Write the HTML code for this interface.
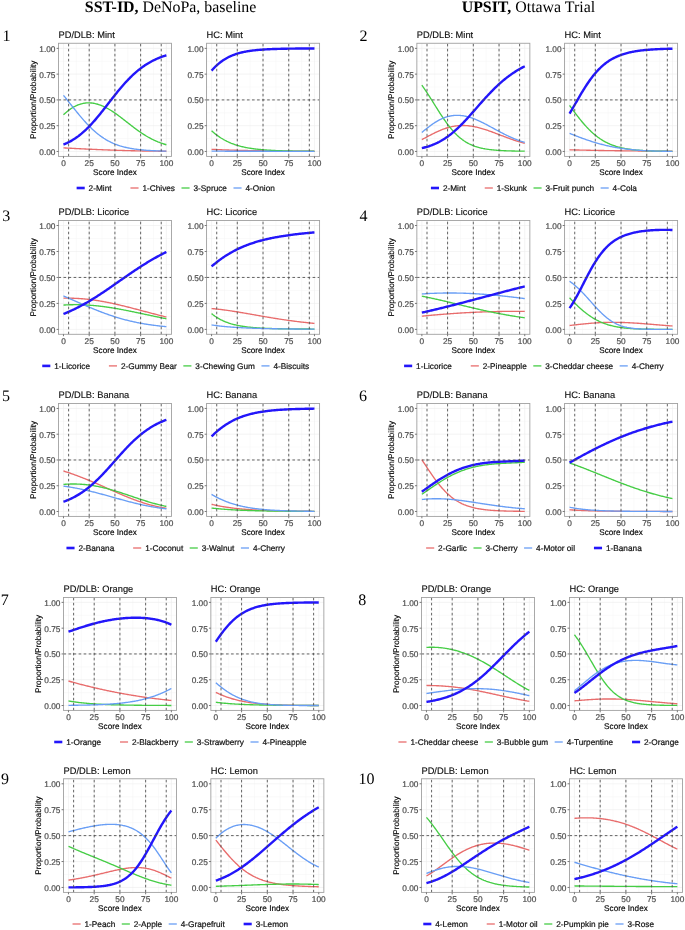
<!DOCTYPE html>
<html><head><meta charset="utf-8"><style>
html,body{margin:0;padding:0;background:#fff;}
svg{display:block;will-change:transform;}
text{font-family:"Liberation Sans",sans-serif;text-rendering:geometricPrecision;}
.mt{font-family:"Liberation Serif",serif;font-size:15.9px;fill:#000;}
.nm{font-family:"Liberation Serif",serif;font-size:16px;fill:#000;}
.tk{font-size:8.3px;fill:#4d4d4d;stroke:#4d4d4d;stroke-width:0.2px;}
.ax{font-size:8.2px;fill:#000;stroke:#000;stroke-width:0.15px;}
.ti{font-size:9.3px;fill:#111;stroke:#111;stroke-width:0.15px;}
.lg{font-size:8.25px;fill:#111;stroke:#111;stroke-width:0.2px;}
</style></head><body>
<svg width="685" height="930" viewBox="0 0 685 930">
<rect width="685" height="930" fill="#fff"/>
<text x="170.6" y="12.3" class="mt" text-anchor="middle"><tspan font-weight="bold">SST-ID,</tspan> DeNoPa, baseline</text>
<text x="528.4" y="12.3" class="mt" text-anchor="middle"><tspan font-weight="bold">UPSIT,</tspan> Ottawa Trial</text>
<text x="2.45" y="40.9" class="nm">1</text>
<text x="359.5" y="40.8" class="nm">2</text>
<text x="2.2" y="220.8" class="nm">3</text>
<text x="359.5" y="220.7" class="nm">4</text>
<text x="1.9" y="400.8" class="nm">5</text>
<text x="359" y="400.8" class="nm">6</text>
<text x="0.8" y="604.9" class="nm">7</text>
<text x="358.3" y="604.9" class="nm">8</text>
<text x="1" y="784.4" class="nm">9</text>
<text x="358.5" y="784.4" class="nm">10</text>
<path d="M76.33 43.26V156.4M102.06 43.26V156.4M127.78 43.26V156.4M153.51 43.26V156.4M58.47 138.56H171.47M58.47 112.79H171.47M58.47 87.02H171.47M58.47 61.25H171.47" stroke="#f4f4f4" stroke-width="0.5" fill="none"/>
<path d="M63.47 43.26V156.4M89.19 43.26V156.4M114.92 43.26V156.4M140.64 43.26V156.4M166.37 43.26V156.4M58.47 151.45H171.47M58.47 125.68H171.47M58.47 99.91H171.47M58.47 74.13H171.47M58.47 48.36H171.47" stroke="#ececec" stroke-width="0.6" fill="none"/>
<path d="M63.47 147.89 64.33 147.94 65.19 147.98 66.04 148.03 66.9 148.07 67.76 148.12 68.61 148.16 69.47 148.2 70.33 148.25 71.19 148.29 72.05 148.34 72.9 148.38 73.76 148.42 74.62 148.47 75.47 148.51 76.33 148.55 77.19 148.6 78.05 148.64 78.91 148.68 79.76 148.72 80.62 148.76 81.48 148.81 82.33 148.85 83.19 148.89 84.05 148.93 84.91 148.97 85.77 149.01 86.62 149.05 87.48 149.09 88.34 149.13 89.19 149.17 90.05 149.21 90.91 149.25 91.77 149.29 92.62 149.33 93.48 149.37 94.34 149.4 95.2 149.44 96.05 149.48 96.91 149.52 97.77 149.55 98.63 149.59 99.48 149.63 100.34 149.66 101.2 149.7 102.06 149.73 102.91 149.77 103.77 149.8 104.63 149.84 105.49 149.87 106.34 149.9 107.2 149.94 108.06 149.97 108.92 150 109.77 150.03 110.63 150.07 111.49 150.1 112.35 150.13 113.2 150.16 114.06 150.19 114.92 150.22 115.78 150.25 116.63 150.28 117.49 150.31 118.35 150.33 119.21 150.36 120.06 150.39 120.92 150.42 121.78 150.44 122.64 150.47 123.5 150.49 124.35 150.52 125.21 150.55 126.07 150.57 126.92 150.59 127.78 150.62 128.64 150.64 129.5 150.66 130.35 150.69 131.21 150.71 132.07 150.73 132.93 150.75 133.78 150.77 134.64 150.79 135.5 150.81 136.36 150.83 137.22 150.85 138.07 150.87 138.93 150.89 139.79 150.91 140.64 150.92 141.5 150.94 142.36 150.96 143.22 150.97 144.07 150.99 144.93 151.01 145.79 151.02 146.65 151.04 147.5 151.05 148.36 151.06 149.22 151.08 150.08 151.09 150.94 151.1 151.79 151.12 152.65 151.13 153.51 151.14 154.36 151.15 155.22 151.16 156.08 151.18 156.94 151.19 157.79 151.2 158.65 151.21 159.51 151.22 160.37 151.23 161.22 151.23 162.08 151.24 162.94 151.25 163.8 151.26 164.65 151.27 165.51 151.28 166.37 151.28" stroke="#e86c6c" stroke-width="1.35" fill="none" stroke-linejoin="round"/>
<path d="M63.47 114.76 64.33 113.96 65.19 113.19 66.04 112.44 66.9 111.72 67.76 111.02 68.61 110.35 69.47 109.71 70.33 109.1 71.19 108.52 72.05 107.97 72.9 107.44 73.76 106.95 74.62 106.48 75.47 106.04 76.33 105.63 77.19 105.25 78.05 104.9 78.91 104.58 79.76 104.29 80.62 104.02 81.48 103.79 82.33 103.58 83.19 103.4 84.05 103.24 84.91 103.12 85.77 103.02 86.62 102.94 87.48 102.9 88.34 102.87 89.19 102.88 90.05 102.91 90.91 102.96 91.77 103.04 92.62 103.14 93.48 103.27 94.34 103.42 95.2 103.6 96.05 103.79 96.91 104.01 97.77 104.25 98.63 104.52 99.48 104.8 100.34 105.11 101.2 105.44 102.06 105.78 102.91 106.15 103.77 106.53 104.63 106.94 105.49 107.36 106.34 107.8 107.2 108.26 108.06 108.74 108.92 109.23 109.77 109.74 110.63 110.26 111.49 110.79 112.35 111.35 113.2 111.91 114.06 112.49 114.92 113.07 115.78 113.67 116.63 114.28 117.49 114.9 118.35 115.53 119.21 116.17 120.06 116.81 120.92 117.46 121.78 118.11 122.64 118.78 123.5 119.44 124.35 120.11 125.21 120.78 126.07 121.45 126.92 122.12 127.78 122.8 128.64 123.47 129.5 124.14 130.35 124.81 131.21 125.47 132.07 126.13 132.93 126.79 133.78 127.44 134.64 128.09 135.5 128.73 136.36 129.36 137.22 129.99 138.07 130.6 138.93 131.21 139.79 131.81 140.64 132.4 141.5 132.98 142.36 133.55 143.22 134.11 144.07 134.65 144.93 135.19 145.79 135.71 146.65 136.23 147.5 136.73 148.36 137.22 149.22 137.69 150.08 138.16 150.94 138.61 151.79 139.05 152.65 139.48 153.51 139.9 154.36 140.3 155.22 140.69 156.08 141.07 156.94 141.44 157.79 141.8 158.65 142.14 159.51 142.48 160.37 142.8 161.22 143.11 162.08 143.42 162.94 143.71 163.8 143.99 164.65 144.26 165.51 144.52 166.37 144.77" stroke="#46cd46" stroke-width="1.35" fill="none" stroke-linejoin="round"/>
<path d="M63.47 95.33 64.33 96.38 65.19 97.44 66.04 98.5 66.9 99.57 67.76 100.65 68.61 101.72 69.47 102.8 70.33 103.89 71.19 104.97 72.05 106.05 72.9 107.13 73.76 108.21 74.62 109.28 75.47 110.35 76.33 111.42 77.19 112.47 78.05 113.52 78.91 114.57 79.76 115.6 80.62 116.62 81.48 117.63 82.33 118.63 83.19 119.62 84.05 120.59 84.91 121.55 85.77 122.5 86.62 123.43 87.48 124.34 88.34 125.24 89.19 126.12 90.05 126.98 90.91 127.83 91.77 128.65 92.62 129.46 93.48 130.25 94.34 131.02 95.2 131.77 96.05 132.51 96.91 133.22 97.77 133.92 98.63 134.59 99.48 135.25 100.34 135.88 101.2 136.5 102.06 137.1 102.91 137.68 103.77 138.25 104.63 138.79 105.49 139.32 106.34 139.83 107.2 140.32 108.06 140.79 108.92 141.25 109.77 141.69 110.63 142.12 111.49 142.53 112.35 142.92 113.2 143.3 114.06 143.66 114.92 144.02 115.78 144.35 116.63 144.68 117.49 144.99 118.35 145.29 119.21 145.57 120.06 145.85 120.92 146.11 121.78 146.36 122.64 146.6 123.5 146.83 124.35 147.05 125.21 147.26 126.07 147.47 126.92 147.66 127.78 147.84 128.64 148.02 129.5 148.19 130.35 148.35 131.21 148.5 132.07 148.65 132.93 148.79 133.78 148.92 134.64 149.05 135.5 149.17 136.36 149.29 137.22 149.4 138.07 149.5 138.93 149.6 139.79 149.69 140.64 149.78 141.5 149.87 142.36 149.95 143.22 150.03 144.07 150.1 144.93 150.17 145.79 150.24 146.65 150.3 147.5 150.36 148.36 150.42 149.22 150.48 150.08 150.53 150.94 150.58 151.79 150.62 152.65 150.67 153.51 150.71 154.36 150.75 155.22 150.79 156.08 150.82 156.94 150.86 157.79 150.89 158.65 150.92 159.51 150.95 160.37 150.98 161.22 151 162.08 151.03 162.94 151.05 163.8 151.07 164.65 151.09 165.51 151.11 166.37 151.13" stroke="#699ef5" stroke-width="1.35" fill="none" stroke-linejoin="round"/>
<path d="M63.47 144.56 64.33 144.21 65.19 143.84 66.04 143.46 66.9 143.07 67.76 142.65 68.61 142.22 69.47 141.78 70.33 141.32 71.19 140.84 72.05 140.34 72.9 139.82 73.76 139.29 74.62 138.74 75.47 138.17 76.33 137.58 77.19 136.97 78.05 136.35 78.91 135.7 79.76 135.04 80.62 134.35 81.48 133.65 82.33 132.92 83.19 132.18 84.05 131.42 84.91 130.63 85.77 129.83 86.62 129.01 87.48 128.17 88.34 127.32 89.19 126.44 90.05 125.55 90.91 124.64 91.77 123.71 92.62 122.77 93.48 121.81 94.34 120.84 95.2 119.85 96.05 118.85 96.91 117.83 97.77 116.81 98.63 115.77 99.48 114.72 100.34 113.66 101.2 112.59 102.06 111.51 102.91 110.43 103.77 109.34 104.63 108.25 105.49 107.15 106.34 106.05 107.2 104.94 108.06 103.84 108.92 102.73 109.77 101.62 110.63 100.52 111.49 99.42 112.35 98.32 113.2 97.23 114.06 96.14 114.92 95.06 115.78 93.98 116.63 92.91 117.49 91.85 118.35 90.8 119.21 89.76 120.06 88.74 120.92 87.72 121.78 86.71 122.64 85.72 123.5 84.74 124.35 83.78 125.21 82.82 126.07 81.89 126.92 80.96 127.78 80.06 128.64 79.17 129.5 78.29 130.35 77.43 131.21 76.59 132.07 75.76 132.93 74.95 133.78 74.16 134.64 73.38 135.5 72.62 136.36 71.88 137.22 71.15 138.07 70.44 138.93 69.75 139.79 69.07 140.64 68.41 141.5 67.77 142.36 67.14 143.22 66.53 144.07 65.94 144.93 65.36 145.79 64.79 146.65 64.24 147.5 63.71 148.36 63.19 149.22 62.69 150.08 62.2 150.94 61.72 151.79 61.26 152.65 60.81 153.51 60.38 154.36 59.96 155.22 59.55 156.08 59.15 156.94 58.77 157.79 58.39 158.65 58.03 159.51 57.68 160.37 57.35 161.22 57.02 162.08 56.7 162.94 56.39 163.8 56.1 164.65 55.81 165.51 55.53 166.37 55.26" stroke="#2316fa" stroke-width="2.4" fill="none" stroke-linejoin="round"/>
<path d="M68.61 156.4V43.26M89.19 156.4V43.26M114.92 156.4V43.26M140.64 156.4V43.26M161.22 156.4V43.26" stroke="#484848" stroke-width="0.85" fill="none" stroke-dasharray="2.6 2.4"/>
<path d="M58.47 99.91H171.47" stroke="#484848" stroke-width="0.85" fill="none" stroke-dasharray="2.6 2.45"/>
<rect x="58.47" y="43.26" width="113" height="113.14" fill="none" stroke="#a0a0a0" stroke-width="0.9"/>
<path d="M56.57 151.45H58.47M56.57 125.68H58.47M56.57 99.91H58.47M56.57 74.13H58.47M56.57 48.36H58.47M63.47 156.4V158.3M89.19 156.4V158.3M114.92 156.4V158.3M140.64 156.4V158.3M166.37 156.4V158.3" stroke="#555" stroke-width="0.8" fill="none"/>
<text x="55.47" y="154.95" class="tk" text-anchor="end">0.00</text>
<text x="55.47" y="129.18" class="tk" text-anchor="end">0.25</text>
<text x="55.47" y="103.41" class="tk" text-anchor="end">0.50</text>
<text x="55.47" y="77.63" class="tk" text-anchor="end">0.75</text>
<text x="55.47" y="51.86" class="tk" text-anchor="end">1.00</text>
<text x="63.47" y="165.8" class="tk" text-anchor="middle">0</text>
<text x="89.19" y="165.8" class="tk" text-anchor="middle">25</text>
<text x="114.92" y="165.8" class="tk" text-anchor="middle">50</text>
<text x="140.64" y="165.8" class="tk" text-anchor="middle">75</text>
<text x="166.37" y="165.8" class="tk" text-anchor="middle">100</text>
<text x="114.97" y="175.1" class="ax" text-anchor="middle">Score Index</text>
<text x="58.47" y="38.06" class="ti">PD/DLB: Mint</text>
<text x="35.8" y="99.83" class="ax" text-anchor="middle" transform="rotate(-90 35.8 99.83)">Proportion/Probability</text>
<path d="M224.43 43.26V156.4M250.16 43.26V156.4M275.88 43.26V156.4M301.61 43.26V156.4M206.57 138.56H319.57M206.57 112.79H319.57M206.57 87.02H319.57M206.57 61.25H319.57" stroke="#f4f4f4" stroke-width="0.5" fill="none"/>
<path d="M211.57 43.26V156.4M237.29 43.26V156.4M263.02 43.26V156.4M288.75 43.26V156.4M314.47 43.26V156.4M206.57 151.45H319.57M206.57 125.68H319.57M206.57 99.91H319.57M206.57 74.13H319.57M206.57 48.36H319.57" stroke="#ececec" stroke-width="0.6" fill="none"/>
<path d="M211.57 149.31 212.43 149.35 213.28 149.39 214.14 149.44 215 149.48 215.86 149.51 216.72 149.55 217.57 149.59 218.43 149.63 219.29 149.66 220.14 149.7 221 149.73 221.86 149.77 222.72 149.8 223.57 149.83 224.43 149.87 225.29 149.9 226.15 149.93 227 149.96 227.86 149.99 228.72 150.02 229.58 150.05 230.44 150.07 231.29 150.1 232.15 150.13 233.01 150.16 233.86 150.18 234.72 150.21 235.58 150.23 236.44 150.26 237.29 150.28 238.15 150.3 239.01 150.33 239.87 150.35 240.72 150.37 241.58 150.39 242.44 150.41 243.3 150.43 244.15 150.45 245.01 150.47 245.87 150.49 246.73 150.51 247.58 150.53 248.44 150.55 249.3 150.57 250.16 150.58 251.01 150.6 251.87 150.62 252.73 150.63 253.59 150.65 254.44 150.67 255.3 150.68 256.16 150.7 257.02 150.71 257.88 150.73 258.73 150.74 259.59 150.76 260.45 150.77 261.31 150.78 262.16 150.8 263.02 150.81 263.88 150.82 264.73 150.83 265.59 150.85 266.45 150.86 267.31 150.87 268.17 150.88 269.02 150.89 269.88 150.9 270.74 150.92 271.59 150.93 272.45 150.94 273.31 150.95 274.17 150.96 275.02 150.97 275.88 150.98 276.74 150.99 277.6 150.99 278.45 151 279.31 151.01 280.17 151.02 281.03 151.03 281.88 151.04 282.74 151.05 283.6 151.05 284.46 151.06 285.31 151.07 286.17 151.08 287.03 151.08 287.89 151.09 288.75 151.1 289.6 151.11 290.46 151.11 291.32 151.12 292.17 151.13 293.03 151.13 293.89 151.14 294.75 151.14 295.61 151.15 296.46 151.16 297.32 151.16 298.18 151.17 299.03 151.17 299.89 151.18 300.75 151.18 301.61 151.19 302.46 151.19 303.32 151.2 304.18 151.2 305.04 151.21 305.89 151.21 306.75 151.22 307.61 151.22 308.47 151.23 309.32 151.23 310.18 151.24 311.04 151.24 311.9 151.25 312.75 151.25 313.61 151.25 314.47 151.26" stroke="#e86c6c" stroke-width="1.35" fill="none" stroke-linejoin="round"/>
<path d="M211.57 130.78 212.43 131.54 213.28 132.28 214.14 133 215 133.7 215.86 134.38 216.72 135.03 217.57 135.67 218.43 136.28 219.29 136.87 220.14 137.44 221 138 221.86 138.53 222.72 139.04 223.57 139.54 224.43 140.02 225.29 140.48 226.15 140.92 227 141.35 227.86 141.76 228.72 142.16 229.58 142.54 230.44 142.9 231.29 143.26 232.15 143.59 233.01 143.92 233.86 144.23 234.72 144.53 235.58 144.82 236.44 145.09 237.29 145.36 238.15 145.61 239.01 145.86 239.87 146.09 240.72 146.31 241.58 146.53 242.44 146.74 243.3 146.93 244.15 147.12 245.01 147.3 245.87 147.48 246.73 147.64 247.58 147.8 248.44 147.96 249.3 148.1 250.16 148.24 251.01 148.38 251.87 148.51 252.73 148.63 253.59 148.75 254.44 148.86 255.3 148.97 256.16 149.07 257.02 149.17 257.88 149.27 258.73 149.36 259.59 149.45 260.45 149.53 261.31 149.61 262.16 149.68 263.02 149.76 263.88 149.83 264.73 149.9 265.59 149.96 266.45 150.02 267.31 150.08 268.17 150.14 269.02 150.19 269.88 150.24 270.74 150.29 271.59 150.34 272.45 150.38 273.31 150.43 274.17 150.47 275.02 150.51 275.88 150.55 276.74 150.58 277.6 150.62 278.45 150.65 279.31 150.68 280.17 150.71 281.03 150.74 281.88 150.77 282.74 150.8 283.6 150.83 284.46 150.85 285.31 150.87 286.17 150.9 287.03 150.92 287.89 150.94 288.75 150.96 289.6 150.98 290.46 151 291.32 151.01 292.17 151.03 293.03 151.05 293.89 151.06 294.75 151.08 295.61 151.09 296.46 151.11 297.32 151.12 298.18 151.13 299.03 151.14 299.89 151.16 300.75 151.17 301.61 151.18 302.46 151.19 303.32 151.2 304.18 151.21 305.04 151.22 305.89 151.23 306.75 151.23 307.61 151.24 308.47 151.25 309.32 151.26 310.18 151.26 311.04 151.27 311.9 151.28 312.75 151.28 313.61 151.29 314.47 151.3" stroke="#46cd46" stroke-width="1.35" fill="none" stroke-linejoin="round"/>
<path d="M211.57 151.16 212.43 151.16 213.28 151.16 214.14 151.17 215 151.17 215.86 151.17 216.72 151.18 217.57 151.18 218.43 151.18 219.29 151.18 220.14 151.19 221 151.19 221.86 151.19 222.72 151.19 223.57 151.19 224.43 151.2 225.29 151.2 226.15 151.2 227 151.2 227.86 151.21 228.72 151.21 229.58 151.21 230.44 151.21 231.29 151.22 232.15 151.22 233.01 151.22 233.86 151.22 234.72 151.22 235.58 151.23 236.44 151.23 237.29 151.23 238.15 151.23 239.01 151.23 239.87 151.24 240.72 151.24 241.58 151.24 242.44 151.24 243.3 151.24 244.15 151.25 245.01 151.25 245.87 151.25 246.73 151.25 247.58 151.25 248.44 151.25 249.3 151.26 250.16 151.26 251.01 151.26 251.87 151.26 252.73 151.26 253.59 151.27 254.44 151.27 255.3 151.27 256.16 151.27 257.02 151.27 257.88 151.27 258.73 151.28 259.59 151.28 260.45 151.28 261.31 151.28 262.16 151.28 263.02 151.28 263.88 151.28 264.73 151.29 265.59 151.29 266.45 151.29 267.31 151.29 268.17 151.29 269.02 151.29 269.88 151.29 270.74 151.3 271.59 151.3 272.45 151.3 273.31 151.3 274.17 151.3 275.02 151.3 275.88 151.3 276.74 151.31 277.6 151.31 278.45 151.31 279.31 151.31 280.17 151.31 281.03 151.31 281.88 151.31 282.74 151.31 283.6 151.32 284.46 151.32 285.31 151.32 286.17 151.32 287.03 151.32 287.89 151.32 288.75 151.32 289.6 151.32 290.46 151.32 291.32 151.33 292.17 151.33 293.03 151.33 293.89 151.33 294.75 151.33 295.61 151.33 296.46 151.33 297.32 151.33 298.18 151.33 299.03 151.34 299.89 151.34 300.75 151.34 301.61 151.34 302.46 151.34 303.32 151.34 304.18 151.34 305.04 151.34 305.89 151.34 306.75 151.34 307.61 151.35 308.47 151.35 309.32 151.35 310.18 151.35 311.04 151.35 311.9 151.35 312.75 151.35 313.61 151.35 314.47 151.35" stroke="#699ef5" stroke-width="1.35" fill="none" stroke-linejoin="round"/>
<path d="M211.57 70.67 212.43 69.7 213.28 68.77 214.14 67.87 215 67.01 215.86 66.17 216.72 65.37 217.57 64.6 218.43 63.86 219.29 63.14 220.14 62.46 221 61.81 221.86 61.18 222.72 60.58 223.57 60 224.43 59.45 225.29 58.93 226.15 58.42 227 57.94 227.86 57.49 228.72 57.05 229.58 56.63 230.44 56.23 231.29 55.85 232.15 55.49 233.01 55.15 233.86 54.82 234.72 54.51 235.58 54.21 236.44 53.92 237.29 53.65 238.15 53.4 239.01 53.15 239.87 52.92 240.72 52.7 241.58 52.49 242.44 52.29 243.3 52.1 244.15 51.91 245.01 51.74 245.87 51.58 246.73 51.42 247.58 51.27 248.44 51.13 249.3 51 250.16 50.87 251.01 50.75 251.87 50.64 252.73 50.53 253.59 50.42 254.44 50.32 255.3 50.23 256.16 50.14 257.02 50.06 257.88 49.97 258.73 49.9 259.59 49.82 260.45 49.76 261.31 49.69 262.16 49.63 263.02 49.57 263.88 49.51 264.73 49.46 265.59 49.4 266.45 49.36 267.31 49.31 268.17 49.27 269.02 49.22 269.88 49.18 270.74 49.15 271.59 49.11 272.45 49.07 273.31 49.04 274.17 49.01 275.02 48.98 275.88 48.95 276.74 48.93 277.6 48.9 278.45 48.88 279.31 48.85 280.17 48.83 281.03 48.81 281.88 48.79 282.74 48.77 283.6 48.75 284.46 48.73 285.31 48.72 286.17 48.7 287.03 48.69 287.89 48.67 288.75 48.66 289.6 48.64 290.46 48.63 291.32 48.62 292.17 48.61 293.03 48.6 293.89 48.59 294.75 48.58 295.61 48.57 296.46 48.56 297.32 48.55 298.18 48.54 299.03 48.54 299.89 48.53 300.75 48.52 301.61 48.51 302.46 48.51 303.32 48.5 304.18 48.5 305.04 48.49 305.89 48.48 306.75 48.48 307.61 48.47 308.47 48.47 309.32 48.46 310.18 48.46 311.04 48.46 311.9 48.45 312.75 48.45 313.61 48.45 314.47 48.44" stroke="#2316fa" stroke-width="2.4" fill="none" stroke-linejoin="round"/>
<path d="M216.72 156.4V43.26M237.29 156.4V43.26M263.02 156.4V43.26M288.75 156.4V43.26M309.32 156.4V43.26" stroke="#484848" stroke-width="0.85" fill="none" stroke-dasharray="2.6 2.4"/>
<path d="M206.57 99.91H319.57" stroke="#484848" stroke-width="0.85" fill="none" stroke-dasharray="2.6 2.45"/>
<rect x="206.57" y="43.26" width="113" height="113.14" fill="none" stroke="#a0a0a0" stroke-width="0.9"/>
<path d="M204.67 151.45H206.57M204.67 125.68H206.57M204.67 99.91H206.57M204.67 74.13H206.57M204.67 48.36H206.57M211.57 156.4V158.3M237.29 156.4V158.3M263.02 156.4V158.3M288.75 156.4V158.3M314.47 156.4V158.3" stroke="#555" stroke-width="0.8" fill="none"/>
<text x="203.57" y="154.95" class="tk" text-anchor="end">0.00</text>
<text x="203.57" y="129.18" class="tk" text-anchor="end">0.25</text>
<text x="203.57" y="103.41" class="tk" text-anchor="end">0.50</text>
<text x="203.57" y="77.63" class="tk" text-anchor="end">0.75</text>
<text x="203.57" y="51.86" class="tk" text-anchor="end">1.00</text>
<text x="211.57" y="165.8" class="tk" text-anchor="middle">0</text>
<text x="237.29" y="165.8" class="tk" text-anchor="middle">25</text>
<text x="263.02" y="165.8" class="tk" text-anchor="middle">50</text>
<text x="288.75" y="165.8" class="tk" text-anchor="middle">75</text>
<text x="314.47" y="165.8" class="tk" text-anchor="middle">100</text>
<text x="263.07" y="175.1" class="ax" text-anchor="middle">Score Index</text>
<text x="206.57" y="38.06" class="ti">HC: Mint</text>
<path d="M434.72 43.26V156.4M460.45 43.26V156.4M486.17 43.26V156.4M511.9 43.26V156.4M416.86 138.56H529.86M416.86 112.79H529.86M416.86 87.02H529.86M416.86 61.25H529.86" stroke="#f4f4f4" stroke-width="0.5" fill="none"/>
<path d="M421.86 43.26V156.4M447.59 43.26V156.4M473.31 43.26V156.4M499.04 43.26V156.4M524.76 43.26V156.4M416.86 151.45H529.86M416.86 125.68H529.86M416.86 99.91H529.86M416.86 74.13H529.86M416.86 48.36H529.86" stroke="#ececec" stroke-width="0.6" fill="none"/>
<path d="M421.86 139.62 422.72 139.17 423.57 138.72 424.43 138.26 425.29 137.8 426.15 137.34 427 136.88 427.86 136.43 428.72 135.97 429.58 135.52 430.44 135.07 431.29 134.62 432.15 134.18 433.01 133.74 433.87 133.31 434.72 132.89 435.58 132.47 436.44 132.07 437.3 131.67 438.15 131.28 439.01 130.9 439.87 130.53 440.73 130.17 441.58 129.82 442.44 129.48 443.3 129.16 444.16 128.85 445.01 128.55 445.87 128.26 446.73 127.99 447.59 127.73 448.44 127.48 449.3 127.25 450.16 127.03 451.01 126.83 451.87 126.64 452.73 126.46 453.59 126.3 454.44 126.15 455.3 126.02 456.16 125.9 457.02 125.8 457.88 125.71 458.73 125.64 459.59 125.58 460.45 125.54 461.31 125.51 462.16 125.49 463.02 125.49 463.88 125.5 464.74 125.53 465.59 125.56 466.45 125.62 467.31 125.68 468.17 125.76 469.02 125.85 469.88 125.96 470.74 126.07 471.6 126.2 472.45 126.34 473.31 126.49 474.17 126.65 475.02 126.82 475.88 127.01 476.74 127.2 477.6 127.4 478.46 127.61 479.31 127.84 480.17 128.07 481.03 128.3 481.88 128.55 482.74 128.8 483.6 129.07 484.46 129.34 485.31 129.61 486.17 129.89 487.03 130.18 487.89 130.47 488.75 130.77 489.6 131.07 490.46 131.38 491.32 131.69 492.18 132 493.03 132.32 493.89 132.64 494.75 132.96 495.61 133.29 496.46 133.61 497.32 133.94 498.18 134.27 499.04 134.6 499.89 134.93 500.75 135.26 501.61 135.59 502.47 135.91 503.32 136.24 504.18 136.57 505.04 136.89 505.89 137.21 506.75 137.53 507.61 137.85 508.47 138.17 509.32 138.48 510.18 138.79 511.04 139.09 511.9 139.4 512.75 139.7 513.61 139.99 514.47 140.28 515.33 140.57 516.18 140.85 517.04 141.13 517.9 141.4 518.76 141.67 519.62 141.94 520.47 142.2 521.33 142.45 522.19 142.7 523.04 142.95 523.9 143.19 524.76 143.42" stroke="#e86c6c" stroke-width="1.35" fill="none" stroke-linejoin="round"/>
<path d="M421.86 85.18 422.72 86.39 423.57 87.61 424.43 88.85 425.29 90.11 426.15 91.39 427 92.69 427.86 94.01 428.72 95.33 429.58 96.67 430.44 98.02 431.29 99.38 432.15 100.75 433.01 102.12 433.87 103.5 434.72 104.87 435.58 106.25 436.44 107.62 437.3 108.98 438.15 110.34 439.01 111.69 439.87 113.03 440.73 114.36 441.58 115.67 442.44 116.97 443.3 118.24 444.16 119.5 445.01 120.73 445.87 121.94 446.73 123.13 447.59 124.29 448.44 125.42 449.3 126.53 450.16 127.61 451.01 128.65 451.87 129.67 452.73 130.66 453.59 131.62 454.44 132.54 455.3 133.44 456.16 134.3 457.02 135.14 457.88 135.94 458.73 136.71 459.59 137.45 460.45 138.16 461.31 138.84 462.16 139.5 463.02 140.12 463.88 140.72 464.74 141.29 465.59 141.83 466.45 142.35 467.31 142.84 468.17 143.31 469.02 143.76 469.88 144.19 470.74 144.59 471.6 144.97 472.45 145.33 473.31 145.68 474.17 146 475.02 146.31 475.88 146.6 476.74 146.88 477.6 147.14 478.46 147.39 479.31 147.62 480.17 147.84 481.03 148.05 481.88 148.24 482.74 148.43 483.6 148.6 484.46 148.76 485.31 148.92 486.17 149.06 487.03 149.2 487.89 149.33 488.75 149.45 489.6 149.56 490.46 149.67 491.32 149.77 492.18 149.86 493.03 149.95 493.89 150.03 494.75 150.11 495.61 150.19 496.46 150.25 497.32 150.32 498.18 150.38 499.04 150.44 499.89 150.49 500.75 150.54 501.61 150.59 502.47 150.63 503.32 150.68 504.18 150.71 505.04 150.75 505.89 150.79 506.75 150.82 507.61 150.85 508.47 150.88 509.32 150.9 510.18 150.93 511.04 150.95 511.9 150.97 512.75 151 513.61 151.01 514.47 151.03 515.33 151.05 516.18 151.07 517.04 151.08 517.9 151.1 518.76 151.11 519.62 151.12 520.47 151.13 521.33 151.14 522.19 151.15 523.04 151.16 523.9 151.17 524.76 151.18" stroke="#46cd46" stroke-width="1.35" fill="none" stroke-linejoin="round"/>
<path d="M421.86 132.45 422.72 131.75 423.57 131.04 424.43 130.34 425.29 129.65 426.15 128.96 427 128.28 427.86 127.61 428.72 126.94 429.58 126.29 430.44 125.65 431.29 125.03 432.15 124.42 433.01 123.82 433.87 123.24 434.72 122.68 435.58 122.14 436.44 121.61 437.3 121.11 438.15 120.62 439.01 120.15 439.87 119.7 440.73 119.28 441.58 118.87 442.44 118.49 443.3 118.13 444.16 117.79 445.01 117.47 445.87 117.18 446.73 116.9 447.59 116.65 448.44 116.42 449.3 116.22 450.16 116.03 451.01 115.87 451.87 115.73 452.73 115.61 453.59 115.51 454.44 115.43 455.3 115.38 456.16 115.34 457.02 115.33 457.88 115.34 458.73 115.36 459.59 115.41 460.45 115.47 461.31 115.56 462.16 115.66 463.02 115.78 463.88 115.92 464.74 116.08 465.59 116.26 466.45 116.45 467.31 116.66 468.17 116.88 469.02 117.12 469.88 117.38 470.74 117.65 471.6 117.93 472.45 118.23 473.31 118.54 474.17 118.87 475.02 119.2 475.88 119.55 476.74 119.91 477.6 120.28 478.46 120.66 479.31 121.05 480.17 121.45 481.03 121.86 481.88 122.28 482.74 122.7 483.6 123.13 484.46 123.57 485.31 124.01 486.17 124.46 487.03 124.91 487.89 125.37 488.75 125.82 489.6 126.29 490.46 126.75 491.32 127.22 492.18 127.68 493.03 128.15 493.89 128.62 494.75 129.09 495.61 129.55 496.46 130.02 497.32 130.48 498.18 130.94 499.04 131.4 499.89 131.86 500.75 132.31 501.61 132.76 502.47 133.2 503.32 133.64 504.18 134.07 505.04 134.5 505.89 134.93 506.75 135.34 507.61 135.75 508.47 136.16 509.32 136.56 510.18 136.95 511.04 137.33 511.9 137.71 512.75 138.08 513.61 138.44 514.47 138.8 515.33 139.15 516.18 139.49 517.04 139.82 517.9 140.15 518.76 140.46 519.62 140.77 520.47 141.08 521.33 141.37 522.19 141.66 523.04 141.94 523.9 142.21 524.76 142.47" stroke="#699ef5" stroke-width="1.35" fill="none" stroke-linejoin="round"/>
<path d="M421.86 148.13 422.72 147.93 423.57 147.73 424.43 147.51 425.29 147.28 426.15 147.05 427 146.8 427.86 146.54 428.72 146.27 429.58 145.99 430.44 145.69 431.29 145.39 432.15 145.06 433.01 144.73 433.87 144.38 434.72 144.02 435.58 143.64 436.44 143.25 437.3 142.84 438.15 142.41 439.01 141.98 439.87 141.52 440.73 141.05 441.58 140.56 442.44 140.06 443.3 139.54 444.16 139 445.01 138.44 445.87 137.87 446.73 137.28 447.59 136.67 448.44 136.05 449.3 135.41 450.16 134.75 451.01 134.07 451.87 133.38 452.73 132.67 453.59 131.95 454.44 131.2 455.3 130.45 456.16 129.67 457.02 128.88 457.88 128.08 458.73 127.26 459.59 126.43 460.45 125.58 461.31 124.72 462.16 123.85 463.02 122.96 463.88 122.07 464.74 121.16 465.59 120.24 466.45 119.32 467.31 118.38 468.17 117.44 469.02 116.49 469.88 115.53 470.74 114.57 471.6 113.6 472.45 112.63 473.31 111.66 474.17 110.68 475.02 109.7 475.88 108.72 476.74 107.74 477.6 106.76 478.46 105.78 479.31 104.8 480.17 103.82 481.03 102.85 481.88 101.88 482.74 100.92 483.6 99.96 484.46 99.01 485.31 98.06 486.17 97.12 487.03 96.19 487.89 95.27 488.75 94.35 489.6 93.45 490.46 92.55 491.32 91.66 492.18 90.79 493.03 89.92 493.89 89.06 494.75 88.22 495.61 87.39 496.46 86.56 497.32 85.75 498.18 84.96 499.04 84.17 499.89 83.4 500.75 82.64 501.61 81.89 502.47 81.15 503.32 80.43 504.18 79.72 505.04 79.02 505.89 78.34 506.75 77.66 507.61 77 508.47 76.36 509.32 75.72 510.18 75.1 511.04 74.49 511.9 73.89 512.75 73.31 513.61 72.73 514.47 72.17 515.33 71.62 516.18 71.08 517.04 70.55 517.9 70.04 518.76 69.53 519.62 69.04 520.47 68.56 521.33 68.09 522.19 67.62 523.04 67.17 523.9 66.73 524.76 66.3" stroke="#2316fa" stroke-width="2.4" fill="none" stroke-linejoin="round"/>
<path d="M427 156.4V43.26M447.59 156.4V43.26M473.31 156.4V43.26M499.04 156.4V43.26M519.62 156.4V43.26" stroke="#484848" stroke-width="0.85" fill="none" stroke-dasharray="2.6 2.4"/>
<path d="M416.86 99.91H529.86" stroke="#484848" stroke-width="0.85" fill="none" stroke-dasharray="2.6 2.45"/>
<rect x="416.86" y="43.26" width="113" height="113.14" fill="none" stroke="#a0a0a0" stroke-width="0.9"/>
<path d="M414.96 151.45H416.86M414.96 125.68H416.86M414.96 99.91H416.86M414.96 74.13H416.86M414.96 48.36H416.86M421.86 156.4V158.3M447.59 156.4V158.3M473.31 156.4V158.3M499.04 156.4V158.3M524.76 156.4V158.3" stroke="#555" stroke-width="0.8" fill="none"/>
<text x="413.86" y="154.95" class="tk" text-anchor="end">0.00</text>
<text x="413.86" y="129.18" class="tk" text-anchor="end">0.25</text>
<text x="413.86" y="103.41" class="tk" text-anchor="end">0.50</text>
<text x="413.86" y="77.63" class="tk" text-anchor="end">0.75</text>
<text x="413.86" y="51.86" class="tk" text-anchor="end">1.00</text>
<text x="421.86" y="165.8" class="tk" text-anchor="middle">0</text>
<text x="447.59" y="165.8" class="tk" text-anchor="middle">25</text>
<text x="473.31" y="165.8" class="tk" text-anchor="middle">50</text>
<text x="499.04" y="165.8" class="tk" text-anchor="middle">75</text>
<text x="524.76" y="165.8" class="tk" text-anchor="middle">100</text>
<text x="473.36" y="175.1" class="ax" text-anchor="middle">Score Index</text>
<text x="416.86" y="38.06" class="ti">PD/DLB: Mint</text>
<text x="394.19" y="99.83" class="ax" text-anchor="middle" transform="rotate(-90 394.19 99.83)">Proportion/Probability</text>
<path d="M582.43 43.26V156.4M608.16 43.26V156.4M633.88 43.26V156.4M659.61 43.26V156.4M564.57 138.56H677.57M564.57 112.79H677.57M564.57 87.02H677.57M564.57 61.25H677.57" stroke="#f4f4f4" stroke-width="0.5" fill="none"/>
<path d="M569.57 43.26V156.4M595.3 43.26V156.4M621.02 43.26V156.4M646.75 43.26V156.4M672.47 43.26V156.4M564.57 151.45H677.57M564.57 125.68H677.57M564.57 99.91H677.57M564.57 74.13H677.57M564.57 48.36H677.57" stroke="#ececec" stroke-width="0.6" fill="none"/>
<path d="M569.57 149.79 570.43 149.81 571.29 149.84 572.14 149.86 573 149.89 573.86 149.91 574.72 149.93 575.57 149.96 576.43 149.98 577.29 150 578.15 150.02 579 150.04 579.86 150.06 580.72 150.08 581.58 150.11 582.43 150.13 583.29 150.15 584.15 150.17 585 150.18 585.86 150.2 586.72 150.22 587.58 150.24 588.44 150.26 589.29 150.28 590.15 150.29 591.01 150.31 591.87 150.33 592.72 150.35 593.58 150.36 594.44 150.38 595.3 150.39 596.15 150.41 597.01 150.43 597.87 150.44 598.73 150.46 599.58 150.47 600.44 150.49 601.3 150.5 602.16 150.52 603.01 150.53 603.87 150.54 604.73 150.56 605.59 150.57 606.44 150.58 607.3 150.6 608.16 150.61 609.02 150.62 609.87 150.63 610.73 150.65 611.59 150.66 612.45 150.67 613.3 150.68 614.16 150.69 615.02 150.71 615.88 150.72 616.73 150.73 617.59 150.74 618.45 150.75 619.31 150.76 620.16 150.77 621.02 150.78 621.88 150.79 622.74 150.8 623.59 150.81 624.45 150.82 625.31 150.83 626.17 150.84 627.02 150.85 627.88 150.86 628.74 150.87 629.6 150.88 630.45 150.88 631.31 150.89 632.17 150.9 633.03 150.91 633.88 150.92 634.74 150.93 635.6 150.93 636.46 150.94 637.31 150.95 638.17 150.96 639.03 150.96 639.88 150.97 640.74 150.98 641.6 150.99 642.46 150.99 643.32 151 644.17 151.01 645.03 151.01 645.89 151.02 646.75 151.03 647.6 151.03 648.46 151.04 649.32 151.05 650.18 151.05 651.03 151.06 651.89 151.06 652.75 151.07 653.61 151.07 654.46 151.08 655.32 151.09 656.18 151.09 657.04 151.1 657.89 151.1 658.75 151.11 659.61 151.11 660.47 151.12 661.32 151.12 662.18 151.13 663.04 151.13 663.89 151.14 664.75 151.14 665.61 151.15 666.47 151.15 667.33 151.16 668.18 151.16 669.04 151.16 669.9 151.17 670.75 151.17 671.61 151.18 672.47 151.18" stroke="#e86c6c" stroke-width="1.35" fill="none" stroke-linejoin="round"/>
<path d="M569.57 105.4 570.43 106.59 571.29 107.77 572.14 108.95 573 110.12 573.86 111.28 574.72 112.43 575.57 113.58 576.43 114.71 577.29 115.83 578.15 116.94 579 118.03 579.86 119.11 580.72 120.17 581.58 121.22 582.43 122.25 583.29 123.26 584.15 124.25 585 125.22 585.86 126.17 586.72 127.1 587.58 128.01 588.44 128.89 589.29 129.76 590.15 130.6 591.01 131.42 591.87 132.22 592.72 133 593.58 133.75 594.44 134.48 595.3 135.19 596.15 135.87 597.01 136.54 597.87 137.18 598.73 137.8 599.58 138.4 600.44 138.98 601.3 139.53 602.16 140.07 603.01 140.59 603.87 141.09 604.73 141.57 605.59 142.03 606.44 142.47 607.3 142.89 608.16 143.3 609.02 143.69 609.87 144.07 610.73 144.43 611.59 144.77 612.45 145.1 613.3 145.41 614.16 145.71 615.02 146 615.88 146.28 616.73 146.54 617.59 146.79 618.45 147.03 619.31 147.25 620.16 147.47 621.02 147.68 621.88 147.87 622.74 148.06 623.59 148.24 624.45 148.41 625.31 148.57 626.17 148.73 627.02 148.87 627.88 149.01 628.74 149.14 629.6 149.27 630.45 149.39 631.31 149.5 632.17 149.61 633.03 149.71 633.88 149.81 634.74 149.9 635.6 149.98 636.46 150.07 637.31 150.14 638.17 150.22 639.03 150.29 639.88 150.35 640.74 150.42 641.6 150.47 642.46 150.53 643.32 150.58 644.17 150.63 645.03 150.68 645.89 150.72 646.75 150.77 647.6 150.81 648.46 150.84 649.32 150.88 650.18 150.91 651.03 150.95 651.89 150.98 652.75 151 653.61 151.03 654.46 151.06 655.32 151.08 656.18 151.1 657.04 151.12 657.89 151.14 658.75 151.16 659.61 151.18 660.47 151.2 661.32 151.21 662.18 151.23 663.04 151.24 663.89 151.25 664.75 151.26 665.61 151.28 666.47 151.29 667.33 151.3 668.18 151.31 669.04 151.32 669.9 151.32 670.75 151.33 671.61 151.34 672.47 151.35" stroke="#46cd46" stroke-width="1.35" fill="none" stroke-linejoin="round"/>
<path d="M569.57 133.32 570.43 133.67 571.29 134.02 572.14 134.36 573 134.71 573.86 135.05 574.72 135.39 575.57 135.72 576.43 136.05 577.29 136.39 578.15 136.71 579 137.04 579.86 137.36 580.72 137.68 581.58 137.99 582.43 138.31 583.29 138.62 584.15 138.92 585 139.22 585.86 139.52 586.72 139.82 587.58 140.11 588.44 140.4 589.29 140.69 590.15 140.97 591.01 141.24 591.87 141.52 592.72 141.79 593.58 142.05 594.44 142.31 595.3 142.57 596.15 142.83 597.01 143.08 597.87 143.32 598.73 143.56 599.58 143.8 600.44 144.03 601.3 144.26 602.16 144.48 603.01 144.7 603.87 144.92 604.73 145.13 605.59 145.34 606.44 145.54 607.3 145.74 608.16 145.93 609.02 146.12 609.87 146.31 610.73 146.49 611.59 146.67 612.45 146.84 613.3 147.01 614.16 147.17 615.02 147.33 615.88 147.49 616.73 147.64 617.59 147.78 618.45 147.93 619.31 148.07 620.16 148.2 621.02 148.33 621.88 148.46 622.74 148.58 623.59 148.7 624.45 148.82 625.31 148.93 626.17 149.04 627.02 149.14 627.88 149.25 628.74 149.34 629.6 149.44 630.45 149.53 631.31 149.62 632.17 149.7 633.03 149.79 633.88 149.86 634.74 149.94 635.6 150.01 636.46 150.08 637.31 150.15 638.17 150.22 639.03 150.28 639.88 150.34 640.74 150.4 641.6 150.45 642.46 150.5 643.32 150.55 644.17 150.6 645.03 150.65 645.89 150.69 646.75 150.73 647.6 150.77 648.46 150.81 649.32 150.85 650.18 150.88 651.03 150.91 651.89 150.94 652.75 150.97 653.61 151 654.46 151.03 655.32 151.05 656.18 151.08 657.04 151.1 657.89 151.12 658.75 151.14 659.61 151.16 660.47 151.18 661.32 151.2 662.18 151.21 663.04 151.23 663.89 151.24 664.75 151.26 665.61 151.27 666.47 151.28 667.33 151.29 668.18 151.31 669.04 151.32 669.9 151.32 670.75 151.33 671.61 151.34 672.47 151.35" stroke="#699ef5" stroke-width="1.35" fill="none" stroke-linejoin="round"/>
<path d="M569.57 113.62 570.43 112.17 571.29 110.71 572.14 109.24 573 107.75 573.86 106.26 574.72 104.77 575.57 103.28 576.43 101.78 577.29 100.29 578.15 98.81 579 97.33 579.86 95.87 580.72 94.42 581.58 92.98 582.43 91.56 583.29 90.15 584.15 88.77 585 87.41 585.86 86.08 586.72 84.77 587.58 83.48 588.44 82.22 589.29 80.99 590.15 79.79 591.01 78.62 591.87 77.48 592.72 76.36 593.58 75.28 594.44 74.23 595.3 73.21 596.15 72.22 597.01 71.26 597.87 70.34 598.73 69.44 599.58 68.57 600.44 67.74 601.3 66.93 602.16 66.15 603.01 65.4 603.87 64.67 604.73 63.97 605.59 63.3 606.44 62.66 607.3 62.04 608.16 61.44 609.02 60.87 609.87 60.32 610.73 59.79 611.59 59.28 612.45 58.8 613.3 58.33 614.16 57.88 615.02 57.46 615.88 57.05 616.73 56.65 617.59 56.28 618.45 55.92 619.31 55.58 620.16 55.25 621.02 54.93 621.88 54.63 622.74 54.34 623.59 54.07 624.45 53.8 625.31 53.55 626.17 53.31 627.02 53.08 627.88 52.86 628.74 52.65 629.6 52.45 630.45 52.26 631.31 52.08 632.17 51.9 633.03 51.74 633.88 51.58 634.74 51.42 635.6 51.28 636.46 51.14 637.31 51.01 638.17 50.88 639.03 50.76 639.88 50.65 640.74 50.54 641.6 50.43 642.46 50.33 643.32 50.24 644.17 50.15 645.03 50.06 645.89 49.98 646.75 49.9 647.6 49.82 648.46 49.75 649.32 49.68 650.18 49.62 651.03 49.56 651.89 49.5 652.75 49.44 653.61 49.39 654.46 49.34 655.32 49.29 656.18 49.24 657.04 49.2 657.89 49.16 658.75 49.12 659.61 49.08 660.47 49.04 661.32 49.01 662.18 48.97 663.04 48.94 663.89 48.91 664.75 48.88 665.61 48.86 666.47 48.83 667.33 48.81 668.18 48.78 669.04 48.76 669.9 48.74 670.75 48.72 671.61 48.7 672.47 48.68" stroke="#2316fa" stroke-width="2.4" fill="none" stroke-linejoin="round"/>
<path d="M574.72 156.4V43.26M595.3 156.4V43.26M621.02 156.4V43.26M646.75 156.4V43.26M667.33 156.4V43.26" stroke="#484848" stroke-width="0.85" fill="none" stroke-dasharray="2.6 2.4"/>
<path d="M564.57 99.91H677.57" stroke="#484848" stroke-width="0.85" fill="none" stroke-dasharray="2.6 2.45"/>
<rect x="564.57" y="43.26" width="113" height="113.14" fill="none" stroke="#a0a0a0" stroke-width="0.9"/>
<path d="M562.67 151.45H564.57M562.67 125.68H564.57M562.67 99.91H564.57M562.67 74.13H564.57M562.67 48.36H564.57M569.57 156.4V158.3M595.3 156.4V158.3M621.02 156.4V158.3M646.75 156.4V158.3M672.47 156.4V158.3" stroke="#555" stroke-width="0.8" fill="none"/>
<text x="561.57" y="154.95" class="tk" text-anchor="end">0.00</text>
<text x="561.57" y="129.18" class="tk" text-anchor="end">0.25</text>
<text x="561.57" y="103.41" class="tk" text-anchor="end">0.50</text>
<text x="561.57" y="77.63" class="tk" text-anchor="end">0.75</text>
<text x="561.57" y="51.86" class="tk" text-anchor="end">1.00</text>
<text x="569.57" y="165.8" class="tk" text-anchor="middle">0</text>
<text x="595.3" y="165.8" class="tk" text-anchor="middle">25</text>
<text x="621.02" y="165.8" class="tk" text-anchor="middle">50</text>
<text x="646.75" y="165.8" class="tk" text-anchor="middle">75</text>
<text x="672.47" y="165.8" class="tk" text-anchor="middle">100</text>
<text x="621.07" y="175.1" class="ax" text-anchor="middle">Score Index</text>
<text x="564.57" y="38.06" class="ti">HC: Mint</text>
<path d="M76.62 188H84.72" stroke="#2316fa" stroke-width="2.6"/>
<text x="88.62" y="191" class="lg">2-Mint</text>
<path d="M130.44 188H138.54" stroke="#e86c6c" stroke-width="1.3"/>
<text x="142.44" y="191" class="lg">1-Chives</text>
<path d="M181.49 188H189.59" stroke="#46cd46" stroke-width="1.3"/>
<text x="193.49" y="191" class="lg">3-Spruce</text>
<path d="M233.47 188H241.57" stroke="#699ef5" stroke-width="1.3"/>
<text x="245.47" y="191" class="lg">4-Onion</text>
<path d="M430.92 188H439.02" stroke="#2316fa" stroke-width="2.6"/>
<text x="442.92" y="191" class="lg">2-Mint</text>
<path d="M484.74 188H492.84" stroke="#e86c6c" stroke-width="1.3"/>
<text x="496.74" y="191" class="lg">1-Skunk</text>
<path d="M533.5 188H541.6" stroke="#46cd46" stroke-width="1.3"/>
<text x="545.5" y="191" class="lg">3-Fruit punch</text>
<path d="M600.61 188H608.71" stroke="#699ef5" stroke-width="1.3"/>
<text x="612.61" y="191" class="lg">4-Cola</text>
<path d="M76.33 220.45V334.3M102.06 220.45V334.3M127.78 220.45V334.3M153.51 220.45V334.3M58.47 316.41H171.47M58.47 290.44H171.47M58.47 264.46H171.47M58.47 238.49H171.47" stroke="#f4f4f4" stroke-width="0.5" fill="none"/>
<path d="M63.47 220.45V334.3M89.19 220.45V334.3M114.92 220.45V334.3M140.64 220.45V334.3M166.37 220.45V334.3M58.47 329.4H171.47M58.47 303.42H171.47M58.47 277.45H171.47M58.47 251.47H171.47M58.47 225.5H171.47" stroke="#ececec" stroke-width="0.6" fill="none"/>
<path d="M63.47 298.18 64.33 298.17 65.19 298.15 66.04 298.15 66.9 298.14 67.76 298.14 68.61 298.15 69.47 298.16 70.33 298.17 71.19 298.19 72.05 298.21 72.9 298.23 73.76 298.26 74.62 298.3 75.47 298.33 76.33 298.38 77.19 298.42 78.05 298.47 78.91 298.53 79.76 298.58 80.62 298.64 81.48 298.71 82.33 298.78 83.19 298.85 84.05 298.93 84.91 299.01 85.77 299.09 86.62 299.18 87.48 299.28 88.34 299.37 89.19 299.47 90.05 299.57 90.91 299.68 91.77 299.79 92.62 299.9 93.48 300.02 94.34 300.14 95.2 300.27 96.05 300.39 96.91 300.52 97.77 300.66 98.63 300.79 99.48 300.93 100.34 301.08 101.2 301.22 102.06 301.37 102.91 301.53 103.77 301.68 104.63 301.84 105.49 302 106.34 302.17 107.2 302.33 108.06 302.5 108.92 302.67 109.77 302.85 110.63 303.03 111.49 303.21 112.35 303.39 113.2 303.57 114.06 303.76 114.92 303.95 115.78 304.14 116.63 304.34 117.49 304.53 118.35 304.73 119.21 304.93 120.06 305.13 120.92 305.33 121.78 305.54 122.64 305.75 123.5 305.95 124.35 306.16 125.21 306.38 126.07 306.59 126.92 306.8 127.78 307.02 128.64 307.24 129.5 307.45 130.35 307.67 131.21 307.89 132.07 308.12 132.93 308.34 133.78 308.56 134.64 308.78 135.5 309.01 136.36 309.23 137.22 309.46 138.07 309.69 138.93 309.91 139.79 310.14 140.64 310.37 141.5 310.59 142.36 310.82 143.22 311.05 144.07 311.28 144.93 311.51 145.79 311.73 146.65 311.96 147.5 312.19 148.36 312.42 149.22 312.64 150.08 312.87 150.94 313.09 151.79 313.32 152.65 313.54 153.51 313.77 154.36 313.99 155.22 314.21 156.08 314.43 156.94 314.66 157.79 314.88 158.65 315.09 159.51 315.31 160.37 315.53 161.22 315.74 162.08 315.96 162.94 316.17 163.8 316.38 164.65 316.59 165.51 316.8 166.37 317.01" stroke="#e86c6c" stroke-width="1.35" fill="none" stroke-linejoin="round"/>
<path d="M63.47 305.06 64.33 305.01 65.19 304.96 66.04 304.92 66.9 304.88 67.76 304.84 68.61 304.81 69.47 304.78 70.33 304.76 71.19 304.74 72.05 304.72 72.9 304.71 73.76 304.7 74.62 304.69 75.47 304.69 76.33 304.69 77.19 304.7 78.05 304.71 78.91 304.72 79.76 304.74 80.62 304.76 81.48 304.79 82.33 304.81 83.19 304.85 84.05 304.88 84.91 304.92 85.77 304.97 86.62 305.01 87.48 305.06 88.34 305.12 89.19 305.17 90.05 305.23 90.91 305.3 91.77 305.37 92.62 305.44 93.48 305.51 94.34 305.59 95.2 305.67 96.05 305.75 96.91 305.84 97.77 305.93 98.63 306.02 99.48 306.12 100.34 306.22 101.2 306.32 102.06 306.43 102.91 306.54 103.77 306.65 104.63 306.76 105.49 306.88 106.34 307 107.2 307.12 108.06 307.24 108.92 307.37 109.77 307.5 110.63 307.63 111.49 307.77 112.35 307.91 113.2 308.05 114.06 308.19 114.92 308.33 115.78 308.48 116.63 308.62 117.49 308.77 118.35 308.93 119.21 309.08 120.06 309.24 120.92 309.39 121.78 309.55 122.64 309.71 123.5 309.88 124.35 310.04 125.21 310.21 126.07 310.37 126.92 310.54 127.78 310.71 128.64 310.88 129.5 311.05 130.35 311.23 131.21 311.4 132.07 311.58 132.93 311.75 133.78 311.93 134.64 312.11 135.5 312.29 136.36 312.47 137.22 312.65 138.07 312.83 138.93 313.01 139.79 313.19 140.64 313.37 141.5 313.56 142.36 313.74 143.22 313.92 144.07 314.1 144.93 314.29 145.79 314.47 146.65 314.65 147.5 314.84 148.36 315.02 149.22 315.2 150.08 315.39 150.94 315.57 151.79 315.75 152.65 315.93 153.51 316.12 154.36 316.3 155.22 316.48 156.08 316.66 156.94 316.84 157.79 317.01 158.65 317.19 159.51 317.37 160.37 317.55 161.22 317.72 162.08 317.9 162.94 318.07 163.8 318.24 164.65 318.41 165.51 318.58 166.37 318.75" stroke="#46cd46" stroke-width="1.35" fill="none" stroke-linejoin="round"/>
<path d="M63.47 295.95 64.33 296.31 65.19 296.68 66.04 297.05 66.9 297.42 67.76 297.79 68.61 298.16 69.47 298.54 70.33 298.91 71.19 299.29 72.05 299.66 72.9 300.04 73.76 300.42 74.62 300.79 75.47 301.17 76.33 301.55 77.19 301.93 78.05 302.3 78.91 302.68 79.76 303.06 80.62 303.43 81.48 303.81 82.33 304.18 83.19 304.56 84.05 304.93 84.91 305.3 85.77 305.67 86.62 306.04 87.48 306.41 88.34 306.77 89.19 307.14 90.05 307.5 90.91 307.86 91.77 308.22 92.62 308.58 93.48 308.93 94.34 309.28 95.2 309.63 96.05 309.98 96.91 310.32 97.77 310.66 98.63 311 99.48 311.33 100.34 311.67 101.2 312 102.06 312.32 102.91 312.65 103.77 312.97 104.63 313.28 105.49 313.59 106.34 313.9 107.2 314.21 108.06 314.51 108.92 314.81 109.77 315.11 110.63 315.4 111.49 315.69 112.35 315.97 113.2 316.25 114.06 316.53 114.92 316.8 115.78 317.07 116.63 317.34 117.49 317.6 118.35 317.86 119.21 318.11 120.06 318.36 120.92 318.61 121.78 318.85 122.64 319.09 123.5 319.32 124.35 319.55 125.21 319.78 126.07 320 126.92 320.22 127.78 320.43 128.64 320.64 129.5 320.85 130.35 321.05 131.21 321.25 132.07 321.45 132.93 321.64 133.78 321.83 134.64 322.02 135.5 322.2 136.36 322.37 137.22 322.55 138.07 322.72 138.93 322.89 139.79 323.05 140.64 323.21 141.5 323.37 142.36 323.52 143.22 323.67 144.07 323.82 144.93 323.96 145.79 324.1 146.65 324.24 147.5 324.37 148.36 324.51 149.22 324.63 150.08 324.76 150.94 324.88 151.79 325 152.65 325.12 153.51 325.23 154.36 325.35 155.22 325.45 156.08 325.56 156.94 325.67 157.79 325.77 158.65 325.87 159.51 325.96 160.37 326.06 161.22 326.15 162.08 326.24 162.94 326.32 163.8 326.41 164.65 326.49 165.51 326.57 166.37 326.65" stroke="#699ef5" stroke-width="1.35" fill="none" stroke-linejoin="round"/>
<path d="M63.47 314 64.33 313.65 65.19 313.3 66.04 312.94 66.9 312.58 67.76 312.21 68.61 311.84 69.47 311.46 70.33 311.07 71.19 310.68 72.05 310.28 72.9 309.88 73.76 309.47 74.62 309.06 75.47 308.64 76.33 308.21 77.19 307.78 78.05 307.34 78.91 306.9 79.76 306.45 80.62 306 81.48 305.54 82.33 305.07 83.19 304.6 84.05 304.12 84.91 303.64 85.77 303.16 86.62 302.67 87.48 302.17 88.34 301.67 89.19 301.16 90.05 300.65 90.91 300.13 91.77 299.61 92.62 299.09 93.48 298.56 94.34 298.03 95.2 297.49 96.05 296.95 96.91 296.4 97.77 295.85 98.63 295.29 99.48 294.74 100.34 294.18 101.2 293.61 102.06 293.04 102.91 292.47 103.77 291.9 104.63 291.32 105.49 290.74 106.34 290.16 107.2 289.58 108.06 288.99 108.92 288.4 109.77 287.81 110.63 287.22 111.49 286.63 112.35 286.03 113.2 285.44 114.06 284.84 114.92 284.24 115.78 283.64 116.63 283.04 117.49 282.44 118.35 281.84 119.21 281.24 120.06 280.64 120.92 280.04 121.78 279.44 122.64 278.84 123.5 278.25 124.35 277.65 125.21 277.05 126.07 276.46 126.92 275.86 127.78 275.27 128.64 274.68 129.5 274.09 130.35 273.5 131.21 272.91 132.07 272.33 132.93 271.75 133.78 271.17 134.64 270.6 135.5 270.02 136.36 269.45 137.22 268.88 138.07 268.32 138.93 267.76 139.79 267.2 140.64 266.65 141.5 266.09 142.36 265.55 143.22 265 144.07 264.46 144.93 263.93 145.79 263.4 146.65 262.87 147.5 262.34 148.36 261.82 149.22 261.31 150.08 260.8 150.94 260.29 151.79 259.79 152.65 259.29 153.51 258.8 154.36 258.31 155.22 257.83 156.08 257.35 156.94 256.87 157.79 256.4 158.65 255.94 159.51 255.48 160.37 255.03 161.22 254.58 162.08 254.13 162.94 253.69 163.8 253.26 164.65 252.83 165.51 252.4 166.37 251.98" stroke="#2316fa" stroke-width="2.4" fill="none" stroke-linejoin="round"/>
<path d="M68.61 334.3V220.45M89.19 334.3V220.45M114.92 334.3V220.45M140.64 334.3V220.45M161.22 334.3V220.45" stroke="#484848" stroke-width="0.85" fill="none" stroke-dasharray="2.6 2.4"/>
<path d="M58.47 277.45H171.47" stroke="#484848" stroke-width="0.85" fill="none" stroke-dasharray="2.6 2.45"/>
<rect x="58.47" y="220.45" width="113" height="113.85" fill="none" stroke="#a0a0a0" stroke-width="0.9"/>
<path d="M56.57 329.4H58.47M56.57 303.42H58.47M56.57 277.45H58.47M56.57 251.47H58.47M56.57 225.5H58.47M63.47 334.3V336.2M89.19 334.3V336.2M114.92 334.3V336.2M140.64 334.3V336.2M166.37 334.3V336.2" stroke="#555" stroke-width="0.8" fill="none"/>
<text x="55.47" y="332.9" class="tk" text-anchor="end">0.00</text>
<text x="55.47" y="306.92" class="tk" text-anchor="end">0.25</text>
<text x="55.47" y="280.95" class="tk" text-anchor="end">0.50</text>
<text x="55.47" y="254.97" class="tk" text-anchor="end">0.75</text>
<text x="55.47" y="229" class="tk" text-anchor="end">1.00</text>
<text x="63.47" y="343.7" class="tk" text-anchor="middle">0</text>
<text x="89.19" y="343.7" class="tk" text-anchor="middle">25</text>
<text x="114.92" y="343.7" class="tk" text-anchor="middle">50</text>
<text x="140.64" y="343.7" class="tk" text-anchor="middle">75</text>
<text x="166.37" y="343.7" class="tk" text-anchor="middle">100</text>
<text x="114.97" y="353" class="ax" text-anchor="middle">Score Index</text>
<text x="58.47" y="215.25" class="ti">PD/DLB: Licorice</text>
<text x="35.8" y="277.38" class="ax" text-anchor="middle" transform="rotate(-90 35.8 277.38)">Proportion/Probability</text>
<path d="M224.43 220.45V334.3M250.16 220.45V334.3M275.88 220.45V334.3M301.61 220.45V334.3M206.57 316.41H319.57M206.57 290.44H319.57M206.57 264.46H319.57M206.57 238.49H319.57" stroke="#f4f4f4" stroke-width="0.5" fill="none"/>
<path d="M211.57 220.45V334.3M237.29 220.45V334.3M263.02 220.45V334.3M288.75 220.45V334.3M314.47 220.45V334.3M206.57 329.4H319.57M206.57 303.42H319.57M206.57 277.45H319.57M206.57 251.47H319.57M206.57 225.5H319.57" stroke="#ececec" stroke-width="0.6" fill="none"/>
<path d="M211.57 308.56 212.43 308.64 213.28 308.71 214.14 308.79 215 308.87 215.86 308.96 216.72 309.05 217.57 309.14 218.43 309.23 219.29 309.33 220.14 309.43 221 309.53 221.86 309.64 222.72 309.74 223.57 309.85 224.43 309.97 225.29 310.08 226.15 310.2 227 310.32 227.86 310.44 228.72 310.56 229.58 310.69 230.44 310.81 231.29 310.94 232.15 311.07 233.01 311.21 233.86 311.34 234.72 311.48 235.58 311.61 236.44 311.75 237.29 311.89 238.15 312.03 239.01 312.17 239.87 312.32 240.72 312.46 241.58 312.61 242.44 312.75 243.3 312.9 244.15 313.05 245.01 313.19 245.87 313.34 246.73 313.49 247.58 313.64 248.44 313.79 249.3 313.94 250.16 314.09 251.01 314.25 251.87 314.4 252.73 314.55 253.59 314.7 254.44 314.85 255.3 315 256.16 315.16 257.02 315.31 257.88 315.46 258.73 315.61 259.59 315.76 260.45 315.91 261.31 316.06 262.16 316.21 263.02 316.36 263.88 316.51 264.73 316.66 265.59 316.8 266.45 316.95 267.31 317.1 268.17 317.24 269.02 317.39 269.88 317.53 270.74 317.67 271.59 317.81 272.45 317.96 273.31 318.1 274.17 318.24 275.02 318.37 275.88 318.51 276.74 318.65 277.6 318.78 278.45 318.92 279.31 319.05 280.17 319.18 281.03 319.31 281.88 319.44 282.74 319.57 283.6 319.7 284.46 319.82 285.31 319.95 286.17 320.07 287.03 320.19 287.89 320.31 288.75 320.43 289.6 320.55 290.46 320.67 291.32 320.78 292.17 320.9 293.03 321.01 293.89 321.12 294.75 321.23 295.61 321.34 296.46 321.45 297.32 321.56 298.18 321.66 299.03 321.76 299.89 321.87 300.75 321.97 301.61 322.07 302.46 322.16 303.32 322.26 304.18 322.36 305.04 322.45 305.89 322.54 306.75 322.64 307.61 322.73 308.47 322.81 309.32 322.9 310.18 322.99 311.04 323.07 311.9 323.16 312.75 323.24 313.61 323.32 314.47 323.4" stroke="#e86c6c" stroke-width="1.35" fill="none" stroke-linejoin="round"/>
<path d="M211.57 313.65 212.43 314.33 213.28 314.99 214.14 315.61 215 316.22 215.86 316.8 216.72 317.35 217.57 317.88 218.43 318.39 219.29 318.88 220.14 319.35 221 319.8 221.86 320.23 222.72 320.63 223.57 321.02 224.43 321.4 225.29 321.76 226.15 322.1 227 322.42 227.86 322.73 228.72 323.03 229.58 323.31 230.44 323.58 231.29 323.84 232.15 324.08 233.01 324.32 233.86 324.54 234.72 324.75 235.58 324.95 236.44 325.15 237.29 325.33 238.15 325.51 239.01 325.67 239.87 325.83 240.72 325.98 241.58 326.13 242.44 326.27 243.3 326.4 244.15 326.52 245.01 326.64 245.87 326.75 246.73 326.86 247.58 326.97 248.44 327.06 249.3 327.16 250.16 327.25 251.01 327.33 251.87 327.41 252.73 327.49 253.59 327.56 254.44 327.64 255.3 327.7 256.16 327.77 257.02 327.83 257.88 327.89 258.73 327.94 259.59 327.99 260.45 328.05 261.31 328.09 262.16 328.14 263.02 328.18 263.88 328.23 264.73 328.27 265.59 328.3 266.45 328.34 267.31 328.38 268.17 328.41 269.02 328.44 269.88 328.47 270.74 328.5 271.59 328.53 272.45 328.56 273.31 328.58 274.17 328.61 275.02 328.63 275.88 328.65 276.74 328.67 277.6 328.69 278.45 328.71 279.31 328.73 280.17 328.75 281.03 328.77 281.88 328.78 282.74 328.8 283.6 328.81 284.46 328.83 285.31 328.84 286.17 328.85 287.03 328.87 287.89 328.88 288.75 328.89 289.6 328.9 290.46 328.91 291.32 328.92 292.17 328.93 293.03 328.94 293.89 328.95 294.75 328.95 295.61 328.96 296.46 328.97 297.32 328.98 298.18 328.98 299.03 328.99 299.89 329 300.75 329 301.61 329.01 302.46 329.01 303.32 329.02 304.18 329.02 305.04 329.02 305.89 329.03 306.75 329.03 307.61 329.04 308.47 329.04 309.32 329.04 310.18 329.04 311.04 329.05 311.9 329.05 312.75 329.05 313.61 329.05 314.47 329.05" stroke="#46cd46" stroke-width="1.35" fill="none" stroke-linejoin="round"/>
<path d="M211.57 324.93 212.43 325.06 213.28 325.18 214.14 325.31 215 325.42 215.86 325.54 216.72 325.65 217.57 325.76 218.43 325.86 219.29 325.96 220.14 326.06 221 326.15 221.86 326.24 222.72 326.33 223.57 326.42 224.43 326.5 225.29 326.58 226.15 326.66 227 326.74 227.86 326.81 228.72 326.88 229.58 326.95 230.44 327.02 231.29 327.09 232.15 327.15 233.01 327.21 233.86 327.27 234.72 327.33 235.58 327.38 236.44 327.44 237.29 327.49 238.15 327.54 239.01 327.59 239.87 327.64 240.72 327.69 241.58 327.73 242.44 327.77 243.3 327.82 244.15 327.86 245.01 327.9 245.87 327.94 246.73 327.97 247.58 328.01 248.44 328.05 249.3 328.08 250.16 328.12 251.01 328.15 251.87 328.18 252.73 328.21 253.59 328.24 254.44 328.27 255.3 328.3 256.16 328.32 257.02 328.35 257.88 328.38 258.73 328.4 259.59 328.43 260.45 328.45 261.31 328.47 262.16 328.5 263.02 328.52 263.88 328.54 264.73 328.56 265.59 328.58 266.45 328.6 267.31 328.62 268.17 328.64 269.02 328.65 269.88 328.67 270.74 328.69 271.59 328.7 272.45 328.72 273.31 328.74 274.17 328.75 275.02 328.77 275.88 328.78 276.74 328.79 277.6 328.81 278.45 328.82 279.31 328.83 280.17 328.85 281.03 328.86 281.88 328.87 282.74 328.88 283.6 328.89 284.46 328.9 285.31 328.91 286.17 328.92 287.03 328.93 287.89 328.94 288.75 328.95 289.6 328.96 290.46 328.97 291.32 328.98 292.17 328.99 293.03 329 293.89 329.01 294.75 329.01 295.61 329.02 296.46 329.03 297.32 329.04 298.18 329.04 299.03 329.05 299.89 329.06 300.75 329.07 301.61 329.07 302.46 329.08 303.32 329.08 304.18 329.09 305.04 329.1 305.89 329.1 306.75 329.11 307.61 329.11 308.47 329.12 309.32 329.12 310.18 329.13 311.04 329.13 311.9 329.14 312.75 329.14 313.61 329.15 314.47 329.15" stroke="#699ef5" stroke-width="1.35" fill="none" stroke-linejoin="round"/>
<path d="M211.57 266.44 212.43 265.71 213.28 264.98 214.14 264.27 215 263.57 215.86 262.89 216.72 262.21 217.57 261.54 218.43 260.89 219.29 260.25 220.14 259.62 221 259 221.86 258.39 222.72 257.79 223.57 257.21 224.43 256.63 225.29 256.07 226.15 255.52 227 254.97 227.86 254.44 228.72 253.92 229.58 253.41 230.44 252.91 231.29 252.42 232.15 251.94 233.01 251.48 233.86 251.02 234.72 250.57 235.58 250.13 236.44 249.69 237.29 249.27 238.15 248.86 239.01 248.45 239.87 248.06 240.72 247.67 241.58 247.29 242.44 246.92 243.3 246.56 244.15 246.2 245.01 245.86 245.87 245.52 246.73 245.18 247.58 244.86 248.44 244.54 249.3 244.23 250.16 243.92 251.01 243.63 251.87 243.33 252.73 243.05 253.59 242.77 254.44 242.5 255.3 242.23 256.16 241.97 257.02 241.71 257.88 241.46 258.73 241.22 259.59 240.98 260.45 240.74 261.31 240.51 262.16 240.29 263.02 240.07 263.88 239.85 264.73 239.64 265.59 239.44 266.45 239.24 267.31 239.04 268.17 238.84 269.02 238.65 269.88 238.47 270.74 238.29 271.59 238.11 272.45 237.93 273.31 237.76 274.17 237.59 275.02 237.43 275.88 237.27 276.74 237.11 277.6 236.96 278.45 236.81 279.31 236.66 280.17 236.51 281.03 236.37 281.88 236.23 282.74 236.09 283.6 235.96 284.46 235.82 285.31 235.69 286.17 235.57 287.03 235.44 287.89 235.32 288.75 235.2 289.6 235.08 290.46 234.96 291.32 234.85 292.17 234.74 293.03 234.63 293.89 234.52 294.75 234.41 295.61 234.31 296.46 234.21 297.32 234.11 298.18 234.01 299.03 233.91 299.89 233.81 300.75 233.72 301.61 233.63 302.46 233.54 303.32 233.45 304.18 233.36 305.04 233.27 305.89 233.18 306.75 233.1 307.61 233.02 308.47 232.94 309.32 232.86 310.18 232.78 311.04 232.7 311.9 232.62 312.75 232.54 313.61 232.47 314.47 232.4" stroke="#2316fa" stroke-width="2.4" fill="none" stroke-linejoin="round"/>
<path d="M216.72 334.3V220.45M237.29 334.3V220.45M263.02 334.3V220.45M288.75 334.3V220.45M309.32 334.3V220.45" stroke="#484848" stroke-width="0.85" fill="none" stroke-dasharray="2.6 2.4"/>
<path d="M206.57 277.45H319.57" stroke="#484848" stroke-width="0.85" fill="none" stroke-dasharray="2.6 2.45"/>
<rect x="206.57" y="220.45" width="113" height="113.85" fill="none" stroke="#a0a0a0" stroke-width="0.9"/>
<path d="M204.67 329.4H206.57M204.67 303.42H206.57M204.67 277.45H206.57M204.67 251.47H206.57M204.67 225.5H206.57M211.57 334.3V336.2M237.29 334.3V336.2M263.02 334.3V336.2M288.75 334.3V336.2M314.47 334.3V336.2" stroke="#555" stroke-width="0.8" fill="none"/>
<text x="203.57" y="332.9" class="tk" text-anchor="end">0.00</text>
<text x="203.57" y="306.92" class="tk" text-anchor="end">0.25</text>
<text x="203.57" y="280.95" class="tk" text-anchor="end">0.50</text>
<text x="203.57" y="254.97" class="tk" text-anchor="end">0.75</text>
<text x="203.57" y="229" class="tk" text-anchor="end">1.00</text>
<text x="211.57" y="343.7" class="tk" text-anchor="middle">0</text>
<text x="237.29" y="343.7" class="tk" text-anchor="middle">25</text>
<text x="263.02" y="343.7" class="tk" text-anchor="middle">50</text>
<text x="288.75" y="343.7" class="tk" text-anchor="middle">75</text>
<text x="314.47" y="343.7" class="tk" text-anchor="middle">100</text>
<text x="263.07" y="353" class="ax" text-anchor="middle">Score Index</text>
<text x="206.57" y="215.25" class="ti">HC: Licorice</text>
<path d="M434.72 220.45V334.3M460.45 220.45V334.3M486.17 220.45V334.3M511.9 220.45V334.3M416.86 316.41H529.86M416.86 290.44H529.86M416.86 264.46H529.86M416.86 238.49H529.86" stroke="#f4f4f4" stroke-width="0.5" fill="none"/>
<path d="M421.86 220.45V334.3M447.59 220.45V334.3M473.31 220.45V334.3M499.04 220.45V334.3M524.76 220.45V334.3M416.86 329.4H529.86M416.86 303.42H529.86M416.86 277.45H529.86M416.86 251.47H529.86M416.86 225.5H529.86" stroke="#ececec" stroke-width="0.6" fill="none"/>
<path d="M421.86 316.14 422.72 316.06 423.57 315.97 424.43 315.89 425.29 315.81 426.15 315.73 427 315.65 427.86 315.58 428.72 315.5 429.58 315.42 430.44 315.34 431.29 315.27 432.15 315.19 433.01 315.11 433.87 315.04 434.72 314.96 435.58 314.89 436.44 314.82 437.3 314.74 438.15 314.67 439.01 314.6 439.87 314.53 440.73 314.46 441.58 314.39 442.44 314.32 443.3 314.25 444.16 314.19 445.01 314.12 445.87 314.05 446.73 313.99 447.59 313.92 448.44 313.86 449.3 313.8 450.16 313.73 451.01 313.67 451.87 313.61 452.73 313.55 453.59 313.49 454.44 313.43 455.3 313.38 456.16 313.32 457.02 313.26 457.88 313.21 458.73 313.15 459.59 313.1 460.45 313.04 461.31 312.99 462.16 312.94 463.02 312.89 463.88 312.84 464.74 312.79 465.59 312.74 466.45 312.69 467.31 312.64 468.17 312.6 469.02 312.55 469.88 312.51 470.74 312.47 471.6 312.42 472.45 312.38 473.31 312.34 474.17 312.3 475.02 312.26 475.88 312.22 476.74 312.18 477.6 312.15 478.46 312.11 479.31 312.07 480.17 312.04 481.03 312.01 481.88 311.97 482.74 311.94 483.6 311.91 484.46 311.88 485.31 311.85 486.17 311.82 487.03 311.8 487.89 311.77 488.75 311.74 489.6 311.72 490.46 311.69 491.32 311.67 492.18 311.65 493.03 311.63 493.89 311.61 494.75 311.59 495.61 311.57 496.46 311.55 497.32 311.53 498.18 311.52 499.04 311.5 499.89 311.48 500.75 311.47 501.61 311.46 502.47 311.45 503.32 311.43 504.18 311.42 505.04 311.41 505.89 311.41 506.75 311.4 507.61 311.39 508.47 311.38 509.32 311.38 510.18 311.37 511.04 311.37 511.9 311.37 512.75 311.36 513.61 311.36 514.47 311.36 515.33 311.36 516.18 311.36 517.04 311.36 517.9 311.37 518.76 311.37 519.62 311.38 520.47 311.38 521.33 311.39 522.19 311.39 523.04 311.4 523.9 311.41 524.76 311.42" stroke="#e86c6c" stroke-width="1.35" fill="none" stroke-linejoin="round"/>
<path d="M421.86 296.18 422.72 296.35 423.57 296.52 424.43 296.68 425.29 296.86 426.15 297.03 427 297.21 427.86 297.38 428.72 297.56 429.58 297.74 430.44 297.93 431.29 298.11 432.15 298.3 433.01 298.48 433.87 298.67 434.72 298.86 435.58 299.05 436.44 299.25 437.3 299.44 438.15 299.64 439.01 299.83 439.87 300.03 440.73 300.23 441.58 300.43 442.44 300.63 443.3 300.83 444.16 301.03 445.01 301.24 445.87 301.44 446.73 301.65 447.59 301.85 448.44 302.06 449.3 302.26 450.16 302.47 451.01 302.68 451.87 302.88 452.73 303.09 453.59 303.3 454.44 303.51 455.3 303.71 456.16 303.92 457.02 304.13 457.88 304.34 458.73 304.55 459.59 304.76 460.45 304.96 461.31 305.17 462.16 305.38 463.02 305.59 463.88 305.79 464.74 306 465.59 306.21 466.45 306.41 467.31 306.62 468.17 306.82 469.02 307.03 469.88 307.23 470.74 307.43 471.6 307.64 472.45 307.84 473.31 308.04 474.17 308.24 475.02 308.44 475.88 308.63 476.74 308.83 477.6 309.03 478.46 309.22 479.31 309.42 480.17 309.61 481.03 309.8 481.88 310 482.74 310.19 483.6 310.38 484.46 310.56 485.31 310.75 486.17 310.94 487.03 311.12 487.89 311.3 488.75 311.49 489.6 311.67 490.46 311.85 491.32 312.02 492.18 312.2 493.03 312.38 493.89 312.55 494.75 312.72 495.61 312.89 496.46 313.06 497.32 313.23 498.18 313.4 499.04 313.56 499.89 313.73 500.75 313.89 501.61 314.05 502.47 314.21 503.32 314.37 504.18 314.52 505.04 314.68 505.89 314.83 506.75 314.98 507.61 315.14 508.47 315.28 509.32 315.43 510.18 315.58 511.04 315.72 511.9 315.86 512.75 316 513.61 316.14 514.47 316.28 515.33 316.42 516.18 316.55 517.04 316.69 517.9 316.82 518.76 316.95 519.62 317.08 520.47 317.2 521.33 317.33 522.19 317.45 523.04 317.58 523.9 317.7 524.76 317.82" stroke="#46cd46" stroke-width="1.35" fill="none" stroke-linejoin="round"/>
<path d="M421.86 293.97 422.72 293.91 423.57 293.85 424.43 293.8 425.29 293.74 426.15 293.69 427 293.64 427.86 293.59 428.72 293.54 429.58 293.5 430.44 293.45 431.29 293.41 432.15 293.37 433.01 293.34 433.87 293.3 434.72 293.27 435.58 293.24 436.44 293.21 437.3 293.18 438.15 293.16 439.01 293.13 439.87 293.11 440.73 293.09 441.58 293.07 442.44 293.06 443.3 293.04 444.16 293.03 445.01 293.02 445.87 293.01 446.73 293 447.59 293 448.44 292.99 449.3 292.99 450.16 292.99 451.01 292.99 451.87 293 452.73 293 453.59 293.01 454.44 293.02 455.3 293.03 456.16 293.04 457.02 293.06 457.88 293.07 458.73 293.09 459.59 293.11 460.45 293.13 461.31 293.15 462.16 293.18 463.02 293.2 463.88 293.23 464.74 293.26 465.59 293.29 466.45 293.32 467.31 293.36 468.17 293.39 469.02 293.43 469.88 293.47 470.74 293.51 471.6 293.55 472.45 293.59 473.31 293.64 474.17 293.68 475.02 293.73 475.88 293.78 476.74 293.83 477.6 293.88 478.46 293.94 479.31 293.99 480.17 294.05 481.03 294.1 481.88 294.16 482.74 294.22 483.6 294.29 484.46 294.35 485.31 294.41 486.17 294.48 487.03 294.55 487.89 294.61 488.75 294.68 489.6 294.76 490.46 294.83 491.32 294.9 492.18 294.98 493.03 295.05 493.89 295.13 494.75 295.21 495.61 295.29 496.46 295.37 497.32 295.45 498.18 295.53 499.04 295.62 499.89 295.7 500.75 295.79 501.61 295.88 502.47 295.96 503.32 296.05 504.18 296.14 505.04 296.24 505.89 296.33 506.75 296.42 507.61 296.52 508.47 296.61 509.32 296.71 510.18 296.81 511.04 296.91 511.9 297 512.75 297.11 513.61 297.21 514.47 297.31 515.33 297.41 516.18 297.52 517.04 297.62 517.9 297.73 518.76 297.83 519.62 297.94 520.47 298.05 521.33 298.15 522.19 298.26 523.04 298.37 523.9 298.48 524.76 298.6" stroke="#699ef5" stroke-width="1.35" fill="none" stroke-linejoin="round"/>
<path d="M421.86 312.62 422.72 312.43 423.57 312.24 424.43 312.05 425.29 311.86 426.15 311.66 427 311.47 427.86 311.27 428.72 311.08 429.58 310.88 430.44 310.68 431.29 310.48 432.15 310.28 433.01 310.08 433.87 309.87 434.72 309.67 435.58 309.47 436.44 309.26 437.3 309.06 438.15 308.85 439.01 308.64 439.87 308.43 440.73 308.22 441.58 308.01 442.44 307.8 443.3 307.59 444.16 307.38 445.01 307.17 445.87 306.95 446.73 306.74 447.59 306.53 448.44 306.31 449.3 306.09 450.16 305.88 451.01 305.66 451.87 305.44 452.73 305.22 453.59 305 454.44 304.78 455.3 304.56 456.16 304.34 457.02 304.12 457.88 303.9 458.73 303.68 459.59 303.46 460.45 303.23 461.31 303.01 462.16 302.79 463.02 302.56 463.88 302.34 464.74 302.11 465.59 301.89 466.45 301.66 467.31 301.44 468.17 301.21 469.02 300.98 469.88 300.76 470.74 300.53 471.6 300.3 472.45 300.08 473.31 299.85 474.17 299.62 475.02 299.39 475.88 299.16 476.74 298.94 477.6 298.71 478.46 298.48 479.31 298.25 480.17 298.02 481.03 297.8 481.88 297.57 482.74 297.34 483.6 297.11 484.46 296.88 485.31 296.65 486.17 296.42 487.03 296.2 487.89 295.97 488.75 295.74 489.6 295.51 490.46 295.28 491.32 295.06 492.18 294.83 493.03 294.6 493.89 294.37 494.75 294.15 495.61 293.92 496.46 293.69 497.32 293.47 498.18 293.24 499.04 293.01 499.89 292.79 500.75 292.56 501.61 292.34 502.47 292.11 503.32 291.89 504.18 291.66 505.04 291.44 505.89 291.21 506.75 290.99 507.61 290.77 508.47 290.55 509.32 290.32 510.18 290.1 511.04 289.88 511.9 289.66 512.75 289.44 513.61 289.22 514.47 289 515.33 288.78 516.18 288.56 517.04 288.34 517.9 288.13 518.76 287.91 519.62 287.69 520.47 287.48 521.33 287.26 522.19 287.05 523.04 286.83 523.9 286.62 524.76 286.41" stroke="#2316fa" stroke-width="2.4" fill="none" stroke-linejoin="round"/>
<path d="M427 334.3V220.45M447.59 334.3V220.45M473.31 334.3V220.45M499.04 334.3V220.45M519.62 334.3V220.45" stroke="#484848" stroke-width="0.85" fill="none" stroke-dasharray="2.6 2.4"/>
<path d="M416.86 277.45H529.86" stroke="#484848" stroke-width="0.85" fill="none" stroke-dasharray="2.6 2.45"/>
<rect x="416.86" y="220.45" width="113" height="113.85" fill="none" stroke="#a0a0a0" stroke-width="0.9"/>
<path d="M414.96 329.4H416.86M414.96 303.42H416.86M414.96 277.45H416.86M414.96 251.47H416.86M414.96 225.5H416.86M421.86 334.3V336.2M447.59 334.3V336.2M473.31 334.3V336.2M499.04 334.3V336.2M524.76 334.3V336.2" stroke="#555" stroke-width="0.8" fill="none"/>
<text x="413.86" y="332.9" class="tk" text-anchor="end">0.00</text>
<text x="413.86" y="306.92" class="tk" text-anchor="end">0.25</text>
<text x="413.86" y="280.95" class="tk" text-anchor="end">0.50</text>
<text x="413.86" y="254.97" class="tk" text-anchor="end">0.75</text>
<text x="413.86" y="229" class="tk" text-anchor="end">1.00</text>
<text x="421.86" y="343.7" class="tk" text-anchor="middle">0</text>
<text x="447.59" y="343.7" class="tk" text-anchor="middle">25</text>
<text x="473.31" y="343.7" class="tk" text-anchor="middle">50</text>
<text x="499.04" y="343.7" class="tk" text-anchor="middle">75</text>
<text x="524.76" y="343.7" class="tk" text-anchor="middle">100</text>
<text x="473.36" y="353" class="ax" text-anchor="middle">Score Index</text>
<text x="416.86" y="215.25" class="ti">PD/DLB: Licorice</text>
<text x="394.19" y="277.38" class="ax" text-anchor="middle" transform="rotate(-90 394.19 277.38)">Proportion/Probability</text>
<path d="M582.43 220.45V334.3M608.16 220.45V334.3M633.88 220.45V334.3M659.61 220.45V334.3M564.57 316.41H677.57M564.57 290.44H677.57M564.57 264.46H677.57M564.57 238.49H677.57" stroke="#f4f4f4" stroke-width="0.5" fill="none"/>
<path d="M569.57 220.45V334.3M595.3 220.45V334.3M621.02 220.45V334.3M646.75 220.45V334.3M672.47 220.45V334.3M564.57 329.4H677.57M564.57 303.42H677.57M564.57 277.45H677.57M564.57 251.47H677.57M564.57 225.5H677.57" stroke="#ececec" stroke-width="0.6" fill="none"/>
<path d="M569.57 325.49 570.43 325.39 571.29 325.3 572.14 325.2 573 325.1 573.86 325 574.72 324.9 575.57 324.81 576.43 324.71 577.29 324.61 578.15 324.52 579 324.42 579.86 324.33 580.72 324.24 581.58 324.15 582.43 324.06 583.29 323.97 584.15 323.89 585 323.8 585.86 323.72 586.72 323.64 587.58 323.56 588.44 323.48 589.29 323.4 590.15 323.33 591.01 323.26 591.87 323.19 592.72 323.12 593.58 323.06 594.44 323 595.3 322.94 596.15 322.88 597.01 322.83 597.87 322.77 598.73 322.73 599.58 322.68 600.44 322.64 601.3 322.59 602.16 322.56 603.01 322.52 603.87 322.49 604.73 322.46 605.59 322.43 606.44 322.41 607.3 322.39 608.16 322.37 609.02 322.35 609.87 322.34 610.73 322.33 611.59 322.32 612.45 322.32 613.3 322.32 614.16 322.32 615.02 322.32 615.88 322.33 616.73 322.34 617.59 322.35 618.45 322.36 619.31 322.38 620.16 322.4 621.02 322.42 621.88 322.45 622.74 322.47 623.59 322.5 624.45 322.53 625.31 322.57 626.17 322.6 627.02 322.64 627.88 322.68 628.74 322.72 629.6 322.76 630.45 322.81 631.31 322.86 632.17 322.91 633.03 322.96 633.88 323.01 634.74 323.06 635.6 323.12 636.46 323.17 637.31 323.23 638.17 323.29 639.03 323.35 639.88 323.41 640.74 323.48 641.6 323.54 642.46 323.6 643.32 323.67 644.17 323.73 645.03 323.8 645.89 323.87 646.75 323.94 647.6 324.01 648.46 324.07 649.32 324.14 650.18 324.21 651.03 324.28 651.89 324.36 652.75 324.43 653.61 324.5 654.46 324.57 655.32 324.64 656.18 324.71 657.04 324.78 657.89 324.85 658.75 324.92 659.61 324.99 660.47 325.07 661.32 325.14 662.18 325.21 663.04 325.28 663.89 325.34 664.75 325.41 665.61 325.48 666.47 325.55 667.33 325.62 668.18 325.68 669.04 325.75 669.9 325.82 670.75 325.88 671.61 325.95 672.47 326.01" stroke="#e86c6c" stroke-width="1.35" fill="none" stroke-linejoin="round"/>
<path d="M569.57 297.84 570.43 298.74 571.29 299.63 572.14 300.51 573 301.39 573.86 302.25 574.72 303.1 575.57 303.95 576.43 304.78 577.29 305.6 578.15 306.4 579 307.2 579.86 307.98 580.72 308.74 581.58 309.49 582.43 310.23 583.29 310.95 584.15 311.66 585 312.35 585.86 313.02 586.72 313.67 587.58 314.31 588.44 314.94 589.29 315.54 590.15 316.13 591.01 316.7 591.87 317.26 592.72 317.8 593.58 318.32 594.44 318.82 595.3 319.31 596.15 319.78 597.01 320.23 597.87 320.67 598.73 321.09 599.58 321.5 600.44 321.89 601.3 322.27 602.16 322.63 603.01 322.98 603.87 323.31 604.73 323.63 605.59 323.93 606.44 324.23 607.3 324.5 608.16 324.77 609.02 325.03 609.87 325.27 610.73 325.5 611.59 325.72 612.45 325.93 613.3 326.13 614.16 326.32 615.02 326.5 615.88 326.67 616.73 326.84 617.59 326.99 618.45 327.14 619.31 327.28 620.16 327.41 621.02 327.53 621.88 327.65 622.74 327.76 623.59 327.86 624.45 327.96 625.31 328.06 626.17 328.14 627.02 328.23 627.88 328.3 628.74 328.38 629.6 328.45 630.45 328.51 631.31 328.57 632.17 328.63 633.03 328.68 633.88 328.73 634.74 328.78 635.6 328.82 636.46 328.86 637.31 328.9 638.17 328.94 639.03 328.97 639.88 329 640.74 329.03 641.6 329.06 642.46 329.08 643.32 329.11 644.17 329.13 645.03 329.15 645.89 329.17 646.75 329.19 647.6 329.2 648.46 329.22 649.32 329.23 650.18 329.25 651.03 329.26 651.89 329.27 652.75 329.28 653.61 329.29 654.46 329.3 655.32 329.31 656.18 329.31 657.04 329.32 657.89 329.33 658.75 329.33 659.61 329.34 660.47 329.35 661.32 329.35 662.18 329.35 663.04 329.36 663.89 329.36 664.75 329.37 665.61 329.37 666.47 329.37 667.33 329.37 668.18 329.38 669.04 329.38 669.9 329.38 670.75 329.38 671.61 329.38 672.47 329.39" stroke="#46cd46" stroke-width="1.35" fill="none" stroke-linejoin="round"/>
<path d="M569.57 281.31 570.43 281.9 571.29 282.51 572.14 283.15 573 283.81 573.86 284.5 574.72 285.21 575.57 285.94 576.43 286.69 577.29 287.46 578.15 288.25 579 289.07 579.86 289.9 580.72 290.75 581.58 291.61 582.43 292.49 583.29 293.39 584.15 294.29 585 295.21 585.86 296.15 586.72 297.09 587.58 298.03 588.44 298.99 589.29 299.94 590.15 300.9 591.01 301.86 591.87 302.83 592.72 303.78 593.58 304.74 594.44 305.69 595.3 306.63 596.15 307.56 597.01 308.48 597.87 309.39 598.73 310.28 599.58 311.16 600.44 312.02 601.3 312.87 602.16 313.69 603.01 314.49 603.87 315.28 604.73 316.04 605.59 316.77 606.44 317.48 607.3 318.17 608.16 318.83 609.02 319.47 609.87 320.08 610.73 320.67 611.59 321.23 612.45 321.76 613.3 322.27 614.16 322.76 615.02 323.22 615.88 323.65 616.73 324.07 617.59 324.46 618.45 324.82 619.31 325.17 620.16 325.49 621.02 325.8 621.88 326.08 622.74 326.35 623.59 326.6 624.45 326.83 625.31 327.04 626.17 327.24 627.02 327.43 627.88 327.6 628.74 327.76 629.6 327.91 630.45 328.04 631.31 328.17 632.17 328.28 633.03 328.39 633.88 328.48 634.74 328.57 635.6 328.65 636.46 328.73 637.31 328.79 638.17 328.85 639.03 328.91 639.88 328.96 640.74 329.01 641.6 329.05 642.46 329.08 643.32 329.12 644.17 329.15 645.03 329.18 645.89 329.2 646.75 329.22 647.6 329.24 648.46 329.26 649.32 329.28 650.18 329.29 651.03 329.3 651.89 329.31 652.75 329.32 653.61 329.33 654.46 329.34 655.32 329.35 656.18 329.35 657.04 329.36 657.89 329.37 658.75 329.37 659.61 329.37 660.47 329.38 661.32 329.38 662.18 329.38 663.04 329.38 663.89 329.39 664.75 329.39 665.61 329.39 666.47 329.39 667.33 329.39 668.18 329.39 669.04 329.39 669.9 329.4 670.75 329.4 671.61 329.4 672.47 329.4" stroke="#699ef5" stroke-width="1.35" fill="none" stroke-linejoin="round"/>
<path d="M569.57 308.15 570.43 306.89 571.29 305.58 572.14 304.24 573 302.85 573.86 301.42 574.72 299.95 575.57 298.45 576.43 296.91 577.29 295.35 578.15 293.75 579 292.14 579.86 290.5 580.72 288.85 581.58 287.19 582.43 285.52 583.29 283.85 584.15 282.17 585 280.5 585.86 278.83 586.72 277.18 587.58 275.54 588.44 273.92 589.29 272.32 590.15 270.74 591.01 269.18 591.87 267.66 592.72 266.17 593.58 264.71 594.44 263.28 595.3 261.89 596.15 260.54 597.01 259.22 597.87 257.95 598.73 256.71 599.58 255.51 600.44 254.36 601.3 253.24 602.16 252.16 603.01 251.12 603.87 250.12 604.73 249.16 605.59 248.24 606.44 247.35 607.3 246.5 608.16 245.68 609.02 244.9 609.87 244.15 610.73 243.44 611.59 242.75 612.45 242.09 613.3 241.47 614.16 240.87 615.02 240.3 615.88 239.75 616.73 239.23 617.59 238.73 618.45 238.26 619.31 237.8 620.16 237.37 621.02 236.96 621.88 236.57 622.74 236.19 623.59 235.84 624.45 235.5 625.31 235.18 626.17 234.87 627.02 234.57 627.88 234.3 628.74 234.03 629.6 233.78 630.45 233.54 631.31 233.31 632.17 233.09 633.03 232.88 633.88 232.68 634.74 232.49 635.6 232.32 636.46 232.15 637.31 231.99 638.17 231.83 639.03 231.69 639.88 231.55 640.74 231.42 641.6 231.3 642.46 231.18 643.32 231.07 644.17 230.96 645.03 230.86 645.89 230.77 646.75 230.68 647.6 230.6 648.46 230.52 649.32 230.45 650.18 230.38 651.03 230.32 651.89 230.26 652.75 230.2 653.61 230.15 654.46 230.11 655.32 230.07 656.18 230.03 657.04 229.99 657.89 229.96 658.75 229.94 659.61 229.91 660.47 229.89 661.32 229.88 662.18 229.87 663.04 229.86 663.89 229.85 664.75 229.85 665.61 229.85 666.47 229.86 667.33 229.87 668.18 229.88 669.04 229.9 669.9 229.92 670.75 229.95 671.61 229.98 672.47 230.01" stroke="#2316fa" stroke-width="2.4" fill="none" stroke-linejoin="round"/>
<path d="M574.72 334.3V220.45M595.3 334.3V220.45M621.02 334.3V220.45M646.75 334.3V220.45M667.33 334.3V220.45" stroke="#484848" stroke-width="0.85" fill="none" stroke-dasharray="2.6 2.4"/>
<path d="M564.57 277.45H677.57" stroke="#484848" stroke-width="0.85" fill="none" stroke-dasharray="2.6 2.45"/>
<rect x="564.57" y="220.45" width="113" height="113.85" fill="none" stroke="#a0a0a0" stroke-width="0.9"/>
<path d="M562.67 329.4H564.57M562.67 303.42H564.57M562.67 277.45H564.57M562.67 251.47H564.57M562.67 225.5H564.57M569.57 334.3V336.2M595.3 334.3V336.2M621.02 334.3V336.2M646.75 334.3V336.2M672.47 334.3V336.2" stroke="#555" stroke-width="0.8" fill="none"/>
<text x="561.57" y="332.9" class="tk" text-anchor="end">0.00</text>
<text x="561.57" y="306.92" class="tk" text-anchor="end">0.25</text>
<text x="561.57" y="280.95" class="tk" text-anchor="end">0.50</text>
<text x="561.57" y="254.97" class="tk" text-anchor="end">0.75</text>
<text x="561.57" y="229" class="tk" text-anchor="end">1.00</text>
<text x="569.57" y="343.7" class="tk" text-anchor="middle">0</text>
<text x="595.3" y="343.7" class="tk" text-anchor="middle">25</text>
<text x="621.02" y="343.7" class="tk" text-anchor="middle">50</text>
<text x="646.75" y="343.7" class="tk" text-anchor="middle">75</text>
<text x="672.47" y="343.7" class="tk" text-anchor="middle">100</text>
<text x="621.07" y="353" class="ax" text-anchor="middle">Score Index</text>
<text x="564.57" y="215.25" class="ti">HC: Licorice</text>
<path d="M42.24 365.9H50.34" stroke="#2316fa" stroke-width="2.6"/>
<text x="54.24" y="368.9" class="lg">1-Licorice</text>
<path d="M108.9 365.9H117" stroke="#e86c6c" stroke-width="1.3"/>
<text x="120.9" y="368.9" class="lg">2-Gummy Bear</text>
<path d="M183.33 365.9H191.43" stroke="#46cd46" stroke-width="1.3"/>
<text x="195.33" y="368.9" class="lg">3-Chewing Gum</text>
<path d="M261.44 365.9H269.54" stroke="#699ef5" stroke-width="1.3"/>
<text x="273.44" y="368.9" class="lg">4-Biscuits</text>
<path d="M404.08 365.9H412.18" stroke="#2316fa" stroke-width="2.6"/>
<text x="416.08" y="368.9" class="lg">1-Licorice</text>
<path d="M470.75 365.9H478.85" stroke="#e86c6c" stroke-width="1.3"/>
<text x="482.75" y="368.9" class="lg">2-Pineapple</text>
<path d="M533.28 365.9H541.38" stroke="#46cd46" stroke-width="1.3"/>
<text x="545.28" y="368.9" class="lg">3-Cheddar cheese</text>
<path d="M619.66 365.9H627.76" stroke="#699ef5" stroke-width="1.3"/>
<text x="631.66" y="368.9" class="lg">4-Cherry</text>
<path d="M76.33 403.48V516.4M102.06 403.48V516.4M127.78 403.48V516.4M153.51 403.48V516.4M58.47 498.6H171.47M58.47 472.84H171.47M58.47 447.09H171.47M58.47 421.33H171.47" stroke="#f4f4f4" stroke-width="0.5" fill="none"/>
<path d="M63.47 403.48V516.4M89.19 403.48V516.4M114.92 403.48V516.4M140.64 403.48V516.4M166.37 403.48V516.4M58.47 511.48H171.47M58.47 485.72H171.47M58.47 459.97H171.47M58.47 434.21H171.47M58.47 408.45H171.47" stroke="#ececec" stroke-width="0.6" fill="none"/>
<path d="M63.47 470.96 64.33 471.24 65.19 471.52 66.04 471.81 66.9 472.09 67.76 472.38 68.61 472.67 69.47 472.96 70.33 473.26 71.19 473.56 72.05 473.86 72.9 474.17 73.76 474.48 74.62 474.79 75.47 475.1 76.33 475.41 77.19 475.73 78.05 476.05 78.91 476.38 79.76 476.7 80.62 477.03 81.48 477.36 82.33 477.7 83.19 478.03 84.05 478.37 84.91 478.72 85.77 479.06 86.62 479.41 87.48 479.75 88.34 480.11 89.19 480.46 90.05 480.81 90.91 481.17 91.77 481.53 92.62 481.89 93.48 482.26 94.34 482.62 95.2 482.99 96.05 483.36 96.91 483.73 97.77 484.1 98.63 484.47 99.48 484.85 100.34 485.22 101.2 485.6 102.06 485.98 102.91 486.36 103.77 486.74 104.63 487.12 105.49 487.5 106.34 487.88 107.2 488.26 108.06 488.64 108.92 489.03 109.77 489.41 110.63 489.79 111.49 490.17 112.35 490.55 113.2 490.93 114.06 491.31 114.92 491.69 115.78 492.07 116.63 492.44 117.49 492.82 118.35 493.19 119.21 493.57 120.06 493.94 120.92 494.3 121.78 494.67 122.64 495.04 123.5 495.4 124.35 495.76 125.21 496.11 126.07 496.47 126.92 496.82 127.78 497.17 128.64 497.51 129.5 497.85 130.35 498.19 131.21 498.53 132.07 498.86 132.93 499.19 133.78 499.51 134.64 499.83 135.5 500.15 136.36 500.46 137.22 500.77 138.07 501.07 138.93 501.37 139.79 501.66 140.64 501.95 141.5 502.23 142.36 502.51 143.22 502.79 144.07 503.06 144.93 503.32 145.79 503.58 146.65 503.84 147.5 504.09 148.36 504.33 149.22 504.57 150.08 504.81 150.94 505.04 151.79 505.26 152.65 505.48 153.51 505.7 154.36 505.91 155.22 506.11 156.08 506.31 156.94 506.5 157.79 506.69 158.65 506.87 159.51 507.05 160.37 507.23 161.22 507.4 162.08 507.56 162.94 507.72 163.8 507.87 164.65 508.02 165.51 508.17 166.37 508.31" stroke="#e86c6c" stroke-width="1.35" fill="none" stroke-linejoin="round"/>
<path d="M63.47 484.42 64.33 484.35 65.19 484.29 66.04 484.23 66.9 484.18 67.76 484.13 68.61 484.09 69.47 484.06 70.33 484.04 71.19 484.02 72.05 484 72.9 483.99 73.76 483.99 74.62 484 75.47 484.01 76.33 484.03 77.19 484.05 78.05 484.08 78.91 484.12 79.76 484.16 80.62 484.21 81.48 484.26 82.33 484.32 83.19 484.39 84.05 484.46 84.91 484.54 85.77 484.63 86.62 484.72 87.48 484.82 88.34 484.92 89.19 485.03 90.05 485.15 90.91 485.27 91.77 485.4 92.62 485.54 93.48 485.68 94.34 485.82 95.2 485.97 96.05 486.13 96.91 486.29 97.77 486.46 98.63 486.63 99.48 486.81 100.34 487 101.2 487.19 102.06 487.38 102.91 487.58 103.77 487.79 104.63 487.99 105.49 488.21 106.34 488.43 107.2 488.65 108.06 488.88 108.92 489.11 109.77 489.35 110.63 489.58 111.49 489.83 112.35 490.08 113.2 490.33 114.06 490.58 114.92 490.84 115.78 491.1 116.63 491.37 117.49 491.63 118.35 491.9 119.21 492.17 120.06 492.45 120.92 492.73 121.78 493.01 122.64 493.29 123.5 493.57 124.35 493.85 125.21 494.14 126.07 494.43 126.92 494.72 127.78 495.01 128.64 495.3 129.5 495.59 130.35 495.88 131.21 496.17 132.07 496.46 132.93 496.75 133.78 497.04 134.64 497.33 135.5 497.62 136.36 497.91 137.22 498.2 138.07 498.49 138.93 498.77 139.79 499.05 140.64 499.34 141.5 499.62 142.36 499.9 143.22 500.17 144.07 500.45 144.93 500.72 145.79 500.99 146.65 501.26 147.5 501.52 148.36 501.78 149.22 502.04 150.08 502.29 150.94 502.55 151.79 502.79 152.65 503.04 153.51 503.28 154.36 503.52 155.22 503.75 156.08 503.98 156.94 504.21 157.79 504.43 158.65 504.65 159.51 504.87 160.37 505.08 161.22 505.29 162.08 505.49 162.94 505.69 163.8 505.88 164.65 506.07 165.51 506.26 166.37 506.44" stroke="#46cd46" stroke-width="1.35" fill="none" stroke-linejoin="round"/>
<path d="M63.47 486.17 64.33 486.28 65.19 486.4 66.04 486.52 66.9 486.64 67.76 486.77 68.61 486.9 69.47 487.03 70.33 487.16 71.19 487.3 72.05 487.45 72.9 487.59 73.76 487.74 74.62 487.89 75.47 488.05 76.33 488.21 77.19 488.37 78.05 488.54 78.91 488.71 79.76 488.88 80.62 489.05 81.48 489.23 82.33 489.41 83.19 489.59 84.05 489.78 84.91 489.97 85.77 490.16 86.62 490.36 87.48 490.55 88.34 490.75 89.19 490.96 90.05 491.16 90.91 491.37 91.77 491.58 92.62 491.79 93.48 492 94.34 492.22 95.2 492.44 96.05 492.66 96.91 492.88 97.77 493.1 98.63 493.33 99.48 493.56 100.34 493.78 101.2 494.01 102.06 494.25 102.91 494.48 103.77 494.71 104.63 494.95 105.49 495.18 106.34 495.42 107.2 495.66 108.06 495.9 108.92 496.13 109.77 496.37 110.63 496.61 111.49 496.85 112.35 497.09 113.2 497.33 114.06 497.57 114.92 497.81 115.78 498.05 116.63 498.29 117.49 498.53 118.35 498.77 119.21 499.01 120.06 499.25 120.92 499.48 121.78 499.72 122.64 499.95 123.5 500.18 124.35 500.42 125.21 500.65 126.07 500.88 126.92 501.1 127.78 501.33 128.64 501.55 129.5 501.78 130.35 502 131.21 502.22 132.07 502.43 132.93 502.65 133.78 502.86 134.64 503.07 135.5 503.28 136.36 503.49 137.22 503.69 138.07 503.89 138.93 504.09 139.79 504.28 140.64 504.48 141.5 504.67 142.36 504.85 143.22 505.04 144.07 505.22 144.93 505.4 145.79 505.57 146.65 505.75 147.5 505.91 148.36 506.08 149.22 506.24 150.08 506.41 150.94 506.56 151.79 506.72 152.65 506.87 153.51 507.02 154.36 507.16 155.22 507.3 156.08 507.44 156.94 507.58 157.79 507.71 158.65 507.84 159.51 507.97 160.37 508.09 161.22 508.21 162.08 508.33 162.94 508.44 163.8 508.55 164.65 508.66 165.51 508.76 166.37 508.87" stroke="#699ef5" stroke-width="1.35" fill="none" stroke-linejoin="round"/>
<path d="M63.47 501.78 64.33 501.47 65.19 501.15 66.04 500.81 66.9 500.47 67.76 500.11 68.61 499.75 69.47 499.37 70.33 498.98 71.19 498.58 72.05 498.16 72.9 497.74 73.76 497.3 74.62 496.85 75.47 496.38 76.33 495.9 77.19 495.41 78.05 494.91 78.91 494.39 79.76 493.86 80.62 493.31 81.48 492.75 82.33 492.17 83.19 491.58 84.05 490.98 84.91 490.36 85.77 489.72 86.62 489.07 87.48 488.41 88.34 487.73 89.19 487.04 90.05 486.33 90.91 485.61 91.77 484.87 92.62 484.12 93.48 483.36 94.34 482.58 95.2 481.79 96.05 480.98 96.91 480.16 97.77 479.33 98.63 478.48 99.48 477.63 100.34 476.76 101.2 475.88 102.06 474.99 102.91 474.09 103.77 473.19 104.63 472.27 105.49 471.34 106.34 470.41 107.2 469.47 108.06 468.52 108.92 467.57 109.77 466.61 110.63 465.65 111.49 464.68 112.35 463.72 113.2 462.75 114.06 461.77 114.92 460.8 115.78 459.83 116.63 458.86 117.49 457.89 118.35 456.92 119.21 455.96 120.06 455 120.92 454.04 121.78 453.09 122.64 452.15 123.5 451.21 124.35 450.28 125.21 449.36 126.07 448.45 126.92 447.54 127.78 446.65 128.64 445.76 129.5 444.89 130.35 444.03 131.21 443.18 132.07 442.34 132.93 441.51 133.78 440.69 134.64 439.89 135.5 439.1 136.36 438.33 137.22 437.57 138.07 436.82 138.93 436.09 139.79 435.37 140.64 434.66 141.5 433.97 142.36 433.3 143.22 432.63 144.07 431.99 144.93 431.35 145.79 430.73 146.65 430.13 147.5 429.54 148.36 428.96 149.22 428.4 150.08 427.85 150.94 427.32 151.79 426.79 152.65 426.29 153.51 425.79 154.36 425.31 155.22 424.84 156.08 424.38 156.94 423.94 157.79 423.51 158.65 423.09 159.51 422.68 160.37 422.28 161.22 421.9 162.08 421.53 162.94 421.16 163.8 420.81 164.65 420.47 165.51 420.13 166.37 419.81" stroke="#2316fa" stroke-width="2.4" fill="none" stroke-linejoin="round"/>
<path d="M68.61 516.4V403.48M89.19 516.4V403.48M114.92 516.4V403.48M140.64 516.4V403.48M161.22 516.4V403.48" stroke="#484848" stroke-width="0.85" fill="none" stroke-dasharray="2.6 2.4"/>
<path d="M58.47 459.97H171.47" stroke="#484848" stroke-width="0.85" fill="none" stroke-dasharray="2.6 2.45"/>
<rect x="58.47" y="403.48" width="113" height="112.92" fill="none" stroke="#a0a0a0" stroke-width="0.9"/>
<path d="M56.57 511.48H58.47M56.57 485.72H58.47M56.57 459.97H58.47M56.57 434.21H58.47M56.57 408.45H58.47M63.47 516.4V518.3M89.19 516.4V518.3M114.92 516.4V518.3M140.64 516.4V518.3M166.37 516.4V518.3" stroke="#555" stroke-width="0.8" fill="none"/>
<text x="55.47" y="514.98" class="tk" text-anchor="end">0.00</text>
<text x="55.47" y="489.22" class="tk" text-anchor="end">0.25</text>
<text x="55.47" y="463.47" class="tk" text-anchor="end">0.50</text>
<text x="55.47" y="437.71" class="tk" text-anchor="end">0.75</text>
<text x="55.47" y="411.95" class="tk" text-anchor="end">1.00</text>
<text x="63.47" y="525.8" class="tk" text-anchor="middle">0</text>
<text x="89.19" y="525.8" class="tk" text-anchor="middle">25</text>
<text x="114.92" y="525.8" class="tk" text-anchor="middle">50</text>
<text x="140.64" y="525.8" class="tk" text-anchor="middle">75</text>
<text x="166.37" y="525.8" class="tk" text-anchor="middle">100</text>
<text x="114.97" y="535.1" class="ax" text-anchor="middle">Score Index</text>
<text x="58.47" y="398.28" class="ti">PD/DLB: Banana</text>
<text x="35.8" y="459.94" class="ax" text-anchor="middle" transform="rotate(-90 35.8 459.94)">Proportion/Probability</text>
<path d="M224.43 403.48V516.4M250.16 403.48V516.4M275.88 403.48V516.4M301.61 403.48V516.4M206.57 498.6H319.57M206.57 472.84H319.57M206.57 447.09H319.57M206.57 421.33H319.57" stroke="#f4f4f4" stroke-width="0.5" fill="none"/>
<path d="M211.57 403.48V516.4M237.29 403.48V516.4M263.02 403.48V516.4M288.75 403.48V516.4M314.47 403.48V516.4M206.57 511.48H319.57M206.57 485.72H319.57M206.57 459.97H319.57M206.57 434.21H319.57M206.57 408.45H319.57" stroke="#ececec" stroke-width="0.6" fill="none"/>
<path d="M211.57 504.3 212.43 504.5 213.28 504.71 214.14 504.9 215 505.1 215.86 505.28 216.72 505.46 217.57 505.64 218.43 505.81 219.29 505.98 220.14 506.14 221 506.3 221.86 506.45 222.72 506.6 223.57 506.75 224.43 506.89 225.29 507.03 226.15 507.16 227 507.29 227.86 507.41 228.72 507.54 229.58 507.66 230.44 507.77 231.29 507.88 232.15 507.99 233.01 508.1 233.86 508.2 234.72 508.3 235.58 508.39 236.44 508.49 237.29 508.58 238.15 508.67 239.01 508.75 239.87 508.84 240.72 508.92 241.58 508.99 242.44 509.07 243.3 509.14 244.15 509.22 245.01 509.29 245.87 509.35 246.73 509.42 247.58 509.48 248.44 509.54 249.3 509.6 250.16 509.66 251.01 509.72 251.87 509.77 252.73 509.82 253.59 509.87 254.44 509.92 255.3 509.97 256.16 510.02 257.02 510.06 257.88 510.11 258.73 510.15 259.59 510.19 260.45 510.23 261.31 510.27 262.16 510.31 263.02 510.34 263.88 510.38 264.73 510.41 265.59 510.45 266.45 510.48 267.31 510.51 268.17 510.54 269.02 510.57 269.88 510.6 270.74 510.63 271.59 510.65 272.45 510.68 273.31 510.7 274.17 510.73 275.02 510.75 275.88 510.77 276.74 510.8 277.6 510.82 278.45 510.84 279.31 510.86 280.17 510.88 281.03 510.9 281.88 510.91 282.74 510.93 283.6 510.95 284.46 510.97 285.31 510.98 286.17 511 287.03 511.01 287.89 511.03 288.75 511.04 289.6 511.06 290.46 511.07 291.32 511.08 292.17 511.09 293.03 511.11 293.89 511.12 294.75 511.13 295.61 511.14 296.46 511.15 297.32 511.16 298.18 511.17 299.03 511.18 299.89 511.19 300.75 511.2 301.61 511.21 302.46 511.22 303.32 511.23 304.18 511.23 305.04 511.24 305.89 511.25 306.75 511.26 307.61 511.26 308.47 511.27 309.32 511.28 310.18 511.28 311.04 511.29 311.9 511.3 312.75 511.3 313.61 511.31 314.47 511.31" stroke="#e86c6c" stroke-width="1.35" fill="none" stroke-linejoin="round"/>
<path d="M211.57 508.07 212.43 508.17 213.28 508.26 214.14 508.35 215 508.44 215.86 508.53 216.72 508.61 217.57 508.69 218.43 508.77 219.29 508.85 220.14 508.92 221 508.99 221.86 509.07 222.72 509.13 223.57 509.2 224.43 509.27 225.29 509.33 226.15 509.39 227 509.45 227.86 509.51 228.72 509.57 229.58 509.62 230.44 509.67 231.29 509.73 232.15 509.78 233.01 509.82 233.86 509.87 234.72 509.92 235.58 509.96 236.44 510.01 237.29 510.05 238.15 510.09 239.01 510.13 239.87 510.17 240.72 510.21 241.58 510.24 242.44 510.28 243.3 510.31 244.15 510.35 245.01 510.38 245.87 510.41 246.73 510.44 247.58 510.47 248.44 510.5 249.3 510.53 250.16 510.56 251.01 510.59 251.87 510.61 252.73 510.64 253.59 510.66 254.44 510.69 255.3 510.71 256.16 510.73 257.02 510.75 257.88 510.77 258.73 510.79 259.59 510.81 260.45 510.83 261.31 510.85 262.16 510.87 263.02 510.89 263.88 510.91 264.73 510.92 265.59 510.94 266.45 510.95 267.31 510.97 268.17 510.99 269.02 511 269.88 511.01 270.74 511.03 271.59 511.04 272.45 511.05 273.31 511.07 274.17 511.08 275.02 511.09 275.88 511.1 276.74 511.11 277.6 511.12 278.45 511.13 279.31 511.14 280.17 511.15 281.03 511.16 281.88 511.17 282.74 511.18 283.6 511.19 284.46 511.2 285.31 511.21 286.17 511.21 287.03 511.22 287.89 511.23 288.75 511.24 289.6 511.24 290.46 511.25 291.32 511.26 292.17 511.26 293.03 511.27 293.89 511.28 294.75 511.28 295.61 511.29 296.46 511.29 297.32 511.3 298.18 511.31 299.03 511.31 299.89 511.32 300.75 511.32 301.61 511.33 302.46 511.33 303.32 511.33 304.18 511.34 305.04 511.34 305.89 511.35 306.75 511.35 307.61 511.35 308.47 511.36 309.32 511.36 310.18 511.37 311.04 511.37 311.9 511.37 312.75 511.38 313.61 511.38 314.47 511.38" stroke="#46cd46" stroke-width="1.35" fill="none" stroke-linejoin="round"/>
<path d="M211.57 494.37 212.43 494.88 213.28 495.38 214.14 495.86 215 496.34 215.86 496.8 216.72 497.26 217.57 497.7 218.43 498.13 219.29 498.55 220.14 498.96 221 499.36 221.86 499.74 222.72 500.12 223.57 500.49 224.43 500.85 225.29 501.2 226.15 501.53 227 501.86 227.86 502.18 228.72 502.49 229.58 502.79 230.44 503.09 231.29 503.37 232.15 503.65 233.01 503.91 233.86 504.17 234.72 504.43 235.58 504.67 236.44 504.91 237.29 505.14 238.15 505.36 239.01 505.58 239.87 505.78 240.72 505.99 241.58 506.18 242.44 506.37 243.3 506.55 244.15 506.73 245.01 506.9 245.87 507.07 246.73 507.23 247.58 507.39 248.44 507.54 249.3 507.68 250.16 507.82 251.01 507.96 251.87 508.09 252.73 508.21 253.59 508.34 254.44 508.45 255.3 508.57 256.16 508.68 257.02 508.78 257.88 508.89 258.73 508.99 259.59 509.08 260.45 509.17 261.31 509.26 262.16 509.35 263.02 509.43 263.88 509.51 264.73 509.59 265.59 509.66 266.45 509.73 267.31 509.8 268.17 509.87 269.02 509.93 269.88 509.99 270.74 510.05 271.59 510.11 272.45 510.16 273.31 510.22 274.17 510.27 275.02 510.32 275.88 510.36 276.74 510.41 277.6 510.45 278.45 510.49 279.31 510.53 280.17 510.57 281.03 510.61 281.88 510.65 282.74 510.68 283.6 510.71 284.46 510.74 285.31 510.78 286.17 510.8 287.03 510.83 287.89 510.86 288.75 510.89 289.6 510.91 290.46 510.94 291.32 510.96 292.17 510.98 293.03 511 293.89 511.02 294.75 511.04 295.61 511.06 296.46 511.08 297.32 511.1 298.18 511.11 299.03 511.13 299.89 511.14 300.75 511.16 301.61 511.17 302.46 511.19 303.32 511.2 304.18 511.21 305.04 511.22 305.89 511.24 306.75 511.25 307.61 511.26 308.47 511.27 309.32 511.28 310.18 511.29 311.04 511.29 311.9 511.3 312.75 511.31 313.61 511.32 314.47 511.33" stroke="#699ef5" stroke-width="1.35" fill="none" stroke-linejoin="round"/>
<path d="M211.57 436.45 212.43 435.61 213.28 434.78 214.14 433.97 215 433.18 215.86 432.41 216.72 431.65 217.57 430.92 218.43 430.2 219.29 429.5 220.14 428.81 221 428.15 221.86 427.5 222.72 426.87 223.57 426.25 224.43 425.65 225.29 425.07 226.15 424.51 227 423.96 227.86 423.43 228.72 422.91 229.58 422.41 230.44 421.92 231.29 421.45 232.15 420.99 233.01 420.54 233.86 420.11 234.72 419.7 235.58 419.29 236.44 418.9 237.29 418.52 238.15 418.16 239.01 417.8 239.87 417.46 240.72 417.13 241.58 416.81 242.44 416.5 243.3 416.2 244.15 415.91 245.01 415.63 245.87 415.36 246.73 415.1 247.58 414.85 248.44 414.61 249.3 414.37 250.16 414.15 251.01 413.93 251.87 413.72 252.73 413.52 253.59 413.32 254.44 413.13 255.3 412.95 256.16 412.78 257.02 412.61 257.88 412.44 258.73 412.29 259.59 412.13 260.45 411.99 261.31 411.85 262.16 411.71 263.02 411.58 263.88 411.46 264.73 411.34 265.59 411.22 266.45 411.11 267.31 411 268.17 410.9 269.02 410.8 269.88 410.7 270.74 410.61 271.59 410.52 272.45 410.43 273.31 410.35 274.17 410.27 275.02 410.2 275.88 410.12 276.74 410.05 277.6 409.99 278.45 409.92 279.31 409.86 280.17 409.8 281.03 409.74 281.88 409.69 282.74 409.63 283.6 409.58 284.46 409.53 285.31 409.49 286.17 409.44 287.03 409.4 287.89 409.36 288.75 409.32 289.6 409.28 290.46 409.24 291.32 409.21 292.17 409.17 293.03 409.14 293.89 409.11 294.75 409.08 295.61 409.05 296.46 409.03 297.32 409 298.18 408.97 299.03 408.95 299.89 408.93 300.75 408.91 301.61 408.88 302.46 408.86 303.32 408.85 304.18 408.83 305.04 408.81 305.89 408.79 306.75 408.78 307.61 408.76 308.47 408.75 309.32 408.73 310.18 408.72 311.04 408.7 311.9 408.69 312.75 408.68 313.61 408.67 314.47 408.66" stroke="#2316fa" stroke-width="2.4" fill="none" stroke-linejoin="round"/>
<path d="M216.72 516.4V403.48M237.29 516.4V403.48M263.02 516.4V403.48M288.75 516.4V403.48M309.32 516.4V403.48" stroke="#484848" stroke-width="0.85" fill="none" stroke-dasharray="2.6 2.4"/>
<path d="M206.57 459.97H319.57" stroke="#484848" stroke-width="0.85" fill="none" stroke-dasharray="2.6 2.45"/>
<rect x="206.57" y="403.48" width="113" height="112.92" fill="none" stroke="#a0a0a0" stroke-width="0.9"/>
<path d="M204.67 511.48H206.57M204.67 485.72H206.57M204.67 459.97H206.57M204.67 434.21H206.57M204.67 408.45H206.57M211.57 516.4V518.3M237.29 516.4V518.3M263.02 516.4V518.3M288.75 516.4V518.3M314.47 516.4V518.3" stroke="#555" stroke-width="0.8" fill="none"/>
<text x="203.57" y="514.98" class="tk" text-anchor="end">0.00</text>
<text x="203.57" y="489.22" class="tk" text-anchor="end">0.25</text>
<text x="203.57" y="463.47" class="tk" text-anchor="end">0.50</text>
<text x="203.57" y="437.71" class="tk" text-anchor="end">0.75</text>
<text x="203.57" y="411.95" class="tk" text-anchor="end">1.00</text>
<text x="211.57" y="525.8" class="tk" text-anchor="middle">0</text>
<text x="237.29" y="525.8" class="tk" text-anchor="middle">25</text>
<text x="263.02" y="525.8" class="tk" text-anchor="middle">50</text>
<text x="288.75" y="525.8" class="tk" text-anchor="middle">75</text>
<text x="314.47" y="525.8" class="tk" text-anchor="middle">100</text>
<text x="263.07" y="535.1" class="ax" text-anchor="middle">Score Index</text>
<text x="206.57" y="398.28" class="ti">HC: Banana</text>
<path d="M434.72 403.48V516.4M460.45 403.48V516.4M486.17 403.48V516.4M511.9 403.48V516.4M416.86 498.6H529.86M416.86 472.84H529.86M416.86 447.09H529.86M416.86 421.33H529.86" stroke="#f4f4f4" stroke-width="0.5" fill="none"/>
<path d="M421.86 403.48V516.4M447.59 403.48V516.4M473.31 403.48V516.4M499.04 403.48V516.4M524.76 403.48V516.4M416.86 511.48H529.86M416.86 485.72H529.86M416.86 459.97H529.86M416.86 434.21H529.86M416.86 408.45H529.86" stroke="#ececec" stroke-width="0.6" fill="none"/>
<path d="M421.86 459.74 422.72 461.04 423.57 462.34 424.43 463.64 425.29 464.95 426.15 466.25 427 467.55 427.86 468.84 428.72 470.12 429.58 471.4 430.44 472.66 431.29 473.92 432.15 475.15 433.01 476.38 433.87 477.58 434.72 478.77 435.58 479.94 436.44 481.08 437.3 482.21 438.15 483.31 439.01 484.39 439.87 485.45 440.73 486.48 441.58 487.48 442.44 488.46 443.3 489.41 444.16 490.33 445.01 491.23 445.87 492.1 446.73 492.94 447.59 493.76 448.44 494.55 449.3 495.31 450.16 496.04 451.01 496.75 451.87 497.43 452.73 498.09 453.59 498.72 454.44 499.33 455.3 499.91 456.16 500.47 457.02 501.01 457.88 501.52 458.73 502.01 459.59 502.48 460.45 502.93 461.31 503.36 462.16 503.77 463.02 504.16 463.88 504.54 464.74 504.89 465.59 505.23 466.45 505.56 467.31 505.87 468.17 506.16 469.02 506.44 469.88 506.71 470.74 506.96 471.6 507.2 472.45 507.43 473.31 507.64 474.17 507.85 475.02 508.04 475.88 508.23 476.74 508.4 477.6 508.57 478.46 508.73 479.31 508.88 480.17 509.02 481.03 509.15 481.88 509.28 482.74 509.4 483.6 509.51 484.46 509.62 485.31 509.72 486.17 509.82 487.03 509.91 487.89 510 488.75 510.08 489.6 510.16 490.46 510.23 491.32 510.3 492.18 510.37 493.03 510.43 493.89 510.49 494.75 510.54 495.61 510.59 496.46 510.64 497.32 510.69 498.18 510.73 499.04 510.78 499.89 510.81 500.75 510.85 501.61 510.89 502.47 510.92 503.32 510.95 504.18 510.98 505.04 511.01 505.89 511.03 506.75 511.06 507.61 511.08 508.47 511.1 509.32 511.13 510.18 511.15 511.04 511.16 511.9 511.18 512.75 511.2 513.61 511.21 514.47 511.23 515.33 511.24 516.18 511.26 517.04 511.27 517.9 511.28 518.76 511.29 519.62 511.3 520.47 511.31 521.33 511.32 522.19 511.33 523.04 511.34 523.9 511.35 524.76 511.35" stroke="#e86c6c" stroke-width="1.35" fill="none" stroke-linejoin="round"/>
<path d="M421.86 494.28 422.72 493.7 423.57 493.12 424.43 492.54 425.29 491.95 426.15 491.36 427 490.77 427.86 490.18 428.72 489.59 429.58 488.99 430.44 488.4 431.29 487.81 432.15 487.23 433.01 486.64 433.87 486.06 434.72 485.48 435.58 484.9 436.44 484.33 437.3 483.76 438.15 483.2 439.01 482.65 439.87 482.1 440.73 481.55 441.58 481.02 442.44 480.49 443.3 479.96 444.16 479.45 445.01 478.94 445.87 478.44 446.73 477.95 447.59 477.47 448.44 477 449.3 476.53 450.16 476.08 451.01 475.63 451.87 475.19 452.73 474.76 453.59 474.34 454.44 473.93 455.3 473.53 456.16 473.14 457.02 472.76 457.88 472.39 458.73 472.02 459.59 471.67 460.45 471.32 461.31 470.99 462.16 470.66 463.02 470.35 463.88 470.04 464.74 469.74 465.59 469.45 466.45 469.17 467.31 468.9 468.17 468.63 469.02 468.38 469.88 468.13 470.74 467.89 471.6 467.66 472.45 467.44 473.31 467.22 474.17 467.02 475.02 466.82 475.88 466.62 476.74 466.44 477.6 466.26 478.46 466.09 479.31 465.92 480.17 465.77 481.03 465.62 481.88 465.47 482.74 465.33 483.6 465.2 484.46 465.07 485.31 464.95 486.17 464.83 487.03 464.72 487.89 464.61 488.75 464.51 489.6 464.42 490.46 464.32 491.32 464.24 492.18 464.15 493.03 464.07 493.89 464 494.75 463.92 495.61 463.85 496.46 463.79 497.32 463.73 498.18 463.67 499.04 463.61 499.89 463.55 500.75 463.5 501.61 463.45 502.47 463.4 503.32 463.36 504.18 463.31 505.04 463.27 505.89 463.23 506.75 463.19 507.61 463.15 508.47 463.11 509.32 463.07 510.18 463.03 511.04 462.99 511.9 462.95 512.75 462.91 513.61 462.87 514.47 462.83 515.33 462.79 516.18 462.75 517.04 462.71 517.9 462.67 518.76 462.62 519.62 462.57 520.47 462.52 521.33 462.47 522.19 462.42 523.04 462.36 523.9 462.31 524.76 462.24" stroke="#46cd46" stroke-width="1.35" fill="none" stroke-linejoin="round"/>
<path d="M421.86 499.47 422.72 499.38 423.57 499.3 424.43 499.23 425.29 499.16 426.15 499.1 427 499.04 427.86 498.98 428.72 498.93 429.58 498.89 430.44 498.85 431.29 498.82 432.15 498.79 433.01 498.77 433.87 498.75 434.72 498.74 435.58 498.73 436.44 498.73 437.3 498.73 438.15 498.74 439.01 498.75 439.87 498.77 440.73 498.79 441.58 498.81 442.44 498.85 443.3 498.88 444.16 498.92 445.01 498.97 445.87 499.02 446.73 499.07 447.59 499.13 448.44 499.19 449.3 499.26 450.16 499.33 451.01 499.4 451.87 499.48 452.73 499.56 453.59 499.64 454.44 499.73 455.3 499.82 456.16 499.92 457.02 500.01 457.88 500.11 458.73 500.22 459.59 500.32 460.45 500.43 461.31 500.54 462.16 500.65 463.02 500.77 463.88 500.88 464.74 501 465.59 501.12 466.45 501.24 467.31 501.37 468.17 501.49 469.02 501.62 469.88 501.75 470.74 501.88 471.6 502 472.45 502.14 473.31 502.27 474.17 502.4 475.02 502.53 475.88 502.66 476.74 502.8 477.6 502.93 478.46 503.06 479.31 503.2 480.17 503.33 481.03 503.46 481.88 503.6 482.74 503.73 483.6 503.86 484.46 503.99 485.31 504.12 486.17 504.26 487.03 504.39 487.89 504.51 488.75 504.64 489.6 504.77 490.46 504.9 491.32 505.02 492.18 505.15 493.03 505.27 493.89 505.39 494.75 505.51 495.61 505.63 496.46 505.75 497.32 505.87 498.18 505.98 499.04 506.1 499.89 506.21 500.75 506.32 501.61 506.43 502.47 506.54 503.32 506.65 504.18 506.75 505.04 506.85 505.89 506.96 506.75 507.06 507.61 507.15 508.47 507.25 509.32 507.35 510.18 507.44 511.04 507.53 511.9 507.62 512.75 507.71 513.61 507.8 514.47 507.88 515.33 507.97 516.18 508.05 517.04 508.13 517.9 508.21 518.76 508.29 519.62 508.36 520.47 508.44 521.33 508.51 522.19 508.58 523.04 508.65 523.9 508.72 524.76 508.79" stroke="#699ef5" stroke-width="1.35" fill="none" stroke-linejoin="round"/>
<path d="M421.86 491.68 422.72 491.08 423.57 490.47 424.43 489.86 425.29 489.25 426.15 488.64 427 488.03 427.86 487.42 428.72 486.81 429.58 486.21 430.44 485.6 431.29 485 432.15 484.41 433.01 483.81 433.87 483.23 434.72 482.64 435.58 482.07 436.44 481.49 437.3 480.93 438.15 480.37 439.01 479.82 439.87 479.27 440.73 478.74 441.58 478.21 442.44 477.68 443.3 477.17 444.16 476.67 445.01 476.17 445.87 475.68 446.73 475.21 447.59 474.74 448.44 474.28 449.3 473.83 450.16 473.39 451.01 472.96 451.87 472.53 452.73 472.12 453.59 471.72 454.44 471.33 455.3 470.94 456.16 470.57 457.02 470.2 457.88 469.85 458.73 469.5 459.59 469.17 460.45 468.84 461.31 468.53 462.16 468.22 463.02 467.92 463.88 467.63 464.74 467.35 465.59 467.08 466.45 466.81 467.31 466.56 468.17 466.31 469.02 466.07 469.88 465.84 470.74 465.62 471.6 465.41 472.45 465.2 473.31 465 474.17 464.81 475.02 464.63 475.88 464.45 476.74 464.28 477.6 464.11 478.46 463.96 479.31 463.81 480.17 463.66 481.03 463.53 481.88 463.39 482.74 463.27 483.6 463.15 484.46 463.03 485.31 462.92 486.17 462.82 487.03 462.72 487.89 462.62 488.75 462.53 489.6 462.45 490.46 462.37 491.32 462.29 492.18 462.22 493.03 462.15 493.89 462.08 494.75 462.02 495.61 461.96 496.46 461.9 497.32 461.85 498.18 461.8 499.04 461.75 499.89 461.7 500.75 461.66 501.61 461.62 502.47 461.58 503.32 461.54 504.18 461.5 505.04 461.47 505.89 461.43 506.75 461.4 507.61 461.37 508.47 461.33 509.32 461.3 510.18 461.27 511.04 461.24 511.9 461.21 512.75 461.17 513.61 461.14 514.47 461.11 515.33 461.07 516.18 461.04 517.04 461 517.9 460.96 518.76 460.93 519.62 460.88 520.47 460.84 521.33 460.8 522.19 460.75 523.04 460.7 523.9 460.65 524.76 460.59" stroke="#2316fa" stroke-width="2.4" fill="none" stroke-linejoin="round"/>
<path d="M427 516.4V403.48M447.59 516.4V403.48M473.31 516.4V403.48M499.04 516.4V403.48M519.62 516.4V403.48" stroke="#484848" stroke-width="0.85" fill="none" stroke-dasharray="2.6 2.4"/>
<path d="M416.86 459.97H529.86" stroke="#484848" stroke-width="0.85" fill="none" stroke-dasharray="2.6 2.45"/>
<rect x="416.86" y="403.48" width="113" height="112.92" fill="none" stroke="#a0a0a0" stroke-width="0.9"/>
<path d="M414.96 511.48H416.86M414.96 485.72H416.86M414.96 459.97H416.86M414.96 434.21H416.86M414.96 408.45H416.86M421.86 516.4V518.3M447.59 516.4V518.3M473.31 516.4V518.3M499.04 516.4V518.3M524.76 516.4V518.3" stroke="#555" stroke-width="0.8" fill="none"/>
<text x="413.86" y="514.98" class="tk" text-anchor="end">0.00</text>
<text x="413.86" y="489.22" class="tk" text-anchor="end">0.25</text>
<text x="413.86" y="463.47" class="tk" text-anchor="end">0.50</text>
<text x="413.86" y="437.71" class="tk" text-anchor="end">0.75</text>
<text x="413.86" y="411.95" class="tk" text-anchor="end">1.00</text>
<text x="421.86" y="525.8" class="tk" text-anchor="middle">0</text>
<text x="447.59" y="525.8" class="tk" text-anchor="middle">25</text>
<text x="473.31" y="525.8" class="tk" text-anchor="middle">50</text>
<text x="499.04" y="525.8" class="tk" text-anchor="middle">75</text>
<text x="524.76" y="525.8" class="tk" text-anchor="middle">100</text>
<text x="473.36" y="535.1" class="ax" text-anchor="middle">Score Index</text>
<text x="416.86" y="398.28" class="ti">PD/DLB: Banana</text>
<text x="394.19" y="459.94" class="ax" text-anchor="middle" transform="rotate(-90 394.19 459.94)">Proportion/Probability</text>
<path d="M582.43 403.48V516.4M608.16 403.48V516.4M633.88 403.48V516.4M659.61 403.48V516.4M564.57 498.6H677.57M564.57 472.84H677.57M564.57 447.09H677.57M564.57 421.33H677.57" stroke="#f4f4f4" stroke-width="0.5" fill="none"/>
<path d="M569.57 403.48V516.4M595.3 403.48V516.4M621.02 403.48V516.4M646.75 403.48V516.4M672.47 403.48V516.4M564.57 511.48H677.57M564.57 485.72H677.57M564.57 459.97H677.57M564.57 434.21H677.57M564.57 408.45H677.57" stroke="#ececec" stroke-width="0.6" fill="none"/>
<path d="M569.57 509.79 570.43 509.85 571.29 509.91 572.14 509.97 573 510.02 573.86 510.07 574.72 510.13 575.57 510.17 576.43 510.22 577.29 510.27 578.15 510.31 579 510.35 579.86 510.4 580.72 510.43 581.58 510.47 582.43 510.51 583.29 510.54 584.15 510.58 585 510.61 585.86 510.64 586.72 510.67 587.58 510.7 588.44 510.73 589.29 510.76 590.15 510.79 591.01 510.81 591.87 510.84 592.72 510.86 593.58 510.88 594.44 510.9 595.3 510.92 596.15 510.94 597.01 510.96 597.87 510.98 598.73 511 599.58 511.02 600.44 511.04 601.3 511.05 602.16 511.07 603.01 511.08 603.87 511.1 604.73 511.11 605.59 511.12 606.44 511.14 607.3 511.15 608.16 511.16 609.02 511.17 609.87 511.19 610.73 511.2 611.59 511.21 612.45 511.22 613.3 511.23 614.16 511.24 615.02 511.24 615.88 511.25 616.73 511.26 617.59 511.27 618.45 511.28 619.31 511.28 620.16 511.29 621.02 511.3 621.88 511.31 622.74 511.31 623.59 511.32 624.45 511.32 625.31 511.33 626.17 511.33 627.02 511.34 627.88 511.35 628.74 511.35 629.6 511.36 630.45 511.36 631.31 511.36 632.17 511.37 633.03 511.37 633.88 511.38 634.74 511.38 635.6 511.38 636.46 511.39 637.31 511.39 638.17 511.39 639.03 511.4 639.88 511.4 640.74 511.4 641.6 511.41 642.46 511.41 643.32 511.41 644.17 511.41 645.03 511.42 645.89 511.42 646.75 511.42 647.6 511.42 648.46 511.43 649.32 511.43 650.18 511.43 651.03 511.43 651.89 511.43 652.75 511.43 653.61 511.44 654.46 511.44 655.32 511.44 656.18 511.44 657.04 511.44 657.89 511.44 658.75 511.44 659.61 511.45 660.47 511.45 661.32 511.45 662.18 511.45 663.04 511.45 663.89 511.45 664.75 511.45 665.61 511.45 666.47 511.46 667.33 511.46 668.18 511.46 669.04 511.46 669.9 511.46 670.75 511.46 671.61 511.46 672.47 511.46" stroke="#e86c6c" stroke-width="1.35" fill="none" stroke-linejoin="round"/>
<path d="M569.57 462.95 570.43 463.24 571.29 463.54 572.14 463.85 573 464.15 573.86 464.46 574.72 464.77 575.57 465.08 576.43 465.4 577.29 465.71 578.15 466.03 579 466.35 579.86 466.68 580.72 467 581.58 467.33 582.43 467.66 583.29 467.99 584.15 468.32 585 468.65 585.86 468.98 586.72 469.32 587.58 469.66 588.44 470 589.29 470.34 590.15 470.68 591.01 471.02 591.87 471.36 592.72 471.7 593.58 472.05 594.44 472.39 595.3 472.74 596.15 473.08 597.01 473.43 597.87 473.78 598.73 474.13 599.58 474.47 600.44 474.82 601.3 475.17 602.16 475.52 603.01 475.86 603.87 476.21 604.73 476.56 605.59 476.91 606.44 477.25 607.3 477.6 608.16 477.94 609.02 478.29 609.87 478.63 610.73 478.98 611.59 479.32 612.45 479.66 613.3 480 614.16 480.34 615.02 480.68 615.88 481.02 616.73 481.36 617.59 481.69 618.45 482.03 619.31 482.36 620.16 482.69 621.02 483.02 621.88 483.35 622.74 483.68 623.59 484 624.45 484.33 625.31 484.65 626.17 484.97 627.02 485.28 627.88 485.6 628.74 485.91 629.6 486.22 630.45 486.53 631.31 486.84 632.17 487.15 633.03 487.45 633.88 487.75 634.74 488.05 635.6 488.34 636.46 488.64 637.31 488.93 638.17 489.22 639.03 489.51 639.88 489.79 640.74 490.07 641.6 490.35 642.46 490.63 643.32 490.9 644.17 491.17 645.03 491.44 645.89 491.71 646.75 491.97 647.6 492.23 648.46 492.49 649.32 492.74 650.18 493 651.03 493.25 651.89 493.49 652.75 493.74 653.61 493.98 654.46 494.22 655.32 494.45 656.18 494.69 657.04 494.92 657.89 495.15 658.75 495.37 659.61 495.59 660.47 495.81 661.32 496.03 662.18 496.24 663.04 496.46 663.89 496.66 664.75 496.87 665.61 497.07 666.47 497.27 667.33 497.47 668.18 497.67 669.04 497.86 669.9 498.05 670.75 498.24 671.61 498.42 672.47 498.61" stroke="#46cd46" stroke-width="1.35" fill="none" stroke-linejoin="round"/>
<path d="M569.57 507.18 570.43 507.37 571.29 507.54 572.14 507.71 573 507.87 573.86 508.02 574.72 508.17 575.57 508.31 576.43 508.44 577.29 508.57 578.15 508.7 579 508.82 579.86 508.93 580.72 509.04 581.58 509.15 582.43 509.25 583.29 509.34 584.15 509.44 585 509.52 585.86 509.61 586.72 509.69 587.58 509.77 588.44 509.84 589.29 509.91 590.15 509.98 591.01 510.05 591.87 510.11 592.72 510.17 593.58 510.23 594.44 510.28 595.3 510.33 596.15 510.38 597.01 510.43 597.87 510.48 598.73 510.52 599.58 510.56 600.44 510.6 601.3 510.64 602.16 510.68 603.01 510.71 603.87 510.75 604.73 510.78 605.59 510.81 606.44 510.84 607.3 510.87 608.16 510.89 609.02 510.92 609.87 510.94 610.73 510.97 611.59 510.99 612.45 511.01 613.3 511.03 614.16 511.05 615.02 511.07 615.88 511.09 616.73 511.11 617.59 511.12 618.45 511.14 619.31 511.15 620.16 511.17 621.02 511.18 621.88 511.2 622.74 511.21 623.59 511.22 624.45 511.23 625.31 511.24 626.17 511.25 627.02 511.26 627.88 511.27 628.74 511.28 629.6 511.29 630.45 511.3 631.31 511.31 632.17 511.31 633.03 511.32 633.88 511.33 634.74 511.34 635.6 511.34 636.46 511.35 637.31 511.35 638.17 511.36 639.03 511.36 639.88 511.37 640.74 511.37 641.6 511.38 642.46 511.38 643.32 511.39 644.17 511.39 645.03 511.4 645.89 511.4 646.75 511.4 647.6 511.41 648.46 511.41 649.32 511.41 650.18 511.42 651.03 511.42 651.89 511.42 652.75 511.42 653.61 511.43 654.46 511.43 655.32 511.43 656.18 511.43 657.04 511.44 657.89 511.44 658.75 511.44 659.61 511.44 660.47 511.44 661.32 511.44 662.18 511.45 663.04 511.45 663.89 511.45 664.75 511.45 665.61 511.45 666.47 511.45 667.33 511.45 668.18 511.46 669.04 511.46 669.9 511.46 670.75 511.46 671.61 511.46 672.47 511.46" stroke="#699ef5" stroke-width="1.35" fill="none" stroke-linejoin="round"/>
<path d="M569.57 462.64 570.43 462.16 571.29 461.68 572.14 461.2 573 460.72 573.86 460.25 574.72 459.77 575.57 459.3 576.43 458.82 577.29 458.35 578.15 457.88 579 457.41 579.86 456.94 580.72 456.47 581.58 456 582.43 455.54 583.29 455.07 584.15 454.61 585 454.15 585.86 453.69 586.72 453.23 587.58 452.78 588.44 452.32 589.29 451.87 590.15 451.42 591.01 450.98 591.87 450.53 592.72 450.09 593.58 449.65 594.44 449.21 595.3 448.77 596.15 448.34 597.01 447.91 597.87 447.48 598.73 447.05 599.58 446.63 600.44 446.21 601.3 445.79 602.16 445.37 603.01 444.96 603.87 444.55 604.73 444.14 605.59 443.74 606.44 443.34 607.3 442.94 608.16 442.54 609.02 442.15 609.87 441.76 610.73 441.38 611.59 440.99 612.45 440.61 613.3 440.23 614.16 439.86 615.02 439.49 615.88 439.12 616.73 438.76 617.59 438.39 618.45 438.04 619.31 437.68 620.16 437.33 621.02 436.98 621.88 436.63 622.74 436.29 623.59 435.95 624.45 435.62 625.31 435.28 626.17 434.95 627.02 434.63 627.88 434.3 628.74 433.98 629.6 433.67 630.45 433.35 631.31 433.04 632.17 432.73 633.03 432.43 633.88 432.13 634.74 431.83 635.6 431.54 636.46 431.25 637.31 430.96 638.17 430.67 639.03 430.39 639.88 430.11 640.74 429.84 641.6 429.56 642.46 429.29 643.32 429.03 644.17 428.76 645.03 428.5 645.89 428.24 646.75 427.99 647.6 427.74 648.46 427.49 649.32 427.24 650.18 427 651.03 426.76 651.89 426.52 652.75 426.29 653.61 426.06 654.46 425.83 655.32 425.6 656.18 425.38 657.04 425.16 657.89 424.94 658.75 424.72 659.61 424.51 660.47 424.3 661.32 424.1 662.18 423.89 663.04 423.69 663.89 423.49 664.75 423.29 665.61 423.1 666.47 422.9 667.33 422.71 668.18 422.53 669.04 422.34 669.9 422.16 670.75 421.98 671.61 421.8 672.47 421.63" stroke="#2316fa" stroke-width="2.4" fill="none" stroke-linejoin="round"/>
<path d="M574.72 516.4V403.48M595.3 516.4V403.48M621.02 516.4V403.48M646.75 516.4V403.48M667.33 516.4V403.48" stroke="#484848" stroke-width="0.85" fill="none" stroke-dasharray="2.6 2.4"/>
<path d="M564.57 459.97H677.57" stroke="#484848" stroke-width="0.85" fill="none" stroke-dasharray="2.6 2.45"/>
<rect x="564.57" y="403.48" width="113" height="112.92" fill="none" stroke="#a0a0a0" stroke-width="0.9"/>
<path d="M562.67 511.48H564.57M562.67 485.72H564.57M562.67 459.97H564.57M562.67 434.21H564.57M562.67 408.45H564.57M569.57 516.4V518.3M595.3 516.4V518.3M621.02 516.4V518.3M646.75 516.4V518.3M672.47 516.4V518.3" stroke="#555" stroke-width="0.8" fill="none"/>
<text x="561.57" y="514.98" class="tk" text-anchor="end">0.00</text>
<text x="561.57" y="489.22" class="tk" text-anchor="end">0.25</text>
<text x="561.57" y="463.47" class="tk" text-anchor="end">0.50</text>
<text x="561.57" y="437.71" class="tk" text-anchor="end">0.75</text>
<text x="561.57" y="411.95" class="tk" text-anchor="end">1.00</text>
<text x="569.57" y="525.8" class="tk" text-anchor="middle">0</text>
<text x="595.3" y="525.8" class="tk" text-anchor="middle">25</text>
<text x="621.02" y="525.8" class="tk" text-anchor="middle">50</text>
<text x="646.75" y="525.8" class="tk" text-anchor="middle">75</text>
<text x="672.47" y="525.8" class="tk" text-anchor="middle">100</text>
<text x="621.07" y="535.1" class="ax" text-anchor="middle">Score Index</text>
<text x="564.57" y="398.28" class="ti">HC: Banana</text>
<path d="M66.45 548H74.55" stroke="#2316fa" stroke-width="2.6"/>
<text x="78.45" y="551" class="lg">2-Banana</text>
<path d="M133.13 548H141.23" stroke="#e86c6c" stroke-width="1.3"/>
<text x="145.13" y="551" class="lg">1-Coconut</text>
<path d="M189.69 548H197.79" stroke="#46cd46" stroke-width="1.3"/>
<text x="201.69" y="551" class="lg">3-Walnut</text>
<path d="M240.9 548H249" stroke="#699ef5" stroke-width="1.3"/>
<text x="252.9" y="551" class="lg">4-Cherry</text>
<path d="M426.11 548H434.21" stroke="#e86c6c" stroke-width="1.3"/>
<text x="438.11" y="551" class="lg">2-Garlic</text>
<path d="M473.48 548H481.58" stroke="#46cd46" stroke-width="1.3"/>
<text x="485.48" y="551" class="lg">3-Cherry</text>
<path d="M524.07 548H532.17" stroke="#699ef5" stroke-width="1.3"/>
<text x="536.07" y="551" class="lg">4-Motor oil</text>
<path d="M593.94 548H602.04" stroke="#2316fa" stroke-width="2.6"/>
<text x="605.94" y="551" class="lg">1-Banana</text>
<path d="M81.33 597.49V710.4M107.06 597.49V710.4M132.78 597.49V710.4M158.51 597.49V710.4M63.47 692.63H176.47M63.47 666.85H176.47M63.47 641.05H176.47M63.47 615.26H176.47" stroke="#f4f4f4" stroke-width="0.5" fill="none"/>
<path d="M68.47 597.49V710.4M94.19 597.49V710.4M119.92 597.49V710.4M145.64 597.49V710.4M171.37 597.49V710.4M63.47 705.53H176.47M63.47 679.74H176.47M63.47 653.95H176.47M63.47 628.16H176.47M63.47 602.37H176.47" stroke="#ececec" stroke-width="0.6" fill="none"/>
<path d="M68.47 681.02 69.33 681.26 70.19 681.51 71.04 681.75 71.9 681.98 72.76 682.22 73.61 682.46 74.47 682.69 75.33 682.92 76.19 683.15 77.05 683.38 77.9 683.61 78.76 683.84 79.62 684.06 80.47 684.29 81.33 684.51 82.19 684.73 83.05 684.95 83.91 685.17 84.76 685.39 85.62 685.6 86.48 685.82 87.33 686.03 88.19 686.24 89.05 686.45 89.91 686.66 90.77 686.87 91.62 687.08 92.48 687.28 93.34 687.48 94.19 687.69 95.05 687.89 95.91 688.09 96.77 688.28 97.62 688.48 98.48 688.68 99.34 688.87 100.2 689.06 101.05 689.25 101.91 689.44 102.77 689.63 103.63 689.82 104.48 690 105.34 690.19 106.2 690.37 107.06 690.55 107.91 690.73 108.77 690.91 109.63 691.09 110.49 691.26 111.34 691.44 112.2 691.61 113.06 691.78 113.92 691.95 114.77 692.12 115.63 692.29 116.49 692.46 117.35 692.62 118.2 692.79 119.06 692.95 119.92 693.11 120.78 693.27 121.63 693.43 122.49 693.59 123.35 693.74 124.21 693.9 125.06 694.05 125.92 694.2 126.78 694.35 127.64 694.5 128.5 694.65 129.35 694.8 130.21 694.94 131.07 695.09 131.93 695.23 132.78 695.37 133.64 695.51 134.5 695.65 135.35 695.79 136.21 695.93 137.07 696.06 137.93 696.2 138.78 696.33 139.64 696.46 140.5 696.59 141.36 696.72 142.22 696.85 143.07 696.97 143.93 697.1 144.79 697.22 145.64 697.35 146.5 697.47 147.36 697.59 148.22 697.71 149.07 697.82 149.93 697.94 150.79 698.06 151.65 698.17 152.5 698.28 153.36 698.39 154.22 698.5 155.08 698.61 155.94 698.72 156.79 698.83 157.65 698.94 158.51 699.04 159.36 699.14 160.22 699.25 161.08 699.35 161.94 699.45 162.79 699.55 163.65 699.64 164.51 699.74 165.37 699.83 166.22 699.93 167.08 700.02 167.94 700.11 168.8 700.21 169.65 700.3 170.51 700.38 171.37 700.47" stroke="#e86c6c" stroke-width="1.35" fill="none" stroke-linejoin="round"/>
<path d="M68.47 700.9 69.33 701.06 70.19 701.21 71.04 701.35 71.9 701.49 72.76 701.63 73.61 701.76 74.47 701.89 75.33 702.01 76.19 702.13 77.05 702.24 77.9 702.36 78.76 702.46 79.62 702.57 80.47 702.67 81.33 702.76 82.19 702.86 83.05 702.95 83.91 703.04 84.76 703.12 85.62 703.2 86.48 703.28 87.33 703.36 88.19 703.43 89.05 703.51 89.91 703.58 90.77 703.64 91.62 703.71 92.48 703.77 93.34 703.83 94.19 703.89 95.05 703.94 95.91 704 96.77 704.05 97.62 704.1 98.48 704.15 99.34 704.2 100.2 704.24 101.05 704.29 101.91 704.33 102.77 704.37 103.63 704.41 104.48 704.45 105.34 704.49 106.2 704.52 107.06 704.56 107.91 704.59 108.77 704.62 109.63 704.65 110.49 704.68 111.34 704.71 112.2 704.74 113.06 704.77 113.92 704.79 114.77 704.82 115.63 704.84 116.49 704.87 117.35 704.89 118.2 704.91 119.06 704.93 119.92 704.95 120.78 704.97 121.63 704.99 122.49 705.01 123.35 705.03 124.21 705.05 125.06 705.06 125.92 705.08 126.78 705.1 127.64 705.11 128.5 705.12 129.35 705.14 130.21 705.15 131.07 705.17 131.93 705.18 132.78 705.19 133.64 705.2 134.5 705.21 135.35 705.22 136.21 705.23 137.07 705.24 137.93 705.25 138.78 705.26 139.64 705.27 140.5 705.28 141.36 705.29 142.22 705.3 143.07 705.31 143.93 705.31 144.79 705.32 145.64 705.33 146.5 705.34 147.36 705.34 148.22 705.35 149.07 705.35 149.93 705.36 150.79 705.37 151.65 705.37 152.5 705.38 153.36 705.38 154.22 705.39 155.08 705.39 155.94 705.4 156.79 705.4 157.65 705.41 158.51 705.41 159.36 705.41 160.22 705.42 161.08 705.42 161.94 705.43 162.79 705.43 163.65 705.43 164.51 705.44 165.37 705.44 166.22 705.44 167.08 705.45 167.94 705.45 168.8 705.45 169.65 705.45 170.51 705.46 171.37 705.46" stroke="#46cd46" stroke-width="1.35" fill="none" stroke-linejoin="round"/>
<path d="M68.47 705.33 69.33 705.32 70.19 705.31 71.04 705.3 71.9 705.29 72.76 705.28 73.61 705.27 74.47 705.26 75.33 705.25 76.19 705.24 77.05 705.23 77.9 705.21 78.76 705.2 79.62 705.18 80.47 705.17 81.33 705.15 82.19 705.14 83.05 705.12 83.91 705.1 84.76 705.09 85.62 705.07 86.48 705.05 87.33 705.03 88.19 705.01 89.05 704.99 89.91 704.96 90.77 704.94 91.62 704.91 92.48 704.89 93.34 704.86 94.19 704.83 95.05 704.8 95.91 704.77 96.77 704.74 97.62 704.71 98.48 704.68 99.34 704.64 100.2 704.6 101.05 704.57 101.91 704.53 102.77 704.48 103.63 704.44 104.48 704.4 105.34 704.35 106.2 704.3 107.06 704.25 107.91 704.2 108.77 704.15 109.63 704.09 110.49 704.03 111.34 703.97 112.2 703.91 113.06 703.85 113.92 703.78 114.77 703.71 115.63 703.64 116.49 703.56 117.35 703.49 118.2 703.41 119.06 703.32 119.92 703.24 120.78 703.15 121.63 703.05 122.49 702.96 123.35 702.86 124.21 702.76 125.06 702.65 125.92 702.54 126.78 702.42 127.64 702.31 128.5 702.18 129.35 702.06 130.21 701.93 131.07 701.79 131.93 701.65 132.78 701.51 133.64 701.36 134.5 701.21 135.35 701.05 136.21 700.89 137.07 700.72 137.93 700.54 138.78 700.37 139.64 700.18 140.5 699.99 141.36 699.79 142.22 699.59 143.07 699.38 143.93 699.17 144.79 698.95 145.64 698.72 146.5 698.49 147.36 698.25 148.22 698 149.07 697.75 149.93 697.49 150.79 697.22 151.65 696.94 152.5 696.66 153.36 696.37 154.22 696.08 155.08 695.77 155.94 695.46 156.79 695.14 157.65 694.81 158.51 694.48 159.36 694.14 160.22 693.79 161.08 693.43 161.94 693.06 162.79 692.69 163.65 692.31 164.51 691.92 165.37 691.52 166.22 691.11 167.08 690.7 167.94 690.27 168.8 689.84 169.65 689.41 170.51 688.96 171.37 688.51" stroke="#699ef5" stroke-width="1.35" fill="none" stroke-linejoin="round"/>
<path d="M68.47 631.73 69.33 631.43 70.19 631.13 71.04 630.83 71.9 630.53 72.76 630.24 73.61 629.94 74.47 629.65 75.33 629.35 76.19 629.06 77.05 628.77 77.9 628.49 78.76 628.2 79.62 627.92 80.47 627.64 81.33 627.36 82.19 627.08 83.05 626.81 83.91 626.54 84.76 626.27 85.62 626 86.48 625.74 87.33 625.48 88.19 625.23 89.05 624.98 89.91 624.73 90.77 624.48 91.62 624.24 92.48 624 93.34 623.77 94.19 623.54 95.05 623.31 95.91 623.09 96.77 622.87 97.62 622.66 98.48 622.45 99.34 622.24 100.2 622.04 101.05 621.84 101.91 621.65 102.77 621.46 103.63 621.27 104.48 621.09 105.34 620.92 106.2 620.74 107.06 620.58 107.91 620.41 108.77 620.26 109.63 620.1 110.49 619.95 111.34 619.81 112.2 619.67 113.06 619.53 113.92 619.4 114.77 619.28 115.63 619.15 116.49 619.04 117.35 618.93 118.2 618.82 119.06 618.72 119.92 618.62 120.78 618.52 121.63 618.44 122.49 618.35 123.35 618.28 124.21 618.2 125.06 618.13 125.92 618.07 126.78 618.01 127.64 617.96 128.5 617.91 129.35 617.87 130.21 617.83 131.07 617.8 131.93 617.77 132.78 617.75 133.64 617.73 134.5 617.72 135.35 617.72 136.21 617.72 137.07 617.72 137.93 617.74 138.78 617.76 139.64 617.78 140.5 617.81 141.36 617.85 142.22 617.89 143.07 617.94 143.93 618 144.79 618.06 145.64 618.13 146.5 618.21 147.36 618.3 148.22 618.39 149.07 618.49 149.93 618.6 150.79 618.72 151.65 618.84 152.5 618.97 153.36 619.12 154.22 619.27 155.08 619.43 155.94 619.6 156.79 619.78 157.65 619.97 158.51 620.17 159.36 620.39 160.22 620.61 161.08 620.85 161.94 621.09 162.79 621.35 163.65 621.63 164.51 621.91 165.37 622.21 166.22 622.53 167.08 622.86 167.94 623.2 168.8 623.56 169.65 623.94 170.51 624.34 171.37 624.75" stroke="#2316fa" stroke-width="2.4" fill="none" stroke-linejoin="round"/>
<path d="M73.61 710.4V597.49M94.19 710.4V597.49M119.92 710.4V597.49M145.64 710.4V597.49M166.22 710.4V597.49" stroke="#484848" stroke-width="0.85" fill="none" stroke-dasharray="2.6 2.4"/>
<path d="M63.47 653.95H176.47" stroke="#484848" stroke-width="0.85" fill="none" stroke-dasharray="2.6 2.45"/>
<rect x="63.47" y="597.49" width="113" height="112.91" fill="none" stroke="#a0a0a0" stroke-width="0.9"/>
<path d="M61.57 705.53H63.47M61.57 679.74H63.47M61.57 653.95H63.47M61.57 628.16H63.47M61.57 602.37H63.47M68.47 710.4V712.3M94.19 710.4V712.3M119.92 710.4V712.3M145.64 710.4V712.3M171.37 710.4V712.3" stroke="#555" stroke-width="0.8" fill="none"/>
<text x="60.47" y="709.03" class="tk" text-anchor="end">0.00</text>
<text x="60.47" y="683.24" class="tk" text-anchor="end">0.25</text>
<text x="60.47" y="657.45" class="tk" text-anchor="end">0.50</text>
<text x="60.47" y="631.66" class="tk" text-anchor="end">0.75</text>
<text x="60.47" y="605.87" class="tk" text-anchor="end">1.00</text>
<text x="68.47" y="719.8" class="tk" text-anchor="middle">0</text>
<text x="94.19" y="719.8" class="tk" text-anchor="middle">25</text>
<text x="119.92" y="719.8" class="tk" text-anchor="middle">50</text>
<text x="145.64" y="719.8" class="tk" text-anchor="middle">75</text>
<text x="171.37" y="719.8" class="tk" text-anchor="middle">100</text>
<text x="119.97" y="729.1" class="ax" text-anchor="middle">Score Index</text>
<text x="63.47" y="592.29" class="ti">PD/DLB: Orange</text>
<text x="40.8" y="653.94" class="ax" text-anchor="middle" transform="rotate(-90 40.8 653.94)">Proportion/Probability</text>
<path d="M228.72 597.49V710.4M254.45 597.49V710.4M280.17 597.49V710.4M305.9 597.49V710.4M210.86 692.63H323.86M210.86 666.85H323.86M210.86 641.05H323.86M210.86 615.26H323.86" stroke="#f4f4f4" stroke-width="0.5" fill="none"/>
<path d="M215.86 597.49V710.4M241.59 597.49V710.4M267.31 597.49V710.4M293.04 597.49V710.4M318.76 597.49V710.4M210.86 705.53H323.86M210.86 679.74H323.86M210.86 653.95H323.86M210.86 628.16H323.86M210.86 602.37H323.86" stroke="#ececec" stroke-width="0.6" fill="none"/>
<path d="M215.86 692.39 216.72 692.81 217.58 693.22 218.43 693.62 219.29 694.01 220.15 694.39 221.01 694.76 221.86 695.12 222.72 695.47 223.58 695.81 224.44 696.14 225.29 696.47 226.15 696.78 227.01 697.09 227.87 697.38 228.72 697.67 229.58 697.95 230.44 698.23 231.3 698.49 232.15 698.75 233.01 699 233.87 699.24 234.73 699.47 235.58 699.7 236.44 699.92 237.3 700.13 238.16 700.34 239.01 700.54 239.87 700.73 240.73 700.92 241.59 701.1 242.44 701.27 243.3 701.44 244.16 701.6 245.02 701.76 245.87 701.91 246.73 702.06 247.59 702.2 248.44 702.34 249.3 702.47 250.16 702.6 251.02 702.72 251.88 702.84 252.73 702.95 253.59 703.06 254.45 703.16 255.31 703.27 256.16 703.36 257.02 703.46 257.88 703.55 258.74 703.64 259.59 703.72 260.45 703.8 261.31 703.88 262.17 703.95 263.02 704.02 263.88 704.09 264.74 704.16 265.6 704.22 266.45 704.28 267.31 704.34 268.17 704.39 269.02 704.45 269.88 704.5 270.74 704.55 271.6 704.59 272.46 704.64 273.31 704.68 274.17 704.72 275.03 704.76 275.88 704.8 276.74 704.83 277.6 704.87 278.46 704.9 279.31 704.93 280.17 704.96 281.03 704.99 281.89 705.02 282.75 705.05 283.6 705.07 284.46 705.09 285.32 705.12 286.18 705.14 287.03 705.16 287.89 705.18 288.75 705.2 289.61 705.21 290.46 705.23 291.32 705.25 292.18 705.26 293.04 705.28 293.89 705.29 294.75 705.3 295.61 705.32 296.47 705.33 297.32 705.34 298.18 705.35 299.04 705.36 299.89 705.37 300.75 705.38 301.61 705.39 302.47 705.4 303.32 705.4 304.18 705.41 305.04 705.42 305.9 705.42 306.75 705.43 307.61 705.44 308.47 705.44 309.33 705.45 310.19 705.45 311.04 705.46 311.9 705.46 312.76 705.47 313.62 705.47 314.47 705.47 315.33 705.48 316.19 705.48 317.05 705.48 317.9 705.49 318.76 705.49" stroke="#e86c6c" stroke-width="1.35" fill="none" stroke-linejoin="round"/>
<path d="M215.86 702.26 216.72 702.37 217.58 702.48 218.43 702.58 219.29 702.68 220.15 702.78 221.01 702.87 221.86 702.96 222.72 703.05 223.58 703.13 224.44 703.21 225.29 703.29 226.15 703.37 227.01 703.44 227.87 703.51 228.72 703.58 229.58 703.65 230.44 703.71 231.3 703.77 232.15 703.83 233.01 703.89 233.87 703.94 234.73 704 235.58 704.05 236.44 704.1 237.3 704.15 238.16 704.2 239.01 704.24 239.87 704.29 240.73 704.33 241.59 704.37 242.44 704.41 243.3 704.45 244.16 704.48 245.02 704.52 245.87 704.55 246.73 704.59 247.59 704.62 248.44 704.65 249.3 704.68 250.16 704.71 251.02 704.74 251.88 704.76 252.73 704.79 253.59 704.81 254.45 704.84 255.31 704.86 256.16 704.89 257.02 704.91 257.88 704.93 258.74 704.95 259.59 704.97 260.45 704.99 261.31 705.01 262.17 705.02 263.02 705.04 263.88 705.06 264.74 705.07 265.6 705.09 266.45 705.1 267.31 705.12 268.17 705.13 269.02 705.15 269.88 705.16 270.74 705.17 271.6 705.18 272.46 705.2 273.31 705.21 274.17 705.22 275.03 705.23 275.88 705.24 276.74 705.25 277.6 705.26 278.46 705.27 279.31 705.28 280.17 705.28 281.03 705.29 281.89 705.3 282.75 705.31 283.6 705.32 284.46 705.32 285.32 705.33 286.18 705.34 287.03 705.34 287.89 705.35 288.75 705.36 289.61 705.36 290.46 705.37 291.32 705.37 292.18 705.38 293.04 705.38 293.89 705.39 294.75 705.39 295.61 705.4 296.47 705.4 297.32 705.41 298.18 705.41 299.04 705.41 299.89 705.42 300.75 705.42 301.61 705.43 302.47 705.43 303.32 705.43 304.18 705.44 305.04 705.44 305.9 705.44 306.75 705.45 307.61 705.45 308.47 705.45 309.33 705.45 310.19 705.46 311.04 705.46 311.9 705.46 312.76 705.46 313.62 705.47 314.47 705.47 315.33 705.47 316.19 705.47 317.05 705.47 317.9 705.48 318.76 705.48" stroke="#46cd46" stroke-width="1.35" fill="none" stroke-linejoin="round"/>
<path d="M215.86 682.67 216.72 683.43 217.58 684.18 218.43 684.92 219.29 685.64 220.15 686.35 221.01 687.04 221.86 687.71 222.72 688.37 223.58 689.02 224.44 689.65 225.29 690.26 226.15 690.86 227.01 691.44 227.87 692 228.72 692.55 229.58 693.09 230.44 693.61 231.3 694.11 232.15 694.6 233.01 695.07 233.87 695.52 234.73 695.97 235.58 696.39 236.44 696.8 237.3 697.2 238.16 697.59 239.01 697.96 239.87 698.31 240.73 698.66 241.59 698.99 242.44 699.3 243.3 699.61 244.16 699.9 245.02 700.18 245.87 700.45 246.73 700.71 247.59 700.96 248.44 701.2 249.3 701.42 250.16 701.64 251.02 701.85 251.88 702.04 252.73 702.23 253.59 702.41 254.45 702.58 255.31 702.75 256.16 702.9 257.02 703.05 257.88 703.19 258.74 703.33 259.59 703.45 260.45 703.58 261.31 703.69 262.17 703.8 263.02 703.9 263.88 704 264.74 704.09 265.6 704.18 266.45 704.26 267.31 704.34 268.17 704.42 269.02 704.49 269.88 704.55 270.74 704.61 271.6 704.67 272.46 704.73 273.31 704.78 274.17 704.83 275.03 704.88 275.88 704.92 276.74 704.96 277.6 705 278.46 705.04 279.31 705.07 280.17 705.1 281.03 705.13 281.89 705.16 282.75 705.18 283.6 705.21 284.46 705.23 285.32 705.25 286.18 705.27 287.03 705.29 287.89 705.31 288.75 705.33 289.61 705.34 290.46 705.36 291.32 705.37 292.18 705.38 293.04 705.39 293.89 705.4 294.75 705.41 295.61 705.42 296.47 705.43 297.32 705.44 298.18 705.45 299.04 705.45 299.89 705.46 300.75 705.46 301.61 705.47 302.47 705.47 303.32 705.48 304.18 705.48 305.04 705.49 305.9 705.49 306.75 705.49 307.61 705.5 308.47 705.5 309.33 705.5 310.19 705.5 311.04 705.51 311.9 705.51 312.76 705.51 313.62 705.51 314.47 705.51 315.33 705.52 316.19 705.52 317.05 705.52 317.9 705.52 318.76 705.52" stroke="#699ef5" stroke-width="1.35" fill="none" stroke-linejoin="round"/>
<path d="M215.86 641.74 216.72 640.45 217.58 639.18 218.43 637.92 219.29 636.69 220.15 635.48 221.01 634.29 221.86 633.13 222.72 631.99 223.58 630.88 224.44 629.79 225.29 628.73 226.15 627.69 227.01 626.68 227.87 625.7 228.72 624.75 229.58 623.83 230.44 622.93 231.3 622.07 232.15 621.23 233.01 620.41 233.87 619.63 234.73 618.87 235.58 618.14 236.44 617.44 237.3 616.76 238.16 616.1 239.01 615.47 239.87 614.87 240.73 614.29 241.59 613.73 242.44 613.2 243.3 612.68 244.16 612.19 245.02 611.72 245.87 611.27 246.73 610.84 247.59 610.43 248.44 610.03 249.3 609.65 250.16 609.29 251.02 608.95 251.88 608.62 252.73 608.31 253.59 608.01 254.45 607.72 255.31 607.45 256.16 607.19 257.02 606.95 257.88 606.71 258.74 606.49 259.59 606.27 260.45 606.07 261.31 605.88 262.17 605.7 263.02 605.52 263.88 605.36 264.74 605.2 265.6 605.05 266.45 604.91 267.31 604.77 268.17 604.64 269.02 604.52 269.88 604.41 270.74 604.3 271.6 604.19 272.46 604.1 273.31 604 274.17 603.91 275.03 603.83 275.88 603.75 276.74 603.67 277.6 603.6 278.46 603.53 279.31 603.47 280.17 603.41 281.03 603.35 281.89 603.3 282.75 603.25 283.6 603.2 284.46 603.15 285.32 603.11 286.18 603.07 287.03 603.03 287.89 602.99 288.75 602.95 289.61 602.92 290.46 602.89 291.32 602.86 292.18 602.83 293.04 602.81 293.89 602.78 294.75 602.76 295.61 602.73 296.47 602.71 297.32 602.69 298.18 602.67 299.04 602.66 299.89 602.64 300.75 602.62 301.61 602.61 302.47 602.6 303.32 602.58 304.18 602.57 305.04 602.56 305.9 602.55 306.75 602.54 307.61 602.53 308.47 602.52 309.33 602.51 310.19 602.5 311.04 602.49 311.9 602.48 312.76 602.48 313.62 602.47 314.47 602.46 315.33 602.46 316.19 602.45 317.05 602.45 317.9 602.44 318.76 602.44" stroke="#2316fa" stroke-width="2.4" fill="none" stroke-linejoin="round"/>
<path d="M221.01 710.4V597.49M241.59 710.4V597.49M267.31 710.4V597.49M293.04 710.4V597.49M313.62 710.4V597.49" stroke="#484848" stroke-width="0.85" fill="none" stroke-dasharray="2.6 2.4"/>
<path d="M210.86 653.95H323.86" stroke="#484848" stroke-width="0.85" fill="none" stroke-dasharray="2.6 2.45"/>
<rect x="210.86" y="597.49" width="113" height="112.91" fill="none" stroke="#a0a0a0" stroke-width="0.9"/>
<path d="M208.96 705.53H210.86M208.96 679.74H210.86M208.96 653.95H210.86M208.96 628.16H210.86M208.96 602.37H210.86M215.86 710.4V712.3M241.59 710.4V712.3M267.31 710.4V712.3M293.04 710.4V712.3M318.76 710.4V712.3" stroke="#555" stroke-width="0.8" fill="none"/>
<text x="207.86" y="709.03" class="tk" text-anchor="end">0.00</text>
<text x="207.86" y="683.24" class="tk" text-anchor="end">0.25</text>
<text x="207.86" y="657.45" class="tk" text-anchor="end">0.50</text>
<text x="207.86" y="631.66" class="tk" text-anchor="end">0.75</text>
<text x="207.86" y="605.87" class="tk" text-anchor="end">1.00</text>
<text x="215.86" y="719.8" class="tk" text-anchor="middle">0</text>
<text x="241.59" y="719.8" class="tk" text-anchor="middle">25</text>
<text x="267.31" y="719.8" class="tk" text-anchor="middle">50</text>
<text x="293.04" y="719.8" class="tk" text-anchor="middle">75</text>
<text x="318.76" y="719.8" class="tk" text-anchor="middle">100</text>
<text x="267.36" y="729.1" class="ax" text-anchor="middle">Score Index</text>
<text x="210.86" y="592.29" class="ti">HC: Orange</text>
<path d="M439.31 597.49V710.4M465.04 597.49V710.4M490.76 597.49V710.4M516.49 597.49V710.4M421.45 692.63H534.45M421.45 666.85H534.45M421.45 641.05H534.45M421.45 615.26H534.45" stroke="#f4f4f4" stroke-width="0.5" fill="none"/>
<path d="M426.45 597.49V710.4M452.18 597.49V710.4M477.9 597.49V710.4M503.62 597.49V710.4M529.35 597.49V710.4M421.45 705.53H534.45M421.45 679.74H534.45M421.45 653.95H534.45M421.45 628.16H534.45M421.45 602.37H534.45" stroke="#ececec" stroke-width="0.6" fill="none"/>
<path d="M426.45 685.45 427.31 685.46 428.16 685.47 429.02 685.48 429.88 685.5 430.74 685.51 431.59 685.53 432.45 685.56 433.31 685.58 434.17 685.61 435.02 685.64 435.88 685.68 436.74 685.71 437.6 685.75 438.45 685.79 439.31 685.84 440.17 685.88 441.03 685.94 441.88 685.99 442.74 686.04 443.6 686.1 444.46 686.17 445.31 686.23 446.17 686.3 447.03 686.37 447.89 686.44 448.75 686.52 449.6 686.6 450.46 686.68 451.32 686.77 452.18 686.86 453.03 686.95 453.89 687.04 454.75 687.14 455.6 687.24 456.46 687.34 457.32 687.45 458.18 687.56 459.03 687.67 459.89 687.78 460.75 687.9 461.61 688.02 462.46 688.14 463.32 688.27 464.18 688.4 465.04 688.53 465.89 688.66 466.75 688.8 467.61 688.94 468.47 689.08 469.32 689.22 470.18 689.37 471.04 689.52 471.9 689.67 472.75 689.82 473.61 689.98 474.47 690.14 475.33 690.3 476.19 690.46 477.04 690.62 477.9 690.79 478.76 690.96 479.61 691.13 480.47 691.3 481.33 691.47 482.19 691.65 483.05 691.82 483.9 692 484.76 692.18 485.62 692.36 486.47 692.54 487.33 692.73 488.19 692.91 489.05 693.1 489.9 693.28 490.76 693.47 491.62 693.66 492.48 693.85 493.33 694.04 494.19 694.22 495.05 694.41 495.91 694.6 496.76 694.79 497.62 694.99 498.48 695.18 499.34 695.37 500.19 695.56 501.05 695.75 501.91 695.94 502.77 696.12 503.62 696.31 504.48 696.5 505.34 696.69 506.2 696.87 507.05 697.06 507.91 697.24 508.77 697.43 509.63 697.61 510.49 697.79 511.34 697.97 512.2 698.15 513.06 698.33 513.91 698.5 514.77 698.67 515.63 698.85 516.49 699.02 517.35 699.18 518.2 699.35 519.06 699.51 519.92 699.68 520.77 699.84 521.63 699.99 522.49 700.15 523.35 700.3 524.2 700.46 525.06 700.6 525.92 700.75 526.78 700.89 527.63 701.04 528.49 701.18 529.35 701.31" stroke="#e86c6c" stroke-width="1.35" fill="none" stroke-linejoin="round"/>
<path d="M426.45 647.38 427.31 647.33 428.16 647.3 429.02 647.27 429.88 647.25 430.74 647.24 431.59 647.24 432.45 647.24 433.31 647.25 434.17 647.28 435.02 647.31 435.88 647.34 436.74 647.39 437.6 647.45 438.45 647.51 439.31 647.58 440.17 647.66 441.03 647.75 441.88 647.84 442.74 647.95 443.6 648.06 444.46 648.18 445.31 648.31 446.17 648.44 447.03 648.59 447.89 648.74 448.75 648.9 449.6 649.07 450.46 649.25 451.32 649.43 452.18 649.63 453.03 649.83 453.89 650.04 454.75 650.26 455.6 650.49 456.46 650.72 457.32 650.96 458.18 651.22 459.03 651.48 459.89 651.74 460.75 652.02 461.61 652.3 462.46 652.6 463.32 652.9 464.18 653.2 465.04 653.52 465.89 653.85 466.75 654.18 467.61 654.52 468.47 654.87 469.32 655.22 470.18 655.59 471.04 655.96 471.9 656.34 472.75 656.73 473.61 657.12 474.47 657.53 475.33 657.93 476.19 658.35 477.04 658.78 477.9 659.21 478.76 659.65 479.61 660.09 480.47 660.54 481.33 661 482.19 661.47 483.05 661.94 483.9 662.42 484.76 662.9 485.62 663.39 486.47 663.89 487.33 664.39 488.19 664.9 489.05 665.41 489.9 665.92 490.76 666.45 491.62 666.97 492.48 667.5 493.33 668.04 494.19 668.58 495.05 669.12 495.91 669.66 496.76 670.21 497.62 670.76 498.48 671.31 499.34 671.87 500.19 672.43 501.05 672.99 501.91 673.55 502.77 674.11 503.62 674.67 504.48 675.23 505.34 675.8 506.2 676.36 507.05 676.92 507.91 677.49 508.77 678.05 509.63 678.61 510.49 679.16 511.34 679.72 512.2 680.27 513.06 680.82 513.91 681.37 514.77 681.91 515.63 682.46 516.49 682.99 517.35 683.53 518.2 684.05 519.06 684.58 519.92 685.1 520.77 685.61 521.63 686.12 522.49 686.62 523.35 687.12 524.2 687.61 525.06 688.1 525.92 688.57 526.78 689.05 527.63 689.51 528.49 689.97 529.35 690.42" stroke="#46cd46" stroke-width="1.35" fill="none" stroke-linejoin="round"/>
<path d="M426.45 693.53 427.31 693.4 428.16 693.27 429.02 693.14 429.88 693.02 430.74 692.89 431.59 692.76 432.45 692.63 433.31 692.51 434.17 692.38 435.02 692.26 435.88 692.14 436.74 692.01 437.6 691.89 438.45 691.77 439.31 691.65 440.17 691.54 441.03 691.42 441.88 691.3 442.74 691.19 443.6 691.08 444.46 690.97 445.31 690.86 446.17 690.75 447.03 690.65 447.89 690.55 448.75 690.44 449.6 690.35 450.46 690.25 451.32 690.15 452.18 690.06 453.03 689.97 453.89 689.88 454.75 689.8 455.6 689.72 456.46 689.64 457.32 689.56 458.18 689.48 459.03 689.41 459.89 689.34 460.75 689.28 461.61 689.22 462.46 689.16 463.32 689.1 464.18 689.05 465.04 688.99 465.89 688.95 466.75 688.9 467.61 688.86 468.47 688.83 469.32 688.79 470.18 688.76 471.04 688.74 471.9 688.72 472.75 688.7 473.61 688.68 474.47 688.67 475.33 688.66 476.19 688.66 477.04 688.66 477.9 688.66 478.76 688.67 479.61 688.68 480.47 688.7 481.33 688.72 482.19 688.75 483.05 688.77 483.9 688.81 484.76 688.84 485.62 688.88 486.47 688.93 487.33 688.98 488.19 689.03 489.05 689.09 489.9 689.15 490.76 689.21 491.62 689.28 492.48 689.36 493.33 689.44 494.19 689.52 495.05 689.6 495.91 689.69 496.76 689.79 497.62 689.89 498.48 689.99 499.34 690.09 500.19 690.2 501.05 690.31 501.91 690.43 502.77 690.55 503.62 690.68 504.48 690.8 505.34 690.94 506.2 691.07 507.05 691.21 507.91 691.35 508.77 691.49 509.63 691.64 510.49 691.79 511.34 691.95 512.2 692.1 513.06 692.26 513.91 692.42 514.77 692.59 515.63 692.76 516.49 692.93 517.35 693.1 518.2 693.27 519.06 693.45 519.92 693.63 520.77 693.81 521.63 693.99 522.49 694.17 523.35 694.35 524.2 694.54 525.06 694.73 525.92 694.92 526.78 695.1 527.63 695.29 528.49 695.48 529.35 695.68" stroke="#699ef5" stroke-width="1.35" fill="none" stroke-linejoin="round"/>
<path d="M426.45 701.88 427.31 701.75 428.16 701.61 429.02 701.46 429.88 701.32 430.74 701.16 431.59 701 432.45 700.84 433.31 700.67 434.17 700.49 435.02 700.31 435.88 700.12 436.74 699.93 437.6 699.73 438.45 699.52 439.31 699.31 440.17 699.09 441.03 698.86 441.88 698.62 442.74 698.38 443.6 698.13 444.46 697.87 445.31 697.6 446.17 697.33 447.03 697.05 447.89 696.75 448.75 696.45 449.6 696.14 450.46 695.83 451.32 695.5 452.18 695.16 453.03 694.81 453.89 694.45 454.75 694.09 455.6 693.71 456.46 693.32 457.32 692.92 458.18 692.51 459.03 692.09 459.89 691.66 460.75 691.22 461.61 690.76 462.46 690.3 463.32 689.82 464.18 689.33 465.04 688.83 465.89 688.32 466.75 687.79 467.61 687.26 468.47 686.71 469.32 686.15 470.18 685.58 471.04 684.99 471.9 684.4 472.75 683.79 473.61 683.17 474.47 682.54 475.33 681.89 476.19 681.24 477.04 680.57 477.9 679.89 478.76 679.2 479.61 678.5 480.47 677.78 481.33 677.06 482.19 676.33 483.05 675.58 483.9 674.83 484.76 674.06 485.62 673.29 486.47 672.51 487.33 671.72 488.19 670.92 489.05 670.11 489.9 669.29 490.76 668.47 491.62 667.64 492.48 666.81 493.33 665.96 494.19 665.12 495.05 664.26 495.91 663.41 496.76 662.55 497.62 661.68 498.48 660.81 499.34 659.94 500.19 659.07 501.05 658.2 501.91 657.33 502.77 656.45 503.62 655.58 504.48 654.7 505.34 653.83 506.2 652.96 507.05 652.09 507.91 651.22 508.77 650.36 509.63 649.5 510.49 648.64 511.34 647.79 512.2 646.95 513.06 646.11 513.91 645.27 514.77 644.44 515.63 643.62 516.49 642.81 517.35 642 518.2 641.2 519.06 640.41 519.92 639.63 520.77 638.85 521.63 638.09 522.49 637.33 523.35 636.58 524.2 635.85 525.06 635.12 525.92 634.4 526.78 633.7 527.63 633 528.49 632.32 529.35 631.64" stroke="#2316fa" stroke-width="2.4" fill="none" stroke-linejoin="round"/>
<path d="M431.59 710.4V597.49M452.18 710.4V597.49M477.9 710.4V597.49M503.62 710.4V597.49M524.2 710.4V597.49" stroke="#484848" stroke-width="0.85" fill="none" stroke-dasharray="2.6 2.4"/>
<path d="M421.45 653.95H534.45" stroke="#484848" stroke-width="0.85" fill="none" stroke-dasharray="2.6 2.45"/>
<rect x="421.45" y="597.49" width="113" height="112.91" fill="none" stroke="#a0a0a0" stroke-width="0.9"/>
<path d="M419.55 705.53H421.45M419.55 679.74H421.45M419.55 653.95H421.45M419.55 628.16H421.45M419.55 602.37H421.45M426.45 710.4V712.3M452.18 710.4V712.3M477.9 710.4V712.3M503.62 710.4V712.3M529.35 710.4V712.3" stroke="#555" stroke-width="0.8" fill="none"/>
<text x="418.45" y="709.03" class="tk" text-anchor="end">0.00</text>
<text x="418.45" y="683.24" class="tk" text-anchor="end">0.25</text>
<text x="418.45" y="657.45" class="tk" text-anchor="end">0.50</text>
<text x="418.45" y="631.66" class="tk" text-anchor="end">0.75</text>
<text x="418.45" y="605.87" class="tk" text-anchor="end">1.00</text>
<text x="426.45" y="719.8" class="tk" text-anchor="middle">0</text>
<text x="452.18" y="719.8" class="tk" text-anchor="middle">25</text>
<text x="477.9" y="719.8" class="tk" text-anchor="middle">50</text>
<text x="503.62" y="719.8" class="tk" text-anchor="middle">75</text>
<text x="529.35" y="719.8" class="tk" text-anchor="middle">100</text>
<text x="477.95" y="729.1" class="ax" text-anchor="middle">Score Index</text>
<text x="421.45" y="592.29" class="ti">PD/DLB: Orange</text>
<text x="398.78" y="653.94" class="ax" text-anchor="middle" transform="rotate(-90 398.78 653.94)">Proportion/Probability</text>
<path d="M587.31 597.49V710.4M613.04 597.49V710.4M638.76 597.49V710.4M664.49 597.49V710.4M569.45 692.63H682.45M569.45 666.85H682.45M569.45 641.05H682.45M569.45 615.26H682.45" stroke="#f4f4f4" stroke-width="0.5" fill="none"/>
<path d="M574.45 597.49V710.4M600.18 597.49V710.4M625.9 597.49V710.4M651.62 597.49V710.4M677.35 597.49V710.4M569.45 705.53H682.45M569.45 679.74H682.45M569.45 653.95H682.45M569.45 628.16H682.45M569.45 602.37H682.45" stroke="#ececec" stroke-width="0.6" fill="none"/>
<path d="M574.45 700.85 575.31 700.78 576.17 700.7 577.02 700.62 577.88 700.55 578.74 700.47 579.6 700.4 580.45 700.32 581.31 700.25 582.17 700.18 583.03 700.11 583.88 700.05 584.74 699.98 585.6 699.91 586.46 699.85 587.31 699.79 588.17 699.73 589.03 699.67 589.88 699.62 590.74 699.56 591.6 699.51 592.46 699.46 593.32 699.41 594.17 699.37 595.03 699.32 595.89 699.28 596.75 699.24 597.6 699.21 598.46 699.17 599.32 699.14 600.18 699.11 601.03 699.09 601.89 699.06 602.75 699.04 603.61 699.02 604.46 699 605.32 698.99 606.18 698.98 607.04 698.97 607.89 698.96 608.75 698.96 609.61 698.96 610.47 698.96 611.32 698.97 612.18 698.97 613.04 698.98 613.89 699 614.75 699.01 615.61 699.03 616.47 699.05 617.33 699.07 618.18 699.1 619.04 699.13 619.9 699.16 620.75 699.19 621.61 699.23 622.47 699.27 623.33 699.31 624.19 699.35 625.04 699.39 625.9 699.44 626.76 699.49 627.62 699.54 628.47 699.59 629.33 699.65 630.19 699.71 631.05 699.77 631.9 699.83 632.76 699.89 633.62 699.95 634.48 700.02 635.33 700.09 636.19 700.16 637.05 700.23 637.91 700.3 638.76 700.37 639.62 700.44 640.48 700.52 641.34 700.6 642.19 700.67 643.05 700.75 643.91 700.83 644.76 700.91 645.62 700.99 646.48 701.07 647.34 701.15 648.2 701.23 649.05 701.31 649.91 701.39 650.77 701.48 651.62 701.56 652.48 701.64 653.34 701.72 654.2 701.81 655.06 701.89 655.91 701.97 656.77 702.05 657.63 702.13 658.49 702.21 659.34 702.29 660.2 702.37 661.06 702.45 661.92 702.53 662.77 702.61 663.63 702.69 664.49 702.76 665.35 702.84 666.2 702.91 667.06 702.98 667.92 703.06 668.78 703.13 669.63 703.2 670.49 703.27 671.35 703.34 672.21 703.41 673.06 703.47 673.92 703.54 674.78 703.6 675.63 703.66 676.49 703.73 677.35 703.79" stroke="#e86c6c" stroke-width="1.35" fill="none" stroke-linejoin="round"/>
<path d="M574.45 634.75 575.31 635.88 576.17 637.05 577.02 638.24 577.88 639.47 578.74 640.72 579.6 642 580.45 643.31 581.31 644.65 582.17 646 583.03 647.38 583.88 648.78 584.74 650.2 585.6 651.64 586.46 653.09 587.31 654.55 588.17 656.02 589.03 657.5 589.88 658.98 590.74 660.47 591.6 661.95 592.46 663.43 593.32 664.9 594.17 666.36 595.03 667.81 595.89 669.24 596.75 670.66 597.6 672.06 598.46 673.43 599.32 674.78 600.18 676.11 601.03 677.4 601.89 678.67 602.75 679.9 603.61 681.1 604.46 682.27 605.32 683.4 606.18 684.5 607.04 685.56 607.89 686.58 608.75 687.57 609.61 688.52 610.47 689.43 611.32 690.3 612.18 691.14 613.04 691.95 613.89 692.71 614.75 693.44 615.61 694.14 616.47 694.81 617.33 695.44 618.18 696.04 619.04 696.61 619.9 697.15 620.75 697.66 621.61 698.14 622.47 698.6 623.33 699.03 624.19 699.44 625.04 699.83 625.9 700.19 626.76 700.53 627.62 700.85 628.47 701.16 629.33 701.44 630.19 701.71 631.05 701.96 631.9 702.19 632.76 702.41 633.62 702.62 634.48 702.81 635.33 702.99 636.19 703.16 637.05 703.32 637.91 703.47 638.76 703.61 639.62 703.74 640.48 703.86 641.34 703.98 642.19 704.08 643.05 704.18 643.91 704.27 644.76 704.36 645.62 704.44 646.48 704.51 647.34 704.58 648.2 704.65 649.05 704.71 649.91 704.77 650.77 704.82 651.62 704.87 652.48 704.91 653.34 704.96 654.2 705 655.06 705.03 655.91 705.07 656.77 705.1 657.63 705.13 658.49 705.16 659.34 705.18 660.2 705.21 661.06 705.23 661.92 705.25 662.77 705.27 663.63 705.29 664.49 705.3 665.35 705.32 666.2 705.33 667.06 705.35 667.92 705.36 668.78 705.37 669.63 705.38 670.49 705.39 671.35 705.4 672.21 705.41 673.06 705.42 673.92 705.43 674.78 705.43 675.63 705.44 676.49 705.45 677.35 705.45" stroke="#46cd46" stroke-width="1.35" fill="none" stroke-linejoin="round"/>
<path d="M574.45 690.7 575.31 690.02 576.17 689.34 577.02 688.65 577.88 687.95 578.74 687.25 579.6 686.54 580.45 685.83 581.31 685.11 582.17 684.39 583.03 683.67 583.88 682.96 584.74 682.24 585.6 681.52 586.46 680.81 587.31 680.11 588.17 679.4 589.03 678.71 589.88 678.02 590.74 677.34 591.6 676.67 592.46 676.01 593.32 675.36 594.17 674.72 595.03 674.09 595.89 673.48 596.75 672.87 597.6 672.28 598.46 671.71 599.32 671.14 600.18 670.59 601.03 670.06 601.89 669.54 602.75 669.03 603.61 668.54 604.46 668.07 605.32 667.61 606.18 667.16 607.04 666.73 607.89 666.32 608.75 665.92 609.61 665.54 610.47 665.17 611.32 664.82 612.18 664.48 613.04 664.16 613.89 663.85 614.75 663.56 615.61 663.28 616.47 663.01 617.33 662.76 618.18 662.53 619.04 662.31 619.9 662.1 620.75 661.9 621.61 661.72 622.47 661.55 623.33 661.39 624.19 661.25 625.04 661.12 625.9 661 626.76 660.89 627.62 660.79 628.47 660.7 629.33 660.63 630.19 660.56 631.05 660.51 631.9 660.47 632.76 660.43 633.62 660.41 634.48 660.39 635.33 660.38 636.19 660.38 637.05 660.39 637.91 660.41 638.76 660.44 639.62 660.47 640.48 660.51 641.34 660.56 642.19 660.61 643.05 660.67 643.91 660.74 644.76 660.81 645.62 660.88 646.48 660.97 647.34 661.05 648.2 661.14 649.05 661.24 649.91 661.34 650.77 661.44 651.62 661.55 652.48 661.66 653.34 661.77 654.2 661.88 655.06 662 655.91 662.12 656.77 662.24 657.63 662.36 658.49 662.48 659.34 662.61 660.2 662.73 661.06 662.86 661.92 662.98 662.77 663.1 663.63 663.23 664.49 663.35 665.35 663.47 666.2 663.59 667.06 663.71 667.92 663.82 668.78 663.93 669.63 664.04 670.49 664.15 671.35 664.26 672.21 664.36 673.06 664.45 673.92 664.55 674.78 664.64 675.63 664.72 676.49 664.8 677.35 664.88" stroke="#699ef5" stroke-width="1.35" fill="none" stroke-linejoin="round"/>
<path d="M574.45 692.92 575.31 692.35 576.17 691.77 577.02 691.17 577.88 690.56 578.74 689.94 579.6 689.32 580.45 688.68 581.31 688.04 582.17 687.39 583.03 686.73 583.88 686.06 584.74 685.39 585.6 684.72 586.46 684.04 587.31 683.36 588.17 682.67 589.03 681.99 589.88 681.3 590.74 680.62 591.6 679.93 592.46 679.25 593.32 678.56 594.17 677.88 595.03 677.2 595.89 676.53 596.75 675.86 597.6 675.2 598.46 674.54 599.32 673.88 600.18 673.24 601.03 672.6 601.89 671.96 602.75 671.34 603.61 670.72 604.46 670.11 605.32 669.51 606.18 668.92 607.04 668.33 607.89 667.76 608.75 667.2 609.61 666.64 610.47 666.09 611.32 665.56 612.18 665.03 613.04 664.52 613.89 664.01 614.75 663.52 615.61 663.03 616.47 662.56 617.33 662.09 618.18 661.64 619.04 661.19 619.9 660.76 620.75 660.34 621.61 659.92 622.47 659.52 623.33 659.12 624.19 658.74 625.04 658.36 625.9 657.99 626.76 657.64 627.62 657.29 628.47 656.95 629.33 656.62 630.19 656.29 631.05 655.98 631.9 655.67 632.76 655.38 633.62 655.09 634.48 654.8 635.33 654.53 636.19 654.26 637.05 654 637.91 653.75 638.76 653.5 639.62 653.26 640.48 653.03 641.34 652.8 642.19 652.58 643.05 652.36 643.91 652.15 644.76 651.95 645.62 651.75 646.48 651.55 647.34 651.36 648.2 651.17 649.05 650.99 649.91 650.81 650.77 650.64 651.62 650.47 652.48 650.3 653.34 650.14 654.2 649.98 655.06 649.82 655.91 649.66 656.77 649.51 657.63 649.36 658.49 649.21 659.34 649.06 660.2 648.91 661.06 648.77 661.92 648.62 662.77 648.48 663.63 648.34 664.49 648.2 665.35 648.06 666.2 647.91 667.06 647.77 667.92 647.63 668.78 647.49 669.63 647.34 670.49 647.2 671.35 647.05 672.21 646.91 673.06 646.76 673.92 646.61 674.78 646.46 675.63 646.3 676.49 646.15 677.35 645.99" stroke="#2316fa" stroke-width="2.4" fill="none" stroke-linejoin="round"/>
<path d="M579.6 710.4V597.49M600.18 710.4V597.49M625.9 710.4V597.49M651.62 710.4V597.49M672.21 710.4V597.49" stroke="#484848" stroke-width="0.85" fill="none" stroke-dasharray="2.6 2.4"/>
<path d="M569.45 653.95H682.45" stroke="#484848" stroke-width="0.85" fill="none" stroke-dasharray="2.6 2.45"/>
<rect x="569.45" y="597.49" width="113" height="112.91" fill="none" stroke="#a0a0a0" stroke-width="0.9"/>
<path d="M567.55 705.53H569.45M567.55 679.74H569.45M567.55 653.95H569.45M567.55 628.16H569.45M567.55 602.37H569.45M574.45 710.4V712.3M600.18 710.4V712.3M625.9 710.4V712.3M651.62 710.4V712.3M677.35 710.4V712.3" stroke="#555" stroke-width="0.8" fill="none"/>
<text x="566.45" y="709.03" class="tk" text-anchor="end">0.00</text>
<text x="566.45" y="683.24" class="tk" text-anchor="end">0.25</text>
<text x="566.45" y="657.45" class="tk" text-anchor="end">0.50</text>
<text x="566.45" y="631.66" class="tk" text-anchor="end">0.75</text>
<text x="566.45" y="605.87" class="tk" text-anchor="end">1.00</text>
<text x="574.45" y="719.8" class="tk" text-anchor="middle">0</text>
<text x="600.18" y="719.8" class="tk" text-anchor="middle">25</text>
<text x="625.9" y="719.8" class="tk" text-anchor="middle">50</text>
<text x="651.62" y="719.8" class="tk" text-anchor="middle">75</text>
<text x="677.35" y="719.8" class="tk" text-anchor="middle">100</text>
<text x="625.95" y="729.1" class="ax" text-anchor="middle">Score Index</text>
<text x="569.45" y="592.29" class="ti">HC: Orange</text>
<path d="M54.21 742H62.31" stroke="#2316fa" stroke-width="2.6"/>
<text x="66.21" y="745" class="lg">1-Orange</text>
<path d="M119.96 742H128.06" stroke="#e86c6c" stroke-width="1.3"/>
<text x="131.96" y="745" class="lg">2-Blackberry</text>
<path d="M184.77 742H192.87" stroke="#46cd46" stroke-width="1.3"/>
<text x="196.77" y="745" class="lg">3-Strawberry</text>
<path d="M250.49 742H258.59" stroke="#699ef5" stroke-width="1.3"/>
<text x="262.49" y="745" class="lg">4-Pineapple</text>
<path d="M398.42 742H406.52" stroke="#e86c6c" stroke-width="1.3"/>
<text x="410.42" y="745" class="lg">1-Cheddar cheese</text>
<path d="M484.79 742H492.89" stroke="#46cd46" stroke-width="1.3"/>
<text x="496.79" y="745" class="lg">3-Bubble gum</text>
<path d="M554.66 742H562.76" stroke="#699ef5" stroke-width="1.3"/>
<text x="566.66" y="745" class="lg">4-Turpentine</text>
<path d="M632.03 742H640.13" stroke="#2316fa" stroke-width="2.6"/>
<text x="644.03" y="745" class="lg">2-Orange</text>
<path d="M81.33 778.78V892.4M107.06 778.78V892.4M132.78 778.78V892.4M158.51 778.78V892.4M63.47 874.49H176.47M63.47 848.58H176.47M63.47 822.67H176.47M63.47 796.76H176.47" stroke="#f4f4f4" stroke-width="0.5" fill="none"/>
<path d="M68.47 778.78V892.4M94.19 778.78V892.4M119.92 778.78V892.4M145.64 778.78V892.4M171.37 778.78V892.4M63.47 887.45H176.47M63.47 861.54H176.47M63.47 835.62H176.47M63.47 809.71H176.47M63.47 783.8H176.47" stroke="#ececec" stroke-width="0.6" fill="none"/>
<path d="M68.47 880.14 69.33 880.01 70.19 879.89 71.04 879.75 71.9 879.62 72.76 879.49 73.61 879.35 74.47 879.21 75.33 879.06 76.19 878.92 77.05 878.77 77.9 878.62 78.76 878.47 79.62 878.31 80.47 878.16 81.33 878 82.19 877.83 83.05 877.67 83.91 877.5 84.76 877.33 85.62 877.16 86.48 876.98 87.33 876.81 88.19 876.63 89.05 876.44 89.91 876.26 90.77 876.07 91.62 875.89 92.48 875.7 93.34 875.5 94.19 875.31 95.05 875.11 95.91 874.92 96.77 874.72 97.62 874.52 98.48 874.32 99.34 874.11 100.2 873.91 101.05 873.71 101.91 873.5 102.77 873.29 103.63 873.09 104.48 872.88 105.34 872.67 106.2 872.47 107.06 872.26 107.91 872.06 108.77 871.85 109.63 871.65 110.49 871.45 111.34 871.25 112.2 871.05 113.06 870.85 113.92 870.66 114.77 870.46 115.63 870.28 116.49 870.09 117.35 869.91 118.2 869.73 119.06 869.56 119.92 869.39 120.78 869.22 121.63 869.07 122.49 868.91 123.35 868.77 124.21 868.63 125.06 868.49 125.92 868.37 126.78 868.25 127.64 868.13 128.5 868.03 129.35 867.94 130.21 867.85 131.07 867.78 131.93 867.71 132.78 867.66 133.64 867.61 134.5 867.58 135.35 867.55 136.21 867.54 137.07 867.54 137.93 867.55 138.78 867.58 139.64 867.62 140.5 867.67 141.36 867.73 142.22 867.81 143.07 867.9 143.93 868.01 144.79 868.13 145.64 868.27 146.5 868.42 147.36 868.58 148.22 868.76 149.07 868.95 149.93 869.16 150.79 869.39 151.65 869.62 152.5 869.88 153.36 870.14 154.22 870.42 155.08 870.72 155.94 871.03 156.79 871.35 157.65 871.68 158.51 872.03 159.36 872.38 160.22 872.75 161.08 873.13 161.94 873.52 162.79 873.92 163.65 874.32 164.51 874.73 165.37 875.15 166.22 875.57 167.08 876 167.94 876.43 168.8 876.87 169.65 877.3 170.51 877.73 171.37 878.17" stroke="#e86c6c" stroke-width="1.35" fill="none" stroke-linejoin="round"/>
<path d="M68.47 846.28 69.33 846.68 70.19 847.08 71.04 847.47 71.9 847.86 72.76 848.24 73.61 848.63 74.47 849 75.33 849.38 76.19 849.75 77.05 850.12 77.9 850.49 78.76 850.85 79.62 851.21 80.47 851.57 81.33 851.93 82.19 852.29 83.05 852.64 83.91 852.99 84.76 853.35 85.62 853.7 86.48 854.05 87.33 854.4 88.19 854.74 89.05 855.09 89.91 855.44 90.77 855.79 91.62 856.13 92.48 856.48 93.34 856.83 94.19 857.17 95.05 857.52 95.91 857.87 96.77 858.21 97.62 858.56 98.48 858.91 99.34 859.26 100.2 859.61 101.05 859.96 101.91 860.32 102.77 860.67 103.63 861.02 104.48 861.38 105.34 861.73 106.2 862.09 107.06 862.45 107.91 862.81 108.77 863.17 109.63 863.53 110.49 863.89 111.34 864.26 112.2 864.62 113.06 864.99 113.92 865.35 114.77 865.72 115.63 866.09 116.49 866.46 117.35 866.83 118.2 867.2 119.06 867.57 119.92 867.94 120.78 868.32 121.63 868.69 122.49 869.06 123.35 869.43 124.21 869.8 125.06 870.18 125.92 870.55 126.78 870.92 127.64 871.29 128.5 871.66 129.35 872.03 130.21 872.39 131.07 872.76 131.93 873.12 132.78 873.48 133.64 873.84 134.5 874.2 135.35 874.56 136.21 874.91 137.07 875.26 137.93 875.61 138.78 875.95 139.64 876.29 140.5 876.63 141.36 876.96 142.22 877.29 143.07 877.62 143.93 877.94 144.79 878.26 145.64 878.57 146.5 878.88 147.36 879.18 148.22 879.48 149.07 879.77 149.93 880.05 150.79 880.33 151.65 880.61 152.5 880.88 153.36 881.14 154.22 881.4 155.08 881.65 155.94 881.9 156.79 882.13 157.65 882.37 158.51 882.59 159.36 882.81 160.22 883.03 161.08 883.23 161.94 883.43 162.79 883.63 163.65 883.82 164.51 884 165.37 884.17 166.22 884.34 167.08 884.51 167.94 884.66 168.8 884.81 169.65 884.96 170.51 885.1 171.37 885.23" stroke="#46cd46" stroke-width="1.35" fill="none" stroke-linejoin="round"/>
<path d="M68.47 831.91 69.33 831.67 70.19 831.44 71.04 831.2 71.9 830.97 72.76 830.74 73.61 830.51 74.47 830.29 75.33 830.06 76.19 829.84 77.05 829.62 77.9 829.41 78.76 829.19 79.62 828.98 80.47 828.78 81.33 828.57 82.19 828.37 83.05 828.17 83.91 827.97 84.76 827.78 85.62 827.59 86.48 827.4 87.33 827.22 88.19 827.04 89.05 826.87 89.91 826.7 90.77 826.53 91.62 826.37 92.48 826.22 93.34 826.06 94.19 825.92 95.05 825.77 95.91 825.64 96.77 825.51 97.62 825.38 98.48 825.26 99.34 825.15 100.2 825.04 101.05 824.94 101.91 824.84 102.77 824.76 103.63 824.68 104.48 824.6 105.34 824.54 106.2 824.48 107.06 824.43 107.91 824.39 108.77 824.36 109.63 824.34 110.49 824.33 111.34 824.33 112.2 824.33 113.06 824.35 113.92 824.38 114.77 824.42 115.63 824.47 116.49 824.54 117.35 824.61 118.2 824.7 119.06 824.81 119.92 824.92 120.78 825.05 121.63 825.2 122.49 825.36 123.35 825.54 124.21 825.73 125.06 825.94 125.92 826.17 126.78 826.42 127.64 826.68 128.5 826.97 129.35 827.27 130.21 827.59 131.07 827.94 131.93 828.31 132.78 828.7 133.64 829.12 134.5 829.56 135.35 830.02 136.21 830.51 137.07 831.03 137.93 831.57 138.78 832.14 139.64 832.74 140.5 833.37 141.36 834.03 142.22 834.72 143.07 835.44 143.93 836.2 144.79 836.98 145.64 837.8 146.5 838.65 147.36 839.53 148.22 840.45 149.07 841.4 149.93 842.39 150.79 843.4 151.65 844.45 152.5 845.53 153.36 846.64 154.22 847.78 155.08 848.95 155.94 850.15 156.79 851.36 157.65 852.61 158.51 853.87 159.36 855.15 160.22 856.44 161.08 857.75 161.94 859.06 162.79 860.37 163.65 861.69 164.51 863 165.37 864.31 166.22 865.6 167.08 866.88 167.94 868.13 168.8 869.37 169.65 870.57 170.51 871.74 171.37 872.87" stroke="#699ef5" stroke-width="1.35" fill="none" stroke-linejoin="round"/>
<path d="M68.47 887.38 69.33 887.38 70.19 887.37 71.04 887.37 71.9 887.36 72.76 887.35 73.61 887.35 74.47 887.34 75.33 887.33 76.19 887.32 77.05 887.31 77.9 887.3 78.76 887.28 79.62 887.27 80.47 887.26 81.33 887.24 82.19 887.23 83.05 887.21 83.91 887.19 84.76 887.17 85.62 887.15 86.48 887.12 87.33 887.1 88.19 887.07 89.05 887.04 89.91 887 90.77 886.97 91.62 886.93 92.48 886.89 93.34 886.85 94.19 886.8 95.05 886.75 95.91 886.69 96.77 886.63 97.62 886.57 98.48 886.5 99.34 886.42 100.2 886.35 101.05 886.26 101.91 886.17 102.77 886.07 103.63 885.96 104.48 885.85 105.34 885.72 106.2 885.59 107.06 885.45 107.91 885.3 108.77 885.13 109.63 884.96 110.49 884.77 111.34 884.57 112.2 884.35 113.06 884.12 113.92 883.88 114.77 883.61 115.63 883.33 116.49 883.03 117.35 882.71 118.2 882.37 119.06 882 119.92 881.61 120.78 881.2 121.63 880.76 122.49 880.3 123.35 879.8 124.21 879.28 125.06 878.72 125.92 878.14 126.78 877.51 127.64 876.86 128.5 876.17 129.35 875.44 130.21 874.67 131.07 873.86 131.93 873.02 132.78 872.13 133.64 871.21 134.5 870.24 135.35 869.23 136.21 868.18 137.07 867.08 137.93 865.94 138.78 864.77 139.64 863.55 140.5 862.29 141.36 861 142.22 859.66 143.07 858.29 143.93 856.89 144.79 855.45 145.64 853.99 146.5 852.5 147.36 850.98 148.22 849.44 149.07 847.89 149.93 846.32 150.79 844.73 151.65 843.14 152.5 841.54 153.36 839.93 154.22 838.33 155.08 836.74 155.94 835.14 156.79 833.56 157.65 832 158.51 830.45 159.36 828.91 160.22 827.4 161.08 825.92 161.94 824.45 162.79 823.02 163.65 821.62 164.51 820.25 165.37 818.91 166.22 817.6 167.08 816.33 167.94 815.09 168.8 813.89 169.65 812.73 170.51 811.61 171.37 810.52" stroke="#2316fa" stroke-width="2.4" fill="none" stroke-linejoin="round"/>
<path d="M73.61 892.4V778.78M94.19 892.4V778.78M119.92 892.4V778.78M145.64 892.4V778.78M166.22 892.4V778.78" stroke="#484848" stroke-width="0.85" fill="none" stroke-dasharray="2.6 2.4"/>
<path d="M63.47 835.62H176.47" stroke="#484848" stroke-width="0.85" fill="none" stroke-dasharray="2.6 2.45"/>
<rect x="63.47" y="778.78" width="113" height="113.62" fill="none" stroke="#a0a0a0" stroke-width="0.9"/>
<path d="M61.57 887.45H63.47M61.57 861.54H63.47M61.57 835.62H63.47M61.57 809.71H63.47M61.57 783.8H63.47M68.47 892.4V894.3M94.19 892.4V894.3M119.92 892.4V894.3M145.64 892.4V894.3M171.37 892.4V894.3" stroke="#555" stroke-width="0.8" fill="none"/>
<text x="60.47" y="890.95" class="tk" text-anchor="end">0.00</text>
<text x="60.47" y="865.04" class="tk" text-anchor="end">0.25</text>
<text x="60.47" y="839.12" class="tk" text-anchor="end">0.50</text>
<text x="60.47" y="813.21" class="tk" text-anchor="end">0.75</text>
<text x="60.47" y="787.3" class="tk" text-anchor="end">1.00</text>
<text x="68.47" y="901.8" class="tk" text-anchor="middle">0</text>
<text x="94.19" y="901.8" class="tk" text-anchor="middle">25</text>
<text x="119.92" y="901.8" class="tk" text-anchor="middle">50</text>
<text x="145.64" y="901.8" class="tk" text-anchor="middle">75</text>
<text x="171.37" y="901.8" class="tk" text-anchor="middle">100</text>
<text x="119.97" y="911.1" class="ax" text-anchor="middle">Score Index</text>
<text x="63.47" y="773.58" class="ti">PD/DLB: Lemon</text>
<text x="40.8" y="835.59" class="ax" text-anchor="middle" transform="rotate(-90 40.8 835.59)">Proportion/Probability</text>
<path d="M228.72 778.78V892.4M254.45 778.78V892.4M280.17 778.78V892.4M305.9 778.78V892.4M210.86 874.49H323.86M210.86 848.58H323.86M210.86 822.67H323.86M210.86 796.76H323.86" stroke="#f4f4f4" stroke-width="0.5" fill="none"/>
<path d="M215.86 778.78V892.4M241.59 778.78V892.4M267.31 778.78V892.4M293.04 778.78V892.4M318.76 778.78V892.4M210.86 887.45H323.86M210.86 861.54H323.86M210.86 835.62H323.86M210.86 809.71H323.86M210.86 783.8H323.86" stroke="#ececec" stroke-width="0.6" fill="none"/>
<path d="M215.86 840.11 216.72 841.19 217.58 842.27 218.43 843.35 219.29 844.42 220.15 845.49 221.01 846.56 221.86 847.62 222.72 848.67 223.58 849.71 224.44 850.75 225.29 851.77 226.15 852.79 227.01 853.79 227.87 854.78 228.72 855.75 229.58 856.71 230.44 857.66 231.3 858.59 232.15 859.5 233.01 860.4 233.87 861.28 234.73 862.14 235.58 862.98 236.44 863.81 237.3 864.61 238.16 865.4 239.01 866.17 239.87 866.91 240.73 867.64 241.59 868.35 242.44 869.04 243.3 869.71 244.16 870.36 245.02 870.99 245.87 871.6 246.73 872.2 247.59 872.77 248.44 873.33 249.3 873.87 250.16 874.39 251.02 874.89 251.88 875.38 252.73 875.84 253.59 876.3 254.45 876.73 255.31 877.15 256.16 877.56 257.02 877.95 257.88 878.33 258.74 878.69 259.59 879.04 260.45 879.37 261.31 879.69 262.17 880 263.02 880.3 263.88 880.58 264.74 880.86 265.6 881.12 266.45 881.37 267.31 881.62 268.17 881.85 269.02 882.07 269.88 882.29 270.74 882.49 271.6 882.69 272.46 882.88 273.31 883.06 274.17 883.23 275.03 883.4 275.88 883.56 276.74 883.71 277.6 883.86 278.46 884 279.31 884.13 280.17 884.26 281.03 884.38 281.89 884.5 282.75 884.61 283.6 884.72 284.46 884.82 285.32 884.92 286.18 885.02 287.03 885.11 287.89 885.19 288.75 885.28 289.61 885.36 290.46 885.43 291.32 885.51 292.18 885.58 293.04 885.64 293.89 885.71 294.75 885.77 295.61 885.83 296.47 885.88 297.32 885.94 298.18 885.99 299.04 886.04 299.89 886.08 300.75 886.13 301.61 886.17 302.47 886.22 303.32 886.25 304.18 886.29 305.04 886.33 305.9 886.36 306.75 886.4 307.61 886.43 308.47 886.46 309.33 886.49 310.19 886.52 311.04 886.55 311.9 886.57 312.76 886.6 313.62 886.62 314.47 886.64 315.33 886.67 316.19 886.69 317.05 886.71 317.9 886.73 318.76 886.75" stroke="#e86c6c" stroke-width="1.35" fill="none" stroke-linejoin="round"/>
<path d="M215.86 886.3 216.72 886.28 217.58 886.25 218.43 886.23 219.29 886.2 220.15 886.17 221.01 886.15 221.86 886.12 222.72 886.09 223.58 886.07 224.44 886.04 225.29 886.01 226.15 885.98 227.01 885.95 227.87 885.92 228.72 885.89 229.58 885.86 230.44 885.83 231.3 885.8 232.15 885.77 233.01 885.74 233.87 885.71 234.73 885.68 235.58 885.65 236.44 885.62 237.3 885.58 238.16 885.55 239.01 885.52 239.87 885.49 240.73 885.45 241.59 885.42 242.44 885.39 243.3 885.35 244.16 885.32 245.02 885.29 245.87 885.25 246.73 885.22 247.59 885.19 248.44 885.15 249.3 885.12 250.16 885.09 251.02 885.05 251.88 885.02 252.73 884.99 253.59 884.95 254.45 884.92 255.31 884.89 256.16 884.85 257.02 884.82 257.88 884.79 258.74 884.76 259.59 884.73 260.45 884.7 261.31 884.66 262.17 884.63 263.02 884.6 263.88 884.57 264.74 884.55 265.6 884.52 266.45 884.49 267.31 884.46 268.17 884.43 269.02 884.41 269.88 884.38 270.74 884.36 271.6 884.33 272.46 884.31 273.31 884.29 274.17 884.26 275.03 884.24 275.88 884.22 276.74 884.2 277.6 884.18 278.46 884.16 279.31 884.15 280.17 884.13 281.03 884.11 281.89 884.1 282.75 884.09 283.6 884.07 284.46 884.06 285.32 884.05 286.18 884.04 287.03 884.04 287.89 884.03 288.75 884.02 289.61 884.02 290.46 884.01 291.32 884.01 292.18 884.01 293.04 884.01 293.89 884.01 294.75 884.01 295.61 884.02 296.47 884.02 297.32 884.03 298.18 884.03 299.04 884.04 299.89 884.05 300.75 884.06 301.61 884.07 302.47 884.09 303.32 884.1 304.18 884.12 305.04 884.13 305.9 884.15 306.75 884.17 307.61 884.19 308.47 884.21 309.33 884.23 310.19 884.26 311.04 884.28 311.9 884.31 312.76 884.33 313.62 884.36 314.47 884.39 315.33 884.42 316.19 884.45 317.05 884.48 317.9 884.51 318.76 884.55" stroke="#46cd46" stroke-width="1.35" fill="none" stroke-linejoin="round"/>
<path d="M215.86 838.21 216.72 837.35 217.58 836.52 218.43 835.72 219.29 834.95 220.15 834.2 221.01 833.49 221.86 832.8 222.72 832.14 223.58 831.51 224.44 830.91 225.29 830.34 226.15 829.8 227.01 829.29 227.87 828.8 228.72 828.35 229.58 827.92 230.44 827.52 231.3 827.14 232.15 826.79 233.01 826.47 233.87 826.17 234.73 825.9 235.58 825.66 236.44 825.44 237.3 825.24 238.16 825.07 239.01 824.93 239.87 824.8 240.73 824.7 241.59 824.63 242.44 824.57 243.3 824.54 244.16 824.53 245.02 824.54 245.87 824.57 246.73 824.63 247.59 824.71 248.44 824.8 249.3 824.92 250.16 825.06 251.02 825.21 251.88 825.39 252.73 825.59 253.59 825.81 254.45 826.04 255.31 826.3 256.16 826.57 257.02 826.86 257.88 827.17 258.74 827.5 259.59 827.84 260.45 828.2 261.31 828.58 262.17 828.98 263.02 829.39 263.88 829.82 264.74 830.26 265.6 830.72 266.45 831.2 267.31 831.69 268.17 832.19 269.02 832.71 269.88 833.24 270.74 833.78 271.6 834.34 272.46 834.91 273.31 835.49 274.17 836.08 275.03 836.68 275.88 837.29 276.74 837.91 277.6 838.54 278.46 839.17 279.31 839.82 280.17 840.47 281.03 841.12 281.89 841.79 282.75 842.45 283.6 843.12 284.46 843.8 285.32 844.47 286.18 845.15 287.03 845.83 287.89 846.52 288.75 847.2 289.61 847.88 290.46 848.56 291.32 849.23 292.18 849.91 293.04 850.58 293.89 851.25 294.75 851.91 295.61 852.57 296.47 853.23 297.32 853.87 298.18 854.52 299.04 855.15 299.89 855.78 300.75 856.4 301.61 857.01 302.47 857.61 303.32 858.2 304.18 858.79 305.04 859.36 305.9 859.93 306.75 860.49 307.61 861.03 308.47 861.57 309.33 862.09 310.19 862.6 311.04 863.11 311.9 863.6 312.76 864.08 313.62 864.55 314.47 865.01 315.33 865.46 316.19 865.89 317.05 866.32 317.9 866.73 318.76 867.14" stroke="#699ef5" stroke-width="1.35" fill="none" stroke-linejoin="round"/>
<path d="M215.86 880.61 216.72 880.31 217.58 880.01 218.43 879.7 219.29 879.37 220.15 879.04 221.01 878.69 221.86 878.34 222.72 877.98 223.58 877.6 224.44 877.22 225.29 876.83 226.15 876.42 227.01 876.01 227.87 875.58 228.72 875.15 229.58 874.7 230.44 874.25 231.3 873.78 232.15 873.3 233.01 872.82 233.87 872.32 234.73 871.81 235.58 871.29 236.44 870.77 237.3 870.23 238.16 869.68 239.01 869.12 239.87 868.56 240.73 867.98 241.59 867.4 242.44 866.8 243.3 866.2 244.16 865.59 245.02 864.96 245.87 864.34 246.73 863.7 247.59 863.05 248.44 862.4 249.3 861.74 250.16 861.07 251.02 860.4 251.88 859.72 252.73 859.03 253.59 858.34 254.45 857.64 255.31 856.93 256.16 856.22 257.02 855.51 257.88 854.79 258.74 854.06 259.59 853.33 260.45 852.6 261.31 851.87 262.17 851.13 263.02 850.39 263.88 849.64 264.74 848.9 265.6 848.15 266.45 847.4 267.31 846.65 268.17 845.9 269.02 845.14 269.88 844.39 270.74 843.64 271.6 842.88 272.46 842.13 273.31 841.38 274.17 840.63 275.03 839.88 275.88 839.13 276.74 838.38 277.6 837.63 278.46 836.89 279.31 836.15 280.17 835.41 281.03 834.68 281.89 833.94 282.75 833.22 283.6 832.49 284.46 831.77 285.32 831.05 286.18 830.33 287.03 829.62 287.89 828.92 288.75 828.22 289.61 827.52 290.46 826.83 291.32 826.14 292.18 825.46 293.04 824.78 293.89 824.11 294.75 823.44 295.61 822.78 296.47 822.13 297.32 821.48 298.18 820.83 299.04 820.19 299.89 819.56 300.75 818.94 301.61 818.32 302.47 817.7 303.32 817.09 304.18 816.49 305.04 815.9 305.9 815.31 306.75 814.72 307.61 814.15 308.47 813.57 309.33 813.01 310.19 812.45 311.04 811.9 311.9 811.36 312.76 810.82 313.62 810.29 314.47 809.76 315.33 809.24 316.19 808.73 317.05 808.22 317.9 807.73 318.76 807.23" stroke="#2316fa" stroke-width="2.4" fill="none" stroke-linejoin="round"/>
<path d="M221.01 892.4V778.78M241.59 892.4V778.78M267.31 892.4V778.78M293.04 892.4V778.78M313.62 892.4V778.78" stroke="#484848" stroke-width="0.85" fill="none" stroke-dasharray="2.6 2.4"/>
<path d="M210.86 835.62H323.86" stroke="#484848" stroke-width="0.85" fill="none" stroke-dasharray="2.6 2.45"/>
<rect x="210.86" y="778.78" width="113" height="113.62" fill="none" stroke="#a0a0a0" stroke-width="0.9"/>
<path d="M208.96 887.45H210.86M208.96 861.54H210.86M208.96 835.62H210.86M208.96 809.71H210.86M208.96 783.8H210.86M215.86 892.4V894.3M241.59 892.4V894.3M267.31 892.4V894.3M293.04 892.4V894.3M318.76 892.4V894.3" stroke="#555" stroke-width="0.8" fill="none"/>
<text x="207.86" y="890.95" class="tk" text-anchor="end">0.00</text>
<text x="207.86" y="865.04" class="tk" text-anchor="end">0.25</text>
<text x="207.86" y="839.12" class="tk" text-anchor="end">0.50</text>
<text x="207.86" y="813.21" class="tk" text-anchor="end">0.75</text>
<text x="207.86" y="787.3" class="tk" text-anchor="end">1.00</text>
<text x="215.86" y="901.8" class="tk" text-anchor="middle">0</text>
<text x="241.59" y="901.8" class="tk" text-anchor="middle">25</text>
<text x="267.31" y="901.8" class="tk" text-anchor="middle">50</text>
<text x="293.04" y="901.8" class="tk" text-anchor="middle">75</text>
<text x="318.76" y="901.8" class="tk" text-anchor="middle">100</text>
<text x="267.36" y="911.1" class="ax" text-anchor="middle">Score Index</text>
<text x="210.86" y="773.58" class="ti">HC: Lemon</text>
<path d="M439.31 778.78V892.4M465.04 778.78V892.4M490.76 778.78V892.4M516.49 778.78V892.4M421.45 874.49H534.45M421.45 848.58H534.45M421.45 822.67H534.45M421.45 796.76H534.45" stroke="#f4f4f4" stroke-width="0.5" fill="none"/>
<path d="M426.45 778.78V892.4M452.18 778.78V892.4M477.9 778.78V892.4M503.62 778.78V892.4M529.35 778.78V892.4M421.45 887.45H534.45M421.45 861.54H534.45M421.45 835.62H534.45M421.45 809.71H534.45M421.45 783.8H534.45" stroke="#ececec" stroke-width="0.6" fill="none"/>
<path d="M426.45 876.04 427.31 875.53 428.16 875.01 429.02 874.48 429.88 873.94 430.74 873.39 431.59 872.82 432.45 872.25 433.31 871.67 434.17 871.08 435.02 870.49 435.88 869.88 436.74 869.28 437.6 868.66 438.45 868.04 439.31 867.42 440.17 866.79 441.03 866.16 441.88 865.53 442.74 864.9 443.6 864.27 444.46 863.64 445.31 863.01 446.17 862.38 447.03 861.75 447.89 861.13 448.75 860.51 449.6 859.9 450.46 859.29 451.32 858.69 452.18 858.1 453.03 857.51 453.89 856.93 454.75 856.36 455.6 855.79 456.46 855.24 457.32 854.69 458.18 854.16 459.03 853.64 459.89 853.12 460.75 852.62 461.61 852.13 462.46 851.65 463.32 851.19 464.18 850.73 465.04 850.29 465.89 849.86 466.75 849.45 467.61 849.04 468.47 848.65 469.32 848.28 470.18 847.91 471.04 847.56 471.9 847.23 472.75 846.9 473.61 846.59 474.47 846.3 475.33 846.01 476.19 845.75 477.04 845.49 477.9 845.25 478.76 845.02 479.61 844.8 480.47 844.6 481.33 844.41 482.19 844.23 483.05 844.07 483.9 843.92 484.76 843.78 485.62 843.66 486.47 843.54 487.33 843.44 488.19 843.36 489.05 843.28 489.9 843.22 490.76 843.16 491.62 843.12 492.48 843.09 493.33 843.08 494.19 843.07 495.05 843.07 495.91 843.09 496.76 843.12 497.62 843.15 498.48 843.2 499.34 843.26 500.19 843.33 501.05 843.4 501.91 843.49 502.77 843.59 503.62 843.69 504.48 843.81 505.34 843.93 506.2 844.06 507.05 844.21 507.91 844.36 508.77 844.51 509.63 844.68 510.49 844.85 511.34 845.04 512.2 845.22 513.06 845.42 513.91 845.62 514.77 845.83 515.63 846.05 516.49 846.27 517.35 846.5 518.2 846.74 519.06 846.98 519.92 847.23 520.77 847.48 521.63 847.74 522.49 848 523.35 848.27 524.2 848.54 525.06 848.82 525.92 849.1 526.78 849.39 527.63 849.68 528.49 849.97 529.35 850.27" stroke="#e86c6c" stroke-width="1.35" fill="none" stroke-linejoin="round"/>
<path d="M426.45 817.34 427.31 818.35 428.16 819.38 429.02 820.43 429.88 821.5 430.74 822.59 431.59 823.69 432.45 824.81 433.31 825.95 434.17 827.1 435.02 828.27 435.88 829.44 436.74 830.63 437.6 831.83 438.45 833.04 439.31 834.26 440.17 835.48 441.03 836.71 441.88 837.95 442.74 839.18 443.6 840.41 444.46 841.65 445.31 842.88 446.17 844.11 447.03 845.33 447.89 846.54 448.75 847.75 449.6 848.95 450.46 850.13 451.32 851.31 452.18 852.47 453.03 853.61 453.89 854.74 454.75 855.85 455.6 856.94 456.46 858.02 457.32 859.07 458.18 860.1 459.03 861.11 459.89 862.1 460.75 863.07 461.61 864.01 462.46 864.93 463.32 865.82 464.18 866.69 465.04 867.54 465.89 868.36 466.75 869.16 467.61 869.93 468.47 870.68 469.32 871.4 470.18 872.1 471.04 872.77 471.9 873.42 472.75 874.05 473.61 874.66 474.47 875.24 475.33 875.8 476.19 876.34 477.04 876.86 477.9 877.35 478.76 877.83 479.61 878.29 480.47 878.72 481.33 879.14 482.19 879.55 483.05 879.93 483.9 880.3 484.76 880.65 485.62 880.98 486.47 881.31 487.33 881.61 488.19 881.9 489.05 882.18 489.9 882.45 490.76 882.7 491.62 882.94 492.48 883.17 493.33 883.39 494.19 883.6 495.05 883.8 495.91 883.98 496.76 884.16 497.62 884.33 498.48 884.5 499.34 884.65 500.19 884.79 501.05 884.93 501.91 885.07 502.77 885.19 503.62 885.31 504.48 885.42 505.34 885.53 506.2 885.63 507.05 885.73 507.91 885.82 508.77 885.9 509.63 885.99 510.49 886.06 511.34 886.14 512.2 886.21 513.06 886.27 513.91 886.33 514.77 886.39 515.63 886.45 516.49 886.5 517.35 886.55 518.2 886.6 519.06 886.65 519.92 886.69 520.77 886.73 521.63 886.77 522.49 886.8 523.35 886.84 524.2 886.87 525.06 886.9 525.92 886.93 526.78 886.96 527.63 886.99 528.49 887.01 529.35 887.03" stroke="#46cd46" stroke-width="1.35" fill="none" stroke-linejoin="round"/>
<path d="M426.45 873.42 427.31 873.08 428.16 872.75 429.02 872.42 429.88 872.09 430.74 871.77 431.59 871.46 432.45 871.16 433.31 870.86 434.17 870.57 435.02 870.28 435.88 870.01 436.74 869.74 437.6 869.48 438.45 869.24 439.31 869 440.17 868.77 441.03 868.55 441.88 868.34 442.74 868.14 443.6 867.95 444.46 867.77 445.31 867.6 446.17 867.45 447.03 867.3 447.89 867.17 448.75 867.04 449.6 866.93 450.46 866.83 451.32 866.74 452.18 866.67 453.03 866.6 453.89 866.54 454.75 866.5 455.6 866.47 456.46 866.45 457.32 866.44 458.18 866.44 459.03 866.45 459.89 866.47 460.75 866.5 461.61 866.54 462.46 866.6 463.32 866.66 464.18 866.73 465.04 866.82 465.89 866.91 466.75 867.01 467.61 867.12 468.47 867.24 469.32 867.37 470.18 867.5 471.04 867.65 471.9 867.8 472.75 867.96 473.61 868.13 474.47 868.31 475.33 868.49 476.19 868.68 477.04 868.87 477.9 869.07 478.76 869.28 479.61 869.49 480.47 869.71 481.33 869.93 482.19 870.15 483.05 870.38 483.9 870.62 484.76 870.86 485.62 871.1 486.47 871.34 487.33 871.59 488.19 871.84 489.05 872.09 489.9 872.35 490.76 872.6 491.62 872.86 492.48 873.12 493.33 873.37 494.19 873.63 495.05 873.89 495.91 874.15 496.76 874.41 497.62 874.67 498.48 874.93 499.34 875.19 500.19 875.44 501.05 875.7 501.91 875.95 502.77 876.2 503.62 876.45 504.48 876.7 505.34 876.95 506.2 877.19 507.05 877.43 507.91 877.67 508.77 877.9 509.63 878.14 510.49 878.37 511.34 878.59 512.2 878.82 513.06 879.04 513.91 879.25 514.77 879.46 515.63 879.67 516.49 879.88 517.35 880.08 518.2 880.28 519.06 880.47 519.92 880.66 520.77 880.85 521.63 881.04 522.49 881.21 523.35 881.39 524.2 881.56 525.06 881.73 525.92 881.89 526.78 882.05 527.63 882.21 528.49 882.36 529.35 882.51" stroke="#699ef5" stroke-width="1.35" fill="none" stroke-linejoin="round"/>
<path d="M426.45 883.18 427.31 882.94 428.16 882.69 429.02 882.43 429.88 882.16 430.74 881.88 431.59 881.6 432.45 881.3 433.31 880.99 434.17 880.67 435.02 880.34 435.88 880 436.74 879.65 437.6 879.3 438.45 878.93 439.31 878.55 440.17 878.16 441.03 877.76 441.88 877.35 442.74 876.93 443.6 876.51 444.46 876.07 445.31 875.62 446.17 875.17 447.03 874.71 447.89 874.23 448.75 873.75 449.6 873.27 450.46 872.77 451.32 872.27 452.18 871.76 453.03 871.24 453.89 870.72 454.75 870.19 455.6 869.66 456.46 869.12 457.32 868.58 458.18 868.03 459.03 867.47 459.89 866.92 460.75 866.36 461.61 865.79 462.46 865.22 463.32 864.66 464.18 864.08 465.04 863.51 465.89 862.93 466.75 862.36 467.61 861.78 468.47 861.2 469.32 860.62 470.18 860.04 471.04 859.47 471.9 858.89 472.75 858.31 473.61 857.74 474.47 857.16 475.33 856.59 476.19 856.02 477.04 855.45 477.9 854.88 478.76 854.32 479.61 853.75 480.47 853.19 481.33 852.64 482.19 852.08 483.05 851.53 483.9 850.99 484.76 850.44 485.62 849.9 486.47 849.37 487.33 848.83 488.19 848.3 489.05 847.78 489.9 847.26 490.76 846.74 491.62 846.22 492.48 845.71 493.33 845.21 494.19 844.7 495.05 844.21 495.91 843.71 496.76 843.22 497.62 842.73 498.48 842.25 499.34 841.77 500.19 841.3 501.05 840.82 501.91 840.36 502.77 839.89 503.62 839.43 504.48 838.97 505.34 838.52 506.2 838.07 507.05 837.62 507.91 837.17 508.77 836.73 509.63 836.29 510.49 835.86 511.34 835.42 512.2 834.99 513.06 834.57 513.91 834.14 514.77 833.72 515.63 833.29 516.49 832.88 517.35 832.46 518.2 832.04 519.06 831.63 519.92 831.22 520.77 830.81 521.63 830.4 522.49 829.99 523.35 829.58 524.2 829.18 525.06 828.77 525.92 828.37 526.78 827.96 527.63 827.56 528.49 827.16 529.35 826.76" stroke="#2316fa" stroke-width="2.4" fill="none" stroke-linejoin="round"/>
<path d="M431.59 892.4V778.78M452.18 892.4V778.78M477.9 892.4V778.78M503.62 892.4V778.78M524.2 892.4V778.78" stroke="#484848" stroke-width="0.85" fill="none" stroke-dasharray="2.6 2.4"/>
<path d="M421.45 835.62H534.45" stroke="#484848" stroke-width="0.85" fill="none" stroke-dasharray="2.6 2.45"/>
<rect x="421.45" y="778.78" width="113" height="113.62" fill="none" stroke="#a0a0a0" stroke-width="0.9"/>
<path d="M419.55 887.45H421.45M419.55 861.54H421.45M419.55 835.62H421.45M419.55 809.71H421.45M419.55 783.8H421.45M426.45 892.4V894.3M452.18 892.4V894.3M477.9 892.4V894.3M503.62 892.4V894.3M529.35 892.4V894.3" stroke="#555" stroke-width="0.8" fill="none"/>
<text x="418.45" y="890.95" class="tk" text-anchor="end">0.00</text>
<text x="418.45" y="865.04" class="tk" text-anchor="end">0.25</text>
<text x="418.45" y="839.12" class="tk" text-anchor="end">0.50</text>
<text x="418.45" y="813.21" class="tk" text-anchor="end">0.75</text>
<text x="418.45" y="787.3" class="tk" text-anchor="end">1.00</text>
<text x="426.45" y="901.8" class="tk" text-anchor="middle">0</text>
<text x="452.18" y="901.8" class="tk" text-anchor="middle">25</text>
<text x="477.9" y="901.8" class="tk" text-anchor="middle">50</text>
<text x="503.62" y="901.8" class="tk" text-anchor="middle">75</text>
<text x="529.35" y="901.8" class="tk" text-anchor="middle">100</text>
<text x="477.95" y="911.1" class="ax" text-anchor="middle">Score Index</text>
<text x="421.45" y="773.58" class="ti">PD/DLB: Lemon</text>
<text x="398.78" y="835.59" class="ax" text-anchor="middle" transform="rotate(-90 398.78 835.59)">Proportion/Probability</text>
<path d="M587.31 778.78V892.4M613.04 778.78V892.4M638.76 778.78V892.4M664.49 778.78V892.4M569.45 874.49H682.45M569.45 848.58H682.45M569.45 822.67H682.45M569.45 796.76H682.45" stroke="#f4f4f4" stroke-width="0.5" fill="none"/>
<path d="M574.45 778.78V892.4M600.18 778.78V892.4M625.9 778.78V892.4M651.62 778.78V892.4M677.35 778.78V892.4M569.45 887.45H682.45M569.45 861.54H682.45M569.45 835.62H682.45M569.45 809.71H682.45M569.45 783.8H682.45" stroke="#ececec" stroke-width="0.6" fill="none"/>
<path d="M574.45 818.35 575.31 818.28 576.17 818.21 577.02 818.15 577.88 818.09 578.74 818.04 579.6 817.99 580.45 817.95 581.31 817.92 582.17 817.89 583.03 817.86 583.88 817.84 584.74 817.83 585.6 817.82 586.46 817.82 587.31 817.82 588.17 817.83 589.03 817.84 589.88 817.86 590.74 817.89 591.6 817.92 592.46 817.95 593.32 818 594.17 818.05 595.03 818.1 595.89 818.16 596.75 818.23 597.6 818.3 598.46 818.38 599.32 818.46 600.18 818.55 601.03 818.65 601.89 818.75 602.75 818.86 603.61 818.98 604.46 819.1 605.32 819.23 606.18 819.36 607.04 819.5 607.89 819.65 608.75 819.8 609.61 819.96 610.47 820.13 611.32 820.3 612.18 820.48 613.04 820.67 613.89 820.86 614.75 821.06 615.61 821.27 616.47 821.48 617.33 821.7 618.18 821.93 619.04 822.16 619.9 822.4 620.75 822.65 621.61 822.9 622.47 823.16 623.33 823.43 624.19 823.7 625.04 823.98 625.9 824.27 626.76 824.56 627.62 824.86 628.47 825.17 629.33 825.48 630.19 825.8 631.05 826.13 631.9 826.46 632.76 826.8 633.62 827.15 634.48 827.5 635.33 827.86 636.19 828.23 637.05 828.6 637.91 828.97 638.76 829.35 639.62 829.74 640.48 830.13 641.34 830.53 642.19 830.94 643.05 831.34 643.91 831.76 644.76 832.18 645.62 832.6 646.48 833.03 647.34 833.46 648.2 833.89 649.05 834.33 649.91 834.77 650.77 835.22 651.62 835.67 652.48 836.12 653.34 836.57 654.2 837.03 655.06 837.49 655.91 837.95 656.77 838.41 657.63 838.88 658.49 839.34 659.34 839.8 660.2 840.27 661.06 840.73 661.92 841.2 662.77 841.66 663.63 842.13 664.49 842.59 665.35 843.05 666.2 843.51 667.06 843.97 667.92 844.42 668.78 844.87 669.63 845.32 670.49 845.77 671.35 846.21 672.21 846.65 673.06 847.08 673.92 847.51 674.78 847.93 675.63 848.35 676.49 848.76 677.35 849.17" stroke="#e86c6c" stroke-width="1.35" fill="none" stroke-linejoin="round"/>
<path d="M574.45 885.95 575.31 885.96 576.17 885.96 577.02 885.97 577.88 885.98 578.74 885.99 579.6 886 580.45 886.01 581.31 886.01 582.17 886.02 583.03 886.03 583.88 886.04 584.74 886.05 585.6 886.05 586.46 886.06 587.31 886.07 588.17 886.08 589.03 886.09 589.88 886.09 590.74 886.1 591.6 886.11 592.46 886.12 593.32 886.12 594.17 886.13 595.03 886.14 595.89 886.15 596.75 886.15 597.6 886.16 598.46 886.17 599.32 886.18 600.18 886.18 601.03 886.19 601.89 886.2 602.75 886.2 603.61 886.21 604.46 886.22 605.32 886.23 606.18 886.23 607.04 886.24 607.89 886.25 608.75 886.25 609.61 886.26 610.47 886.27 611.32 886.27 612.18 886.28 613.04 886.29 613.89 886.29 614.75 886.3 615.61 886.31 616.47 886.31 617.33 886.32 618.18 886.33 619.04 886.33 619.9 886.34 620.75 886.34 621.61 886.35 622.47 886.36 623.33 886.36 624.19 886.37 625.04 886.38 625.9 886.38 626.76 886.39 627.62 886.39 628.47 886.4 629.33 886.41 630.19 886.41 631.05 886.42 631.9 886.42 632.76 886.43 633.62 886.44 634.48 886.44 635.33 886.45 636.19 886.45 637.05 886.46 637.91 886.46 638.76 886.47 639.62 886.47 640.48 886.48 641.34 886.49 642.19 886.49 643.05 886.5 643.91 886.5 644.76 886.51 645.62 886.51 646.48 886.52 647.34 886.52 648.2 886.53 649.05 886.53 649.91 886.54 650.77 886.54 651.62 886.55 652.48 886.55 653.34 886.56 654.2 886.57 655.06 886.57 655.91 886.58 656.77 886.58 657.63 886.59 658.49 886.59 659.34 886.59 660.2 886.6 661.06 886.6 661.92 886.61 662.77 886.61 663.63 886.62 664.49 886.62 665.35 886.63 666.2 886.63 667.06 886.64 667.92 886.64 668.78 886.65 669.63 886.65 670.49 886.66 671.35 886.66 672.21 886.67 673.06 886.67 673.92 886.67 674.78 886.68 675.63 886.68 676.49 886.69 677.35 886.69" stroke="#46cd46" stroke-width="1.35" fill="none" stroke-linejoin="round"/>
<path d="M574.45 862.24 575.31 862.5 576.17 862.76 577.02 863.02 577.88 863.28 578.74 863.53 579.6 863.79 580.45 864.05 581.31 864.3 582.17 864.56 583.03 864.81 583.88 865.06 584.74 865.32 585.6 865.57 586.46 865.82 587.31 866.06 588.17 866.31 589.03 866.56 589.88 866.8 590.74 867.05 591.6 867.29 592.46 867.53 593.32 867.77 594.17 868.01 595.03 868.25 595.89 868.49 596.75 868.72 597.6 868.96 598.46 869.19 599.32 869.42 600.18 869.65 601.03 869.88 601.89 870.11 602.75 870.33 603.61 870.56 604.46 870.78 605.32 871.01 606.18 871.23 607.04 871.45 607.89 871.66 608.75 871.88 609.61 872.09 610.47 872.31 611.32 872.52 612.18 872.73 613.04 872.94 613.89 873.15 614.75 873.35 615.61 873.55 616.47 873.76 617.33 873.96 618.18 874.16 619.04 874.35 619.9 874.55 620.75 874.74 621.61 874.94 622.47 875.13 623.33 875.32 624.19 875.5 625.04 875.69 625.9 875.87 626.76 876.06 627.62 876.24 628.47 876.42 629.33 876.59 630.19 876.77 631.05 876.94 631.9 877.11 632.76 877.28 633.62 877.45 634.48 877.62 635.33 877.78 636.19 877.95 637.05 878.11 637.91 878.27 638.76 878.43 639.62 878.58 640.48 878.74 641.34 878.89 642.19 879.04 643.05 879.19 643.91 879.34 644.76 879.48 645.62 879.63 646.48 879.77 647.34 879.91 648.2 880.05 649.05 880.18 649.91 880.32 650.77 880.45 651.62 880.58 652.48 880.71 653.34 880.84 654.2 880.97 655.06 881.09 655.91 881.22 656.77 881.34 657.63 881.46 658.49 881.58 659.34 881.69 660.2 881.81 661.06 881.92 661.92 882.03 662.77 882.14 663.63 882.25 664.49 882.36 665.35 882.46 666.2 882.56 667.06 882.67 667.92 882.77 668.78 882.86 669.63 882.96 670.49 883.06 671.35 883.15 672.21 883.24 673.06 883.33 673.92 883.42 674.78 883.51 675.63 883.6 676.49 883.68 677.35 883.77" stroke="#699ef5" stroke-width="1.35" fill="none" stroke-linejoin="round"/>
<path d="M574.45 879.1 575.31 878.91 576.17 878.72 577.02 878.52 577.88 878.32 578.74 878.12 579.6 877.91 580.45 877.7 581.31 877.48 582.17 877.26 583.03 877.04 583.88 876.81 584.74 876.58 585.6 876.34 586.46 876.1 587.31 875.86 588.17 875.61 589.03 875.35 589.88 875.09 590.74 874.83 591.6 874.57 592.46 874.29 593.32 874.02 594.17 873.74 595.03 873.45 595.89 873.16 596.75 872.87 597.6 872.57 598.46 872.26 599.32 871.96 600.18 871.64 601.03 871.32 601.89 871 602.75 870.67 603.61 870.34 604.46 870 605.32 869.66 606.18 869.31 607.04 868.96 607.89 868.6 608.75 868.23 609.61 867.87 610.47 867.49 611.32 867.11 612.18 866.73 613.04 866.34 613.89 865.95 614.75 865.55 615.61 865.14 616.47 864.74 617.33 864.32 618.18 863.9 619.04 863.48 619.9 863.05 620.75 862.61 621.61 862.18 622.47 861.73 623.33 861.28 624.19 860.83 625.04 860.37 625.9 859.91 626.76 859.44 627.62 858.97 628.47 858.49 629.33 858.01 630.19 857.52 631.05 857.03 631.9 856.54 632.76 856.04 633.62 855.53 634.48 855.03 635.33 854.52 636.19 854 637.05 853.48 637.91 852.96 638.76 852.43 639.62 851.9 640.48 851.36 641.34 850.82 642.19 850.28 643.05 849.74 643.91 849.19 644.76 848.64 645.62 848.09 646.48 847.53 647.34 846.97 648.2 846.41 649.05 845.84 649.91 845.28 650.77 844.71 651.62 844.14 652.48 843.56 653.34 842.99 654.2 842.41 655.06 841.83 655.91 841.25 656.77 840.67 657.63 840.09 658.49 839.51 659.34 838.92 660.2 838.34 661.06 837.75 661.92 837.17 662.77 836.58 663.63 835.99 664.49 835.41 665.35 834.82 666.2 834.24 667.06 833.65 667.92 833.07 668.78 832.48 669.63 831.9 670.49 831.31 671.35 830.73 672.21 830.15 673.06 829.57 673.92 829 674.78 828.42 675.63 827.85 676.49 827.27 677.35 826.7" stroke="#2316fa" stroke-width="2.4" fill="none" stroke-linejoin="round"/>
<path d="M579.6 892.4V778.78M600.18 892.4V778.78M625.9 892.4V778.78M651.62 892.4V778.78M672.21 892.4V778.78" stroke="#484848" stroke-width="0.85" fill="none" stroke-dasharray="2.6 2.4"/>
<path d="M569.45 835.62H682.45" stroke="#484848" stroke-width="0.85" fill="none" stroke-dasharray="2.6 2.45"/>
<rect x="569.45" y="778.78" width="113" height="113.62" fill="none" stroke="#a0a0a0" stroke-width="0.9"/>
<path d="M567.55 887.45H569.45M567.55 861.54H569.45M567.55 835.62H569.45M567.55 809.71H569.45M567.55 783.8H569.45M574.45 892.4V894.3M600.18 892.4V894.3M625.9 892.4V894.3M651.62 892.4V894.3M677.35 892.4V894.3" stroke="#555" stroke-width="0.8" fill="none"/>
<text x="566.45" y="890.95" class="tk" text-anchor="end">0.00</text>
<text x="566.45" y="865.04" class="tk" text-anchor="end">0.25</text>
<text x="566.45" y="839.12" class="tk" text-anchor="end">0.50</text>
<text x="566.45" y="813.21" class="tk" text-anchor="end">0.75</text>
<text x="566.45" y="787.3" class="tk" text-anchor="end">1.00</text>
<text x="574.45" y="901.8" class="tk" text-anchor="middle">0</text>
<text x="600.18" y="901.8" class="tk" text-anchor="middle">25</text>
<text x="625.9" y="901.8" class="tk" text-anchor="middle">50</text>
<text x="651.62" y="901.8" class="tk" text-anchor="middle">75</text>
<text x="677.35" y="901.8" class="tk" text-anchor="middle">100</text>
<text x="625.95" y="911.1" class="ax" text-anchor="middle">Score Index</text>
<text x="569.45" y="773.58" class="ti">HC: Lemon</text>
<path d="M72.54 924H80.64" stroke="#e86c6c" stroke-width="1.3"/>
<text x="84.54" y="927" class="lg">1-Peach</text>
<path d="M121.77 924H129.87" stroke="#46cd46" stroke-width="1.3"/>
<text x="133.77" y="927" class="lg">2-Apple</text>
<path d="M168.71 924H176.81" stroke="#699ef5" stroke-width="1.3"/>
<text x="180.71" y="927" class="lg">4-Grapefruit</text>
<path d="M243.63 924H251.73" stroke="#2316fa" stroke-width="2.6"/>
<text x="255.63" y="927" class="lg">3-Lemon</text>
<path d="M423.27 924H431.37" stroke="#2316fa" stroke-width="2.6"/>
<text x="435.27" y="927" class="lg">4-Lemon</text>
<path d="M486.73 924H494.83" stroke="#e86c6c" stroke-width="1.3"/>
<text x="498.73" y="927" class="lg">1-Motor oil</text>
<path d="M544.2 924H552.3" stroke="#46cd46" stroke-width="1.3"/>
<text x="556.2" y="927" class="lg">2-Pumpkin pie</text>
<path d="M615.44 924H623.54" stroke="#699ef5" stroke-width="1.3"/>
<text x="627.44" y="927" class="lg">3-Rose</text>
</svg></body></html>
